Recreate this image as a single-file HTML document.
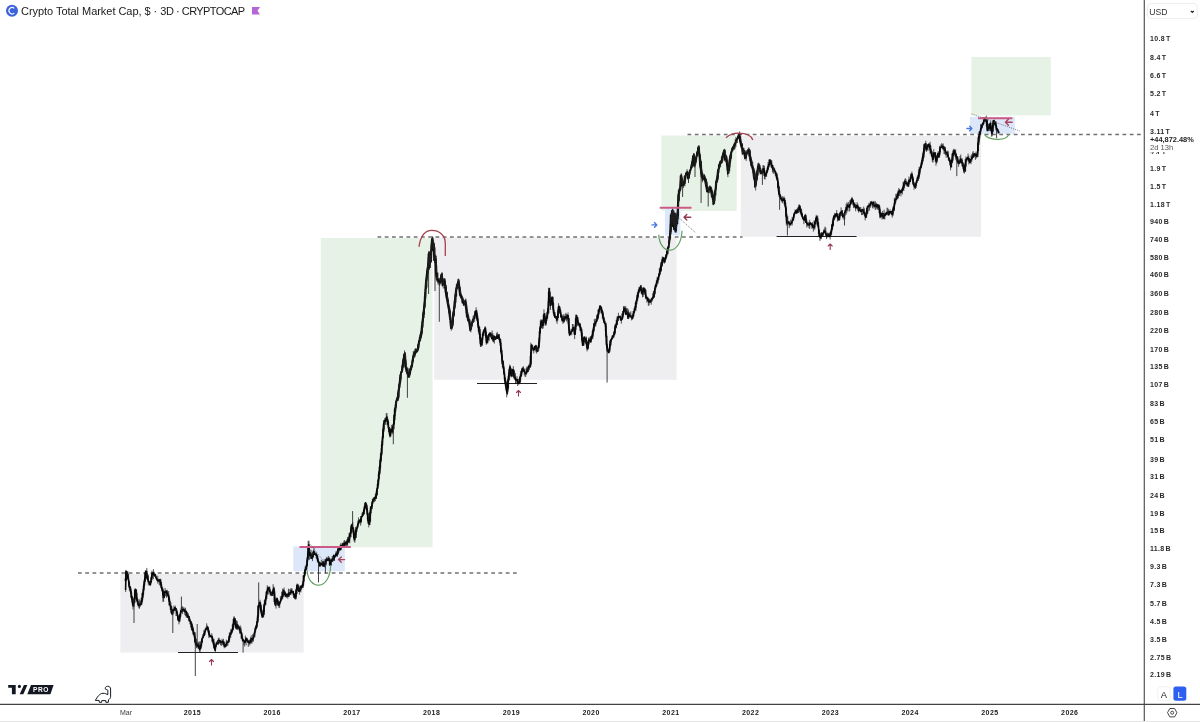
<!DOCTYPE html>
<html><head><meta charset="utf-8"><style>
html,body{margin:0;padding:0;background:#fff;}
body{will-change:transform;width:1200px;height:722px;overflow:hidden;position:relative;font-family:"Liberation Sans",sans-serif;}
.abs{position:absolute;}
svg{position:absolute;left:0;top:0;}
.yl{position:absolute;left:1150px;font-size:7px;line-height:9px;color:#2a2a2a;font-weight:bold;white-space:nowrap;word-spacing:-1.1px;letter-spacing:0.3px;}
.yr{position:absolute;top:708px;width:30px;text-align:center;font-size:7px;line-height:9px;font-weight:bold;color:#222;letter-spacing:0.4px;}
#title{position:absolute;left:21px;top:4.6px;font-size:11px;line-height:13px;color:#1a1a1a;white-space:nowrap;letter-spacing:-0.04px;}
#cc{letter-spacing:-0.6px;}
#c3{letter-spacing:-0.45px;}
</style></head><body>
<svg width="1200" height="722" viewBox="0 0 1200 722">
  <!-- boxes -->
  <rect x="120.3" y="574" width="183.4" height="78.5" fill="#eeeef1"/>
  <rect x="434.2" y="237.5" width="242.4" height="142.3" fill="#eeeef1"/>
  <rect x="740.8" y="136" width="240.3" height="100.8" fill="#eeeef1"/>
  <rect x="320.7" y="238" width="111.9" height="309.2" fill="#e7f2e6"/>
  <rect x="661.3" y="135.5" width="75.4" height="75.5" fill="#e7f2e6"/>
  <rect x="971.3" y="57" width="79.5" height="58.4" fill="#e7f2e6"/>
  <rect x="293.3" y="546.4" width="51.5" height="24.9" fill="#dce7fa"/>
  <rect x="664.9" y="208.4" width="15.5" height="27.1" fill="#dce7fa"/>
  <rect x="970" y="116.8" width="44.8" height="17" fill="#dce7fa"/>
  <!-- dashed lines -->
  <g stroke="#707070" stroke-width="1.3" stroke-dasharray="3.75 3.5">
    <line x1="78" y1="573" x2="517" y2="573"/>
    <line x1="377.5" y1="237" x2="742.5" y2="237"/>
    <line x1="687.5" y1="134.5" x2="1141" y2="134.5"/>
  </g>
  <!-- support lines -->
  <g stroke="#222" stroke-width="1.1">
    <line x1="178" y1="652.5" x2="238" y2="652.5"/>
    <line x1="477" y1="383.5" x2="537" y2="383.5"/>
    <line x1="776.6" y1="236.5" x2="856.6" y2="236.5"/>
  </g>
  <!-- price -->
  <path d="M125.66,570.6V592.1M126.39,570.8V579.9M127.12,571.8V577.1M127.86,571.1V579.9M128.59,573.7V585.3M129.31,581.7V590.8M130.04,586.9V592.1M130.77,587.3V597.5M131.50,592.3V599.7M132.23,596.2V604.7M132.96,601.7V609.4M133.69,598.0V607.0M134.42,590.3V602.4M135.15,588.0V599.7M135.88,590.3V599.2M136.61,590.3V601.8M137.34,597.4V604.5M138.07,598.7V606.6M138.80,604.2V608.3M139.53,599.4V608.7M140.26,602.0V606.9M140.99,599.8V603.1M141.72,598.3V605.0M142.45,591.9V601.9M143.18,585.7V597.6M143.91,581.2V590.4M144.64,572.2V585.5M145.37,570.4V581.7M146.10,571.0V575.2M146.83,567.9V579.6M147.56,573.3V580.5M148.29,575.8V585.4M149.02,581.4V584.0M149.75,583.2V585.1M150.48,580.9V585.6M151.21,577.4V582.2M151.94,570.6V579.7M152.67,571.9V575.3M153.40,569.1V579.2M154.13,571.7V575.7M154.86,573.2V576.8M155.59,574.2V577.2M156.32,575.6V579.4M157.05,578.1V581.2M157.78,575.7V583.6M158.51,579.1V581.5M159.24,578.8V584.9M159.97,581.1V585.6M160.70,578.7V587.9M161.43,582.0V588.2M162.16,587.7V592.1M162.89,587.8V601.9M163.62,590.2V601.7M164.35,591.5V597.7M165.08,588.0V596.3M165.81,589.9V596.2M166.54,590.0V597.8M167.27,589.8V596.3M168.00,591.6V597.4M168.73,591.0V601.8M169.46,596.8V605.2M170.19,600.9V609.9M170.92,602.4V612.9M171.65,605.9V612.4M172.38,609.4V615.5M173.11,608.2V614.6M173.84,605.5V613.5M174.57,607.0V609.7M175.30,605.6V610.9M176.03,608.1V616.0M176.76,609.4V616.1M177.49,611.6V620.7M178.22,615.1V619.9M178.95,618.8V624.4M179.68,613.7V622.2M180.41,609.9V617.6M181.14,607.9V612.6M181.87,606.2V612.4M182.60,606.4V614.1M183.33,607.5V611.8M184.06,607.4V612.0M184.79,609.0V615.1M185.52,607.7V616.1M186.25,610.2V617.5M186.98,612.2V615.4M187.71,615.1V617.1M188.44,613.4V620.9M189.17,615.9V621.9M189.90,619.3V624.4M190.63,620.5V627.6M191.36,621.8V630.3M192.09,623.9V630.6M192.82,626.1V634.6M193.55,628.3V635.0M194.28,631.8V637.9M195.01,632.6V642.4M195.74,638.2V645.5M196.47,639.0V648.0M197.20,643.4V648.5M197.93,641.5V645.7M198.66,642.3V648.8M199.39,641.5V651.7M200.12,645.9V652.7M200.85,641.4V648.6M201.58,638.7V645.6M202.31,636.7V642.8M203.04,634.2V638.5M203.77,630.2V635.6M204.50,631.1V633.9M205.23,628.5V631.8M205.96,626.8V630.1M206.69,623.3V629.3M207.42,625.5V630.0M208.15,627.6V632.9M208.88,630.6V638.1M209.61,633.4V637.2M210.34,635.3V636.6M211.07,635.0V637.4M211.80,633.2V641.8M212.53,636.1V641.8M213.26,639.7V645.5M213.99,638.7V648.9M214.72,646.5V651.1M215.45,644.9V651.6M216.18,641.8V646.5M216.91,641.6V644.3M217.64,640.3V643.2M218.37,637.9V643.4M219.10,637.8V643.6M219.83,639.5V642.5M220.56,640.3V645.1M221.29,640.7V645.9M222.02,638.8V645.3M222.75,640.8V644.8M223.48,638.8V646.6M224.21,641.3V648.3M224.94,641.8V646.2M225.67,644.2V646.6M226.40,639.6V646.6M227.13,640.4V646.0M227.86,640.6V645.8M228.59,636.2V643.0M229.32,632.6V640.2M230.05,632.3V637.9M230.78,628.9V637.8M231.51,629.6V633.6M232.24,624.7V632.7M232.97,623.6V629.7M233.70,616.6V624.5M234.43,616.5V625.1M235.16,618.1V627.8M235.89,620.0V626.9M236.62,620.6V625.8M237.35,621.3V630.0M238.08,624.6V627.1M238.81,625.8V630.5M239.54,626.5V633.7M240.27,625.3V633.2M241.00,627.1V634.1M241.73,632.0V638.7M242.46,636.4V641.4M243.19,638.9V641.9M243.92,640.1V644.8M244.65,640.7V646.6M245.38,635.5V643.3M246.11,637.1V645.3M246.84,637.8V641.2M247.57,639.5V641.8M248.30,639.8V646.8M249.03,641.1V644.4M249.76,639.4V645.6M250.49,637.2V643.3M251.22,635.3V643.3M251.95,638.0V643.7M252.68,634.2V641.9M253.41,635.8V641.5M254.14,632.0V636.6M254.87,628.2V637.4M255.60,626.2V631.6M256.33,623.9V628.6M257.06,617.7V627.6M257.79,605.7V623.2M258.52,604.2V617.2M259.25,602.1V608.2M259.98,599.7V607.0M260.71,604.0V612.6M261.44,605.3V615.1M262.17,609.6V616.0M262.90,612.7V617.0M263.63,604.4V617.4M264.36,600.2V615.0M265.09,598.8V605.1M265.82,591.7V604.6M266.55,590.8V599.3M267.28,585.3V594.3M268.01,586.4V590.4M268.74,588.5V594.5M269.47,589.8V592.0M270.20,589.4V595.5M270.93,591.7V596.1M271.66,591.5V595.0M272.39,590.3V593.9M273.12,584.2V593.6M273.85,586.5V595.4M274.58,590.2V604.2M275.31,598.9V606.3M276.04,597.8V608.6M276.77,597.4V602.1M277.50,597.9V604.7M278.23,599.5V603.5M278.96,602.3V608.1M279.69,601.1V607.8M280.42,596.1V603.4M281.15,597.4V601.1M281.88,591.5V598.2M282.61,588.7V596.9M283.34,589.1V596.7M284.07,587.5V596.9M284.80,591.7V595.2M285.53,591.5V596.7M286.26,594.1V597.9M286.99,594.4V596.4M287.72,593.0V598.7M288.45,588.7V594.6M289.18,589.2V597.0M289.91,592.3V594.9M290.64,588.5V593.6M291.37,588.3V593.0M292.10,588.6V595.4M292.83,591.1V593.6M293.56,590.8V598.0M294.29,594.3V598.2M295.02,593.0V599.0M295.75,590.3V598.3M296.48,584.7V596.9M297.21,583.4V594.0M297.94,584.5V590.3M298.67,585.7V591.9M299.40,586.5V594.7M300.13,585.6V591.8M300.86,585.5V592.4M301.59,585.2V589.7M302.32,584.5V587.3M303.05,575.5V588.1M303.78,574.9V581.1M304.51,569.4V576.5M305.24,566.0V575.6M305.97,564.6V570.0M306.70,560.2V570.5M307.43,553.3V565.8M308.16,540.9V560.3M308.89,540.6V556.8M309.62,547.4V559.8M310.35,552.1V558.7M311.08,549.8V556.6M311.81,555.9V558.5M312.54,551.9V561.1M313.27,550.0V557.2M314.00,547.8V554.6M314.73,551.2V555.1M315.46,554.1V555.7M316.19,552.6V558.5M316.92,555.1V559.2M317.65,555.9V562.2M318.38,558.4V563.1M319.11,561.1V564.8M319.84,562.0V563.9M320.57,562.5V565.1M321.30,559.9V565.4M322.03,563.2V566.1M322.76,560.7V566.9M323.49,561.7V566.4M324.22,559.2V565.7M324.95,561.5V567.6M325.68,560.6V563.7M326.41,557.5V565.3M327.14,556.7V561.2M327.88,558.5V561.0M328.61,556.0V560.9M329.34,557.2V565.2M330.07,559.5V564.6M330.80,558.4V561.3M331.53,558.8V565.5M332.26,556.0V561.8M332.99,558.0V561.7M333.72,554.5V560.5M334.45,555.9V561.0M335.18,555.8V557.5M335.91,551.4V556.5M336.64,551.3V556.0M337.37,551.9V556.9M338.10,548.0V554.8M338.83,546.6V552.7M339.56,546.7V550.5M340.29,544.3V549.9M341.02,542.8V550.1M341.75,545.0V548.0M342.48,544.3V547.3M343.21,542.4V547.1M343.94,540.7V545.3M344.67,540.0V546.1M345.40,541.1V545.2M346.13,542.4V547.4M346.86,539.4V547.7M347.59,537.0V545.6M348.32,536.6V542.4M349.05,532.9V542.0M349.78,532.7V543.3M350.51,528.4V537.5M351.24,524.4V533.7M351.97,524.1V526.8M352.70,522.1V532.6M353.43,528.4V537.2M354.16,530.1V541.8M354.89,533.0V542.7M355.62,526.8V537.5M356.35,527.5V534.3M357.08,526.0V531.9M357.81,520.6V527.7M358.54,517.4V525.6M359.27,520.1V522.5M360.00,520.3V524.0M360.73,518.4V525.7M361.46,516.5V522.5M362.19,512.8V517.1M362.92,511.6V516.2M363.65,509.3V514.0M364.38,505.6V514.4M365.11,502.7V509.6M365.84,502.2V506.8M366.57,503.6V511.1M367.30,505.2V519.4M368.03,513.7V523.4M368.76,520.6V527.4M369.49,512.1V525.1M370.22,508.2V522.5M370.95,506.0V513.7M371.68,501.5V509.8M372.41,498.9V508.9M373.14,497.7V503.5M373.87,498.7V501.1M374.60,496.5V502.1M375.33,493.8V501.1M376.06,491.2V498.9M376.79,488.0V496.3M377.52,479.7V490.5M378.25,474.1V488.7M378.98,466.8V479.5M379.71,459.6V474.8M380.44,453.0V469.9M381.17,448.1V462.2M381.90,441.0V455.5M382.63,430.9V445.4M383.36,423.5V437.7M384.09,420.1V431.6M384.82,417.9V422.8M385.55,417.7V424.8M386.28,413.1V420.0M387.01,413.2V425.1M387.74,420.5V425.3M388.47,420.9V432.1M389.20,427.8V434.2M389.93,430.6V437.6M390.66,428.2V436.6M391.39,424.9V432.5M392.12,427.0V432.1M392.85,425.2V434.5M393.58,419.6V428.6M394.31,409.4V424.6M395.04,404.6V419.9M395.77,401.5V411.5M396.50,398.7V407.7M397.23,397.5V401.3M397.96,391.6V400.1M398.69,384.4V398.9M399.42,380.1V390.3M400.15,374.3V387.6M400.88,370.9V382.4M401.61,365.5V372.9M402.34,364.6V372.3M403.07,360.1V367.9M403.80,353.5V366.4M404.53,350.4V361.2M405.26,352.5V366.6M405.99,359.8V372.0M406.72,366.5V371.9M407.45,368.5V374.0M408.18,367.8V378.0M408.91,369.2V376.6M409.64,367.9V377.9M410.37,368.7V374.5M411.10,365.2V369.9M411.83,360.3V367.8M412.56,358.4V366.7M413.29,350.9V361.7M414.02,352.3V357.7M414.75,349.0V357.7M415.48,348.1V356.2M416.21,349.2V353.6M416.94,348.4V352.7M417.67,344.2V352.2M418.40,341.8V349.9M419.13,337.5V348.2M419.86,334.1V341.8M420.59,333.6V340.2M421.32,325.5V338.3M422.05,320.8V335.4M422.78,312.5V328.1M423.51,308.7V322.0M424.24,302.3V318.1M424.97,292.3V308.1M425.70,280.5V299.2M426.43,275.3V289.2M427.16,269.4V280.6M427.89,263.3V275.2M428.62,251.2V267.3M429.35,253.8V270.1M430.08,254.8V264.4M430.81,249.9V262.8M431.54,239.9V257.5M432.27,237.7V248.5M433.00,239.6V251.3M433.73,241.8V253.6M434.46,248.3V262.9M435.19,255.8V262.9M435.92,259.1V276.4M436.65,265.1V277.1M437.38,272.8V280.2M438.11,278.6V284.8M438.84,277.7V284.1M439.57,278.2V286.0M440.30,277.8V284.4M441.03,273.9V284.2M441.76,273.2V278.4M442.49,274.2V284.9M443.22,278.4V288.5M443.95,278.2V284.9M444.68,278.6V286.2M445.41,281.6V292.8M446.14,284.9V298.8M446.87,291.5V300.6M447.60,296.2V305.6M448.33,299.8V309.4M449.06,306.2V313.7M449.79,308.3V318.9M450.52,314.7V325.4M451.25,319.5V330.7M451.98,322.5V329.6M452.71,317.7V327.1M453.44,311.0V321.9M454.17,300.7V316.7M454.90,294.3V308.8M455.63,289.2V303.6M456.36,284.1V296.6M457.09,283.3V288.3M457.82,278.9V284.7M458.55,278.6V284.7M459.28,282.7V290.9M460.01,287.2V296.7M460.74,290.8V298.2M461.47,294.0V298.2M462.20,296.1V303.4M462.93,297.5V303.2M463.66,299.7V304.4M464.39,301.8V304.6M465.12,300.6V307.0M465.85,298.5V309.1M466.58,304.3V317.5M467.31,309.3V319.8M468.04,312.3V318.8M468.77,316.2V321.5M469.50,319.7V329.0M470.23,324.2V331.8M470.96,325.1V332.3M471.69,320.6V326.2M472.42,319.3V326.5M473.15,315.8V322.4M473.88,314.8V319.9M474.61,311.1V321.8M475.34,310.6V315.1M476.07,307.3V314.9M476.80,309.8V321.3M477.53,315.0V325.4M478.26,318.9V332.0M478.99,326.8V334.5M479.72,326.5V339.3M480.45,333.5V347.0M481.18,338.0V347.0M481.91,337.2V346.0M482.64,331.6V343.0M483.37,329.7V336.2M484.10,329.1V335.8M484.83,326.6V330.2M485.56,326.5V337.7M486.29,331.2V344.8M487.02,340.1V343.1M487.75,335.5V343.3M488.48,334.5V340.0M489.21,333.4V340.8M489.94,332.8V336.6M490.67,333.1V337.3M491.40,333.5V336.0M492.13,330.5V340.1M492.86,333.2V338.0M493.59,335.4V342.3M494.32,335.2V343.6M495.05,338.8V340.1M495.78,337.4V339.2M496.51,333.3V339.1M497.24,331.8V337.7M497.97,333.6V337.4M498.70,334.9V340.0M499.43,334.0V342.6M500.16,339.0V345.9M500.89,342.8V353.2M501.62,347.4V364.2M502.35,354.2V367.3M503.08,361.4V369.3M503.81,365.7V374.5M504.54,373.1V381.1M505.27,377.3V386.2M506.00,380.4V390.4M506.73,386.9V397.4M507.46,379.4V394.9M508.19,375.6V391.5M508.92,369.2V380.1M509.65,364.6V373.6M510.38,365.5V374.3M511.11,368.5V377.3M511.84,368.8V376.2M512.57,368.8V376.8M513.30,366.2V373.9M514.03,370.6V378.5M514.76,375.3V379.6M515.49,373.1V384.0M516.22,378.5V383.8M516.95,376.2V382.2M517.68,379.3V386.1M518.41,382.5V384.0M519.14,378.4V383.6M519.87,376.6V384.1M520.60,371.3V382.5M521.33,371.2V377.1M522.06,368.2V373.2M522.79,366.8V370.1M523.52,366.4V372.0M524.25,369.2V375.2M524.98,368.4V376.7M525.71,372.0V376.9M526.44,367.5V373.0M527.17,366.1V372.2M527.90,366.8V371.5M528.63,364.6V369.6M529.36,365.7V370.2M530.09,355.8V367.7M530.82,342.6V363.8M531.55,344.1V353.6M532.28,345.4V348.4M533.01,347.9V350.7M533.74,347.4V353.4M534.47,346.0V350.4M535.20,345.6V350.2M535.93,344.7V352.2M536.66,345.1V353.6M537.39,347.5V352.1M538.12,345.5V348.5M538.85,337.9V348.3M539.58,327.5V344.1M540.31,320.4V333.3M541.04,319.0V328.1M541.77,320.5V324.7M542.50,319.6V328.9M543.23,314.5V328.4M543.96,309.3V325.7M544.69,313.2V322.7M545.42,317.4V325.5M546.15,317.7V325.7M546.88,311.9V321.0M547.61,308.0V318.5M548.34,291.9V313.9M549.07,287.5V302.8M549.80,291.9V306.1M550.53,300.2V309.9M551.26,297.7V305.3M551.99,296.8V301.6M552.72,297.1V309.6M553.45,302.1V315.7M554.18,309.9V316.7M554.91,312.1V318.2M555.64,315.6V318.8M556.37,316.2V321.7M557.10,316.0V323.8M557.83,309.6V317.7M558.56,303.2V313.6M559.29,305.5V310.3M560.02,306.7V314.0M560.75,309.6V316.9M561.48,314.3V320.7M562.21,314.7V322.2M562.94,316.0V323.9M563.67,314.3V323.0M564.40,316.6V322.3M565.13,314.1V320.3M565.86,312.8V320.3M566.59,313.9V321.5M567.32,314.3V318.3M568.05,312.5V323.7M568.78,318.1V333.5M569.51,326.7V336.1M570.24,331.7V335.1M570.97,329.1V332.6M571.70,328.7V335.2M572.43,324.0V331.7M573.16,324.1V330.3M573.89,327.6V334.5M574.62,328.9V339.1M575.35,318.2V334.2M576.08,314.2V329.8M576.81,316.4V320.8M577.54,316.7V325.9M578.27,320.3V325.2M579.00,322.2V326.6M579.73,323.7V327.4M580.46,323.2V331.2M581.19,326.8V336.2M581.92,332.0V342.1M582.65,338.0V346.0M583.38,337.0V345.4M584.11,336.7V342.8M584.84,336.8V341.7M585.57,337.9V343.7M586.30,336.5V345.5M587.03,342.2V351.4M587.76,341.9V349.7M588.49,337.6V347.8M589.22,338.3V344.6M589.95,336.8V342.1M590.68,336.5V342.8M591.41,336.4V340.0M592.14,331.3V337.8M592.87,328.7V339.1M593.60,323.2V332.8M594.33,319.3V331.2M595.06,318.6V326.4M595.79,319.1V326.6M596.52,315.1V321.7M597.25,314.3V320.1M597.98,309.9V318.7M598.71,309.6V315.1M599.44,305.9V312.2M600.17,305.1V310.1M600.90,307.0V313.2M601.63,307.4V313.2M602.36,310.6V318.7M603.09,311.2V320.3M603.82,316.8V323.0M604.55,318.5V324.0M605.28,320.8V331.1M606.01,322.9V344.8M606.74,335.8V351.4M607.47,343.9V352.0M608.20,349.0V353.3M608.93,347.4V353.4M609.66,340.4V351.6M610.39,340.4V346.0M611.12,338.8V345.4M611.85,335.6V339.7M612.58,335.8V339.5M613.31,335.1V337.8M614.04,331.7V337.7M614.77,324.6V335.2M615.50,324.7V329.9M616.23,319.7V328.1M616.96,316.6V324.7M617.69,316.0V321.5M618.42,312.8V320.9M619.15,316.3V317.5M619.88,316.4V319.6M620.61,317.2V321.1M621.34,318.1V323.7M622.07,313.7V320.0M622.80,310.7V318.3M623.53,306.2V315.0M624.26,305.9V312.0M624.99,308.9V313.6M625.72,306.0V315.1M626.45,308.1V314.3M627.18,308.2V314.1M627.91,308.7V314.9M628.64,310.2V317.5M629.37,312.4V317.4M630.10,312.7V317.4M630.83,311.3V317.4M631.56,316.5V320.4M632.29,314.5V319.7M633.02,311.0V318.8M633.75,311.1V316.7M634.48,308.1V312.8M635.21,302.7V310.0M635.94,300.2V311.0M636.67,294.8V303.6M637.40,292.3V300.9M638.13,290.2V297.9M638.86,287.1V292.7M639.59,287.1V291.9M640.32,285.6V288.9M641.05,284.9V291.3M641.78,288.9V294.2M642.51,287.7V297.3M643.24,287.4V296.9M643.97,288.7V292.0M644.70,288.9V294.6M645.43,288.7V298.5M646.16,295.4V299.4M646.89,298.1V302.7M647.62,298.1V301.4M648.35,297.7V305.8M649.08,298.4V305.5M649.81,300.3V302.4M650.54,299.3V303.1M651.27,298.1V304.7M652.00,297.7V301.8M652.73,293.2V300.4M653.46,290.9V298.9M654.19,291.1V297.4M654.92,285.2V293.8M655.65,284.2V288.4M656.38,279.7V286.9M657.11,276.8V285.7M657.84,276.9V284.1M658.57,273.8V280.0M659.30,268.0V276.0M660.03,266.9V274.7M660.76,264.9V271.5M661.49,259.2V269.9M662.22,256.5V264.9M662.95,257.2V263.4M663.68,256.8V262.3M664.41,258.1V263.6M665.14,256.9V262.0M665.87,254.8V259.7M666.60,251.1V257.0M667.33,249.2V253.7M668.06,245.7V253.7M668.79,240.3V248.0M669.52,236.0V244.3M670.25,223.9V238.8M670.98,212.9V234.3M671.71,210.1V224.1M672.44,209.6V226.8M673.17,210.4V227.7M673.90,210.2V228.1M674.63,214.0V230.8M675.36,213.3V230.8M676.09,212.6V233.0M676.82,216.4V226.6M677.55,205.5V224.5M678.28,190.4V219.4M679.01,188.2V200.6M679.74,187.1V193.9M680.47,175.8V190.2M681.20,174.6V181.1M681.93,177.3V186.9M682.66,182.9V185.7M683.39,181.5V188.1M684.12,176.0V185.1M684.85,175.1V186.4M685.58,173.4V180.8M686.31,171.7V175.3M687.04,169.2V176.2M687.77,172.7V178.9M688.50,172.9V177.7M689.23,170.4V179.0M689.96,169.2V174.9M690.69,166.8V171.2M691.42,164.1V167.7M692.15,160.5V168.0M692.88,155.3V166.3M693.61,153.0V162.4M694.34,153.8V167.3M695.07,157.6V167.3M695.80,156.6V164.4M696.53,152.3V160.0M697.26,151.2V156.7M697.99,146.0V153.4M698.72,145.7V151.2M699.45,147.3V158.8M700.18,155.1V167.1M700.91,159.6V173.8M701.64,165.2V178.2M702.37,171.8V182.3M703.10,173.3V180.5M703.83,177.4V180.2M704.56,176.5V180.2M705.29,178.8V182.6M706.02,178.8V186.2M706.75,180.7V190.0M707.48,186.5V192.2M708.21,186.2V193.1M708.94,188.3V193.2M709.67,185.8V193.1M710.40,186.9V191.8M711.13,186.8V193.4M711.86,190.3V195.3M712.59,191.6V199.7M713.32,195.3V203.3M714.05,193.4V204.1M714.78,189.4V200.9M715.51,181.6V194.6M716.24,178.6V188.2M716.97,175.4V182.5M717.70,169.6V181.7M718.43,164.9V178.1M719.16,163.3V172.9M719.89,160.8V167.4M720.62,160.8V167.2M721.35,157.4V162.5M722.08,157.0V160.2M722.81,153.4V161.4M723.54,150.8V157.7M724.27,150.0V157.9M725.00,149.6V161.4M725.73,156.0V159.9M726.46,156.9V163.8M727.19,159.9V170.2M727.92,164.2V177.2M728.65,165.7V173.2M729.38,159.9V170.4M730.11,154.6V167.4M730.84,152.2V161.5M731.57,147.6V157.3M732.30,147.9V152.1M733.03,146.3V151.3M733.76,143.5V150.1M734.49,142.9V149.7M735.22,139.0V148.6M735.95,136.9V146.8M736.68,138.6V140.5M737.41,137.3V143.0M738.14,133.6V139.2M738.87,132.9V137.1M739.60,131.5V142.1M740.33,137.3V142.8M741.06,142.0V146.6M741.79,144.6V148.0M742.52,143.4V149.7M743.25,148.1V152.1M743.98,147.8V153.6M744.71,149.8V156.6M745.44,151.5V159.0M746.17,150.0V160.9M746.90,151.8V155.2M747.63,149.7V153.6M748.36,147.6V152.5M749.09,147.6V156.6M749.82,148.9V161.6M750.55,154.4V162.0M751.28,158.9V165.9M752.01,160.5V167.2M752.74,161.9V169.8M753.47,167.5V173.4M754.20,168.4V180.2M754.93,171.8V187.0M755.66,179.4V190.5M756.39,172.2V184.6M757.12,170.1V180.7M757.85,163.1V175.6M758.58,162.6V169.0M759.31,164.7V169.3M760.04,167.9V174.3M760.77,167.9V173.7M761.50,171.2V173.4M762.23,168.8V174.7M762.96,165.2V173.1M763.69,165.2V173.3M764.42,165.9V179.2M765.15,171.5V179.5M765.88,173.2V176.3M766.61,170.2V176.9M767.34,166.6V171.5M768.07,162.1V170.2M768.80,159.5V167.6M769.53,159.1V166.2M770.26,159.0V163.5M770.99,160.6V167.3M771.72,160.1V168.1M772.45,164.6V172.2M773.18,165.0V173.5M773.91,166.9V173.9M774.64,168.2V171.9M775.37,170.3V176.4M776.10,171.7V178.2M776.83,173.5V180.5M777.56,178.2V187.4M778.29,180.8V191.2M779.02,186.3V196.9M779.75,191.1V197.7M780.48,195.7V199.8M781.21,197.2V201.3M781.94,197.8V202.4M782.67,196.0V203.3M783.40,197.4V200.5M784.13,196.5V204.5M784.86,200.5V206.9M785.59,203.4V216.6M786.32,206.6V225.5M787.05,214.3V224.0M787.78,216.3V225.4M788.51,221.2V223.4M789.24,222.3V228.1M789.97,222.7V225.4M790.70,219.6V225.9M791.43,221.2V223.6M792.16,216.8V225.5M792.89,217.5V221.0M793.62,214.1V220.7M794.35,212.0V217.5M795.08,209.4V214.3M795.81,210.1V213.2M796.54,209.1V214.1M797.27,208.5V211.6M798.00,207.2V212.7M798.73,204.6V210.6M799.46,204.5V212.2M800.19,206.2V213.2M800.92,208.5V215.2M801.65,209.3V217.2M802.38,212.5V219.5M803.11,216.5V219.1M803.84,218.5V224.2M804.57,215.5V220.6M805.30,213.8V220.3M806.03,215.4V222.7M806.76,222.0V227.5M807.49,223.3V226.4M808.22,221.8V224.9M808.95,222.9V228.1M809.68,219.8V229.0M810.41,222.4V225.0M811.14,222.7V226.5M811.87,222.8V228.8M812.60,222.2V227.9M813.33,226.2V231.7M814.06,220.4V229.4M814.79,220.9V229.7M815.52,218.5V224.3M816.25,214.8V221.5M816.98,217.1V225.5M817.71,215.4V226.8M818.44,222.5V236.1M819.17,229.7V236.8M819.90,232.7V240.9M820.63,235.7V239.3M821.36,232.0V239.1M822.09,232.0V234.4M822.82,232.8V236.1M823.55,229.7V234.0M824.28,228.5V232.4M825.01,226.6V233.7M825.74,227.5V236.1M826.47,233.8V239.1M827.20,232.5V237.6M827.93,232.7V236.5M828.66,233.0V237.1M829.39,233.9V236.6M830.12,232.7V239.5M830.85,230.4V237.1M831.58,224.6V234.7M832.31,221.6V230.0M833.04,217.5V225.8M833.77,215.3V220.9M834.50,213.2V219.9M835.23,213.5V218.5M835.96,213.2V216.9M836.69,210.1V216.3M837.42,213.9V221.6M838.15,213.6V220.7M838.88,216.0V219.3M839.61,213.0V217.6M840.34,211.6V215.6M841.07,207.4V216.0M841.80,210.0V216.2M842.53,209.9V217.5M843.26,213.0V219.6M843.99,213.5V218.3M844.72,211.4V219.3M845.45,207.0V212.6M846.18,203.8V214.7M846.91,202.3V212.7M847.64,203.7V210.8M848.37,201.9V207.5M849.10,204.2V211.7M849.83,200.3V210.8M850.56,199.5V205.0M851.29,199.9V203.3M852.02,196.8V204.1M852.75,199.7V205.2M853.48,199.6V208.1M854.21,203.2V206.4M854.94,202.6V208.2M855.67,204.0V211.3M856.40,204.9V208.3M857.13,202.1V208.1M857.86,203.9V208.7M858.59,206.0V212.6M859.32,207.1V210.4M860.05,207.0V212.2M860.78,207.0V211.5M861.51,210.2V214.9M862.24,208.7V215.1M862.97,208.8V215.0M863.70,206.6V214.0M864.43,208.4V216.3M865.16,213.7V220.4M865.89,212.2V217.3M866.62,207.9V218.0M867.35,206.1V214.2M868.08,204.9V211.4M868.81,203.1V206.9M869.54,203.7V210.7M870.27,201.5V207.9M871.00,201.0V206.4M871.73,200.9V204.5M872.46,202.8V208.3M873.19,202.0V206.9M873.92,200.9V208.6M874.65,205.0V207.4M875.38,201.2V210.0M876.11,202.7V208.1M876.84,203.3V209.3M877.57,204.1V209.6M878.30,204.2V208.1M879.03,204.1V213.2M879.76,205.8V218.2M880.49,212.9V218.1M881.22,212.4V217.2M881.95,212.7V219.7M882.68,210.8V215.2M883.41,213.2V215.8M884.14,209.7V219.4M884.87,213.1V219.3M885.60,212.5V216.2M886.33,211.8V215.3M887.06,207.8V214.2M887.79,207.8V214.2M888.52,209.4V215.6M889.25,211.2V215.5M889.98,209.3V214.2M890.71,210.9V213.8M891.44,211.2V215.1M892.17,212.4V217.7M892.90,206.6V216.1M893.63,205.9V210.7M894.36,197.8V211.2M895.09,198.8V204.6M895.82,193.9V202.8M896.55,194.1V200.3M897.28,192.8V199.4M898.01,190.3V198.7M898.74,188.1V196.3M899.47,188.9V195.9M900.20,190.4V193.1M900.93,189.7V196.4M901.66,188.6V193.0M902.39,187.4V194.5M903.12,181.8V189.7M903.85,181.5V191.0M904.58,179.5V188.2M905.31,178.1V184.3M906.04,179.2V185.6M906.77,182.9V186.3M907.50,182.5V185.2M908.23,180.7V187.0M908.96,176.5V182.7M909.69,178.7V184.5M910.42,177.3V182.2M911.15,173.5V177.9M911.88,171.5V178.6M912.61,175.9V184.5M913.34,177.5V185.1M914.07,182.3V189.8M914.80,184.2V187.6M915.53,183.2V189.0M916.26,180.8V187.8M916.99,176.9V183.3M917.72,174.8V181.0M918.45,169.4V180.9M919.18,166.5V176.4M919.91,167.0V174.3M920.64,164.9V169.1M921.37,161.8V167.9M922.10,156.7V164.7M922.83,152.9V161.3M923.56,144.2V159.1M924.29,143.5V154.1M925.02,143.3V148.7M925.75,140.8V151.1M926.48,146.8V151.9M927.21,144.3V148.6M927.94,144.0V151.1M928.67,143.6V146.5M929.40,145.4V150.4M930.13,141.7V154.3M930.86,145.6V153.6M931.59,150.4V156.7M932.32,151.4V162.2M933.05,153.5V162.5M933.78,149.2V158.3M934.51,152.6V156.6M935.24,153.0V161.7M935.97,155.9V165.8M936.70,156.7V163.5M937.43,152.8V158.4M938.16,151.3V157.9M938.89,151.4V157.6M939.62,145.8V155.7M940.35,146.8V152.1M941.08,144.2V148.1M941.81,143.1V147.6M942.54,144.5V149.2M943.27,143.5V150.4M944.00,146.5V154.0M944.73,146.6V154.2M945.46,147.1V155.3M946.19,151.6V157.8M946.92,152.0V154.8M947.65,150.6V156.9M948.38,151.3V160.5M949.11,157.2V161.2M949.84,158.2V165.1M950.57,161.8V170.3M951.30,159.3V166.5M952.03,153.4V162.1M952.76,150.5V161.1M953.49,149.1V155.9M954.22,148.8V153.9M954.95,150.4V156.9M955.68,149.3V159.7M956.41,153.6V161.3M957.14,156.0V161.8M957.87,157.6V164.0M958.60,159.8V166.8M959.33,161.0V164.3M960.06,156.1V163.2M960.79,154.5V163.2M961.52,159.3V162.7M962.25,158.3V166.3M962.98,162.7V169.3M963.71,162.4V172.8M964.44,164.3V173.6M965.17,159.0V171.8M965.90,156.5V167.1M966.63,158.0V161.4M967.36,156.7V159.9M968.09,153.5V161.6M968.82,155.7V164.5M969.55,158.0V163.4M970.28,159.2V162.9M971.01,155.4V164.2M971.74,154.2V161.9M972.47,152.6V159.2M973.20,151.1V157.7M973.93,152.8V156.2M974.66,153.4V156.9M975.39,152.8V159.9M976.12,151.5V158.5M976.85,153.3V156.8M977.58,143.0V156.7M978.31,136.8V151.1M979.04,131.6V144.9M979.77,131.2V139.4M980.50,124.3V134.6M981.23,125.4V131.3M981.96,124.6V128.0M982.69,122.4V125.5M983.42,117.1V125.3M984.15,117.0V121.9M984.88,117.5V121.0M985.61,116.9V122.3M986.34,115.6V126.1M987.07,118.2V131.4M987.80,124.0V131.4M988.53,123.7V129.4M989.26,123.6V130.6M989.99,123.2V131.1M990.72,121.2V131.4M991.45,126.5V136.6M992.18,125.8V136.3M992.91,120.3V131.8M993.64,120.0V127.8M994.37,119.6V125.7M995.10,121.2V124.8M995.83,121.7V130.3M996.56,125.5V131.5M997.29,128.5V130.7M998.02,129.7V133.5M998.75,131.3V133.4" fill="none" stroke="#111" stroke-width="0.7"/>
  <path d="M125.66,579.4V580.4M126.39,572.9V579.9M127.12,572.9V574.2M127.86,574.2V577.6M128.59,577.6V581.7M129.31,581.7V587.0M130.04,587.0V589.0M130.77,589.0V592.3M131.50,592.3V597.2M132.23,597.2V602.3M132.96,602.3V605.3M133.69,601.8V605.3M134.42,597.0V601.8M135.15,590.3V597.0M135.88,590.3V593.7M136.61,593.7V599.2M137.34,599.2V602.5M138.07,602.5V605.3M138.80,604.9V605.9M139.53,604.6V605.6M140.26,602.9V604.7M140.99,601.0V602.9M141.72,598.5V601.0M142.45,594.1V598.5M143.18,589.3V594.1M143.91,585.3V589.3M144.64,580.4V585.3M145.37,573.2V580.4M146.10,571.8V573.2M146.83,571.8V575.6M147.56,575.6V579.2M148.29,579.2V582.4M149.02,582.3V583.3M149.75,583.2V584.9M150.48,582.1V584.9M151.21,577.7V582.1M151.94,573.9V577.7M152.67,572.6V573.9M153.40,572.3V573.3M154.13,573.0V574.5M154.86,574.0V575.0M155.59,574.4V577.1M156.32,577.1V579.2M157.05,578.7V579.7M157.78,579.3V581.2M158.51,580.3V581.3M159.24,580.4V582.1M159.97,581.5V582.5M160.70,581.9V585.0M161.43,585.0V587.7M162.16,587.7V590.1M162.89,590.1V594.4M163.62,594.4V597.3M164.35,593.0V597.3M165.08,592.1V593.1M165.81,592.0V593.0M166.54,592.2V593.2M167.27,592.5V594.9M168.00,594.5V595.5M168.73,595.0V599.3M169.46,599.3V604.5M170.19,604.5V605.5M170.92,605.5V606.6M171.65,606.6V609.8M172.38,609.4V610.4M173.11,609.7V610.7M173.84,609.1V610.4M174.57,607.5V609.1M175.30,607.3V608.3M176.03,608.2V610.7M176.76,610.7V612.6M177.49,612.6V616.6M178.22,616.6V618.9M178.95,618.8V619.8M179.68,615.9V619.7M180.41,612.1V615.9M181.14,609.6V612.1M181.87,609.0V610.0M182.60,609.2V610.2M183.33,609.4V610.4M184.06,609.7V610.7M184.79,610.3V611.3M185.52,611.1V612.3M186.25,611.8V612.8M186.98,612.4V615.2M187.71,615.1V616.1M188.44,615.6V616.6M189.17,616.1V619.5M189.90,619.5V620.9M190.63,620.9V623.7M191.36,623.7V625.0M192.09,625.0V626.8M192.82,626.8V629.4M193.55,629.4V633.2M194.28,633.2V636.6M195.01,636.6V641.0M195.74,641.0V642.7M196.47,642.7V644.3M197.20,643.6V644.6M197.93,643.8V645.0M198.66,644.6V645.6M199.39,645.3V646.9M200.12,646.9V647.9M200.85,645.5V647.9M201.58,642.6V645.5M202.31,637.9V642.6M203.04,634.5V637.9M203.77,632.9V634.5M204.50,631.8V632.9M205.23,629.0V631.8M205.96,628.6V629.6M206.69,627.7V629.2M207.42,627.6V628.6M208.15,628.5V631.4M208.88,631.4V634.9M209.61,634.9V636.4M210.34,635.4V636.4M211.07,635.4V637.1M211.80,636.4V637.4M212.53,636.6V640.0M213.26,640.0V642.8M213.99,642.8V647.2M214.72,647.2V650.3M215.45,646.5V650.3M216.18,643.3V646.5M216.91,641.7V643.3M217.64,640.3V641.7M218.37,639.6V640.6M219.10,639.9V640.9M219.83,640.8V641.8M220.56,641.6V642.6M221.29,641.8V642.8M222.02,641.8V642.8M222.75,642.3V643.3M223.48,642.6V643.6M224.21,643.1V644.8M224.94,644.8V645.8M225.67,644.3V645.8M226.40,642.8V644.3M227.13,642.4V643.4M227.86,641.4V642.9M228.59,639.8V641.4M229.32,635.4V639.8M230.05,632.8V635.4M230.78,631.5V632.8M231.51,630.6V631.6M232.24,629.2V630.7M232.97,624.5V629.2M233.70,620.0V624.5M234.43,619.3V620.3M235.16,619.6V623.6M235.89,623.5V624.5M236.62,624.4V625.8M237.35,625.0V626.0M238.08,625.2V626.2M238.81,626.1V628.7M239.54,628.0V629.0M240.27,628.4V629.5M241.00,629.5V633.4M241.73,633.4V637.6M242.46,637.6V640.3M243.19,639.7V640.7M243.92,640.1V642.1M244.65,641.9V642.9M245.38,641.1V642.7M246.11,638.6V641.1M246.84,638.6V639.7M247.57,639.5V640.5M248.30,640.4V643.0M249.03,641.6V643.0M249.76,640.2V641.6M250.49,640.2V641.3M251.22,640.7V641.7M251.95,639.8V641.1M252.68,637.8V639.8M253.41,635.9V637.8M254.14,633.3V635.9M254.87,631.0V633.3M255.60,628.4V631.0M256.33,626.3V628.4M257.06,622.1V626.3M257.79,616.4V622.1M258.52,606.5V616.4M259.25,602.6V606.5M259.98,602.6V604.9M260.71,604.9V609.3M261.44,609.3V612.9M262.17,612.9V615.5M262.90,614.0V615.5M263.63,611.5V614.0M264.36,604.2V611.5M265.09,600.6V604.2M265.82,597.8V600.6M266.55,592.2V597.8M267.28,590.4V592.2M268.01,588.9V590.4M268.74,588.9V590.8M269.47,590.8V591.9M270.20,591.4V592.4M270.93,591.8V592.8M271.66,592.4V593.4M272.39,591.6V593.2M273.12,589.2V591.6M273.85,589.2V592.6M274.58,592.6V601.1M275.31,601.1V604.8M276.04,601.0V604.8M276.77,598.2V601.0M277.50,598.2V600.9M278.23,600.9V603.2M278.96,603.2V605.1M279.69,602.1V605.1M280.42,600.1V602.1M281.15,597.8V600.1M281.88,596.7V597.8M282.61,593.2V596.7M283.34,590.1V593.2M284.07,590.1V592.4M284.80,592.4V594.9M285.53,594.9V596.7M286.26,596.0V597.0M286.99,594.8V596.4M287.72,593.8V594.8M288.45,592.7V593.8M289.18,592.2V593.2M289.91,592.3V593.3M290.64,592.2V593.2M291.37,591.9V592.9M292.10,591.6V592.6M292.83,591.2V592.2M293.56,591.3V595.0M294.29,595.0V597.7M295.02,597.5V598.5M295.75,593.1V598.3M296.48,590.1V593.1M297.21,585.4V590.1M297.94,585.4V589.4M298.67,589.4V591.2M299.40,590.6V591.6M300.13,589.6V591.1M300.86,586.8V589.6M301.59,585.5V586.8M302.32,584.6V585.6M303.05,581.0V584.7M303.78,576.1V581.0M304.51,573.0V576.1M305.24,569.9V573.0M305.97,568.8V569.9M306.70,565.3V568.8M307.43,558.5V565.3M308.16,548.4V558.5M308.89,548.4V549.6M309.62,549.6V555.7M310.35,553.4V555.7M311.08,553.4V556.1M311.81,556.1V557.1M312.54,556.4V557.4M313.27,554.0V556.8M314.00,553.5V554.5M314.73,553.8V554.8M315.46,554.2V555.2M316.19,554.5V555.5M316.92,555.1V556.2M317.65,556.2V560.1M318.38,560.1V563.0M319.11,562.0V563.0M319.84,562.1V563.5M320.57,563.5V564.5M321.30,563.8V564.8M322.03,564.0V565.0M322.76,564.9V566.1M323.49,564.3V566.1M324.22,562.7V564.3M324.95,562.7V563.7M325.68,561.7V563.7M326.41,560.4V561.7M327.14,558.7V560.4M327.88,558.7V559.8M328.61,559.7V560.7M329.34,560.2V561.2M330.07,559.7V560.8M330.80,559.7V561.3M331.53,560.9V561.9M332.26,560.4V561.6M332.99,559.7V560.7M333.72,559.3V560.3M334.45,557.0V559.5M335.18,556.0V557.0M335.91,555.5V556.5M336.64,554.9V556.0M337.37,554.0V555.0M338.10,551.6V554.2M338.83,549.2V551.6M339.56,548.4V549.4M340.29,546.3V548.6M341.02,545.5V546.5M341.75,545.3V546.3M342.48,544.5V545.8M343.21,543.6V544.6M343.94,542.7V543.7M344.67,542.8V544.3M345.40,542.6V544.3M346.13,542.6V544.1M346.86,543.7V544.7M347.59,541.4V544.2M348.32,541.2V542.2M349.05,539.8V542.0M349.78,536.1V539.8M350.51,532.3V536.1M351.24,526.5V532.3M351.97,524.3V526.5M352.70,524.3V528.6M353.43,528.6V533.5M354.16,533.5V538.0M354.89,537.0V538.0M355.62,531.6V537.0M356.35,529.3V531.6M357.08,527.2V529.3M357.81,523.7V527.2M358.54,522.5V523.7M359.27,521.5V522.5M360.00,520.5V521.6M360.73,519.9V520.9M361.46,517.0V520.3M362.19,513.6V517.0M362.92,512.0V513.6M363.65,510.6V512.0M364.38,507.5V510.6M365.11,503.2V507.5M365.84,503.2V505.3M366.57,505.3V508.9M367.30,508.9V513.7M368.03,513.7V520.6M368.76,520.6V522.9M369.49,520.5V522.9M370.22,513.1V520.5M370.95,507.3V513.1M371.68,506.3V507.3M372.41,502.1V506.3M373.14,500.7V502.1M373.87,498.8V500.7M374.60,497.3V498.8M375.33,497.0V498.0M376.06,494.2V497.8M376.79,490.4V494.2M377.52,484.9V490.4M378.25,478.7V484.9M378.98,472.5V478.7M379.71,466.7V472.5M380.44,459.7V466.7M381.17,453.5V459.7M381.90,445.4V453.5M382.63,437.5V445.4M383.36,429.5V437.5M384.09,422.7V429.5M384.82,421.8V422.8M385.55,419.9V421.8M386.28,418.7V419.9M387.01,418.7V420.6M387.74,420.6V423.0M388.47,423.0V428.0M389.20,428.0V431.3M389.93,431.3V434.1M390.66,430.2V434.1M391.39,429.0V430.2M392.12,429.0V431.8M392.85,428.2V431.8M393.58,424.3V428.2M394.31,415.8V424.3M395.04,408.6V415.8M395.77,404.5V408.6M396.50,400.9V404.5M397.23,400.0V401.0M397.96,396.6V400.0M398.69,389.3V396.6M399.42,384.2V389.3M400.15,378.9V384.2M400.88,372.5V378.9M401.61,369.7V372.5M402.34,367.2V369.7M403.07,363.8V367.2M403.80,359.4V363.8M404.53,355.9V359.4M405.26,355.9V362.2M405.99,362.2V366.9M406.72,366.9V368.7M407.45,368.7V371.8M408.18,371.8V373.3M408.91,373.2V374.2M409.64,372.5V374.1M410.37,369.9V372.5M411.10,366.5V369.9M411.83,364.8V366.5M412.56,360.6V364.8M413.29,357.3V360.6M414.02,355.0V357.3M414.75,354.0V355.0M415.48,352.9V354.0M416.21,351.7V352.9M416.94,350.2V351.7M417.67,348.7V350.2M418.40,344.5V348.7M419.13,340.9V344.5M419.86,338.6V340.9M420.59,336.8V338.6M421.32,332.9V336.8M422.05,326.6V332.9M422.78,319.7V326.6M423.51,314.0V319.7M424.24,307.2V314.0M424.97,296.8V307.2M425.70,286.6V296.8M426.43,277.7V286.6M427.16,272.4V277.7M427.89,265.6V272.4M428.62,258.0V265.6M429.35,258.0V262.7M430.08,261.4V262.7M430.81,257.0V261.4M431.54,246.0V257.0M432.27,240.2V246.0M433.00,240.2V246.3M433.73,246.3V248.3M434.46,248.3V257.3M435.19,257.3V259.1M435.92,259.1V265.2M436.65,265.2V273.6M437.38,273.6V278.8M438.11,278.8V281.3M438.84,280.9V281.9M439.57,281.5V282.8M440.30,280.8V282.8M441.03,278.2V280.8M441.76,275.5V278.2M442.49,275.5V280.0M443.22,280.0V283.2M443.95,281.7V283.2M444.68,281.7V283.6M445.41,283.6V287.2M446.14,287.2V292.9M446.87,292.9V298.6M447.60,298.6V300.6M448.33,300.6V306.6M449.06,306.6V311.4M449.79,311.4V316.1M450.52,316.1V321.6M451.25,321.6V327.8M451.98,324.6V327.8M452.71,321.2V324.6M453.44,314.8V321.2M454.17,306.9V314.8M454.90,301.7V306.9M455.63,295.4V301.7M456.36,288.3V295.4M457.09,283.6V288.3M457.82,282.8V283.8M458.55,282.7V283.7M459.28,283.4V287.2M460.01,287.2V293.8M460.74,293.8V295.2M461.47,295.2V298.2M462.20,298.0V299.0M462.93,298.8V302.2M463.66,301.8V302.8M464.39,301.8V302.8M465.12,301.6V302.6M465.85,301.9V304.7M466.58,304.7V312.1M467.31,312.1V314.8M468.04,314.8V318.6M468.77,318.6V320.1M469.50,320.1V324.2M470.23,324.2V326.5M470.96,325.9V326.9M471.69,324.3V326.2M472.42,321.6V324.3M473.15,318.7V321.6M473.88,317.8V318.8M474.61,315.1V317.9M475.34,312.7V315.1M476.07,312.3V313.3M476.80,312.9V318.5M477.53,318.5V322.4M478.26,322.4V327.3M478.99,327.3V329.9M479.72,329.9V336.8M480.45,336.8V343.4M481.18,343.4V344.4M481.91,339.3V344.4M482.64,334.9V339.3M483.37,333.1V334.9M484.10,329.9V333.1M484.83,329.1V330.1M485.56,329.3V334.7M486.29,334.7V341.9M487.02,341.7V342.7M487.75,338.5V342.5M488.48,336.7V338.5M489.21,333.5V336.7M489.94,332.9V333.9M490.67,333.3V335.4M491.40,334.9V335.9M492.13,334.7V335.7M492.86,334.9V336.5M493.59,336.5V338.5M494.32,338.5V339.6M495.05,338.8V339.8M495.78,337.4V338.9M496.51,336.7V337.7M497.24,336.7V337.7M497.97,335.8V337.3M498.70,335.8V338.3M499.43,338.3V340.2M500.16,340.2V343.1M500.89,343.1V350.9M501.62,350.9V357.0M502.35,357.0V361.5M503.08,361.5V368.0M503.81,368.0V373.2M504.54,373.2V378.6M505.27,378.6V382.7M506.00,382.7V386.9M506.73,386.9V390.6M507.46,387.8V390.6M508.19,379.3V387.8M508.92,373.5V379.3M509.65,368.6V373.5M510.38,368.3V369.3M511.11,369.0V375.1M511.84,373.3V375.1M512.57,370.5V373.3M513.30,370.2V371.2M514.03,371.0V375.6M514.76,375.6V377.3M515.49,377.3V380.3M516.22,379.1V380.3M516.95,378.7V379.7M517.68,379.3V383.1M518.41,382.7V383.7M519.14,382.3V383.3M519.87,380.1V382.4M520.60,375.2V380.1M521.33,371.3V375.2M522.06,368.7V371.3M522.79,368.6V369.6M523.52,368.9V369.9M524.25,369.3V371.8M524.98,371.6V372.6M525.71,372.0V373.0M526.44,371.3V372.5M527.17,369.2V371.3M527.90,367.6V369.2M528.63,366.0V367.6M529.36,365.8V366.8M530.09,363.7V366.6M530.82,352.1V363.7M531.55,347.5V352.1M532.28,347.4V348.4M533.01,348.3V350.4M533.74,347.9V350.4M534.47,346.1V347.9M535.20,345.6V346.6M535.93,346.2V348.7M536.66,348.4V349.4M537.39,347.7V349.1M538.12,346.5V347.7M538.85,341.5V346.5M539.58,332.4V341.5M540.31,327.2V332.4M541.04,323.5V327.2M541.77,323.3V324.3M542.50,324.0V325.1M543.23,322.0V325.1M543.96,316.0V322.0M544.69,316.0V318.5M545.42,318.5V321.6M546.15,317.9V321.6M546.88,316.5V317.9M547.61,312.3V316.5M548.34,301.3V312.3M549.07,292.5V301.3M549.80,292.5V302.1M550.53,302.1V303.8M551.26,299.8V303.8M551.99,297.5V299.8M552.72,297.5V304.0M553.45,304.0V312.3M554.18,312.3V314.1M554.91,314.1V316.1M555.64,316.1V317.1M556.37,317.1V319.0M557.10,317.1V319.0M557.83,313.4V317.1M558.56,307.7V313.4M559.29,307.7V309.2M560.02,309.2V312.2M560.75,312.2V316.7M561.48,316.7V317.8M562.21,317.8V320.7M562.94,320.2V321.2M563.67,318.3V320.6M564.40,317.9V318.9M565.13,316.8V318.5M565.86,316.8V318.0M566.59,317.0V318.0M567.32,316.1V317.1M568.05,316.1V319.0M568.78,319.0V328.1M569.51,328.1V334.9M570.24,332.5V334.9M570.97,331.6V332.6M571.70,331.0V332.0M572.43,330.2V331.4M573.16,329.3V330.3M573.89,329.3V330.4M574.62,330.4V333.2M575.35,325.9V333.2M576.08,318.1V325.9M576.81,317.8V318.8M577.54,318.4V321.5M578.27,321.5V322.9M579.00,322.9V325.1M579.73,325.1V326.7M580.46,326.7V329.8M581.19,329.8V333.1M581.92,333.1V339.4M582.65,339.4V344.6M583.38,341.8V344.6M584.11,338.5V341.8M584.84,338.4V339.4M585.57,338.5V339.5M586.30,338.7V342.7M587.03,342.7V347.3M587.76,347.0V348.0M588.49,341.5V347.7M589.22,339.8V341.5M589.95,339.8V341.5M590.68,339.3V341.5M591.41,337.0V339.3M592.14,335.7V337.0M592.87,330.9V335.7M593.60,327.9V330.9M594.33,323.1V327.9M595.06,322.1V323.1M595.79,321.0V322.2M596.52,319.7V321.0M597.25,317.4V319.7M597.98,314.3V317.4M598.71,310.5V314.3M599.44,309.2V310.5M600.17,307.4V309.2M600.90,307.2V308.2M601.63,307.9V310.6M602.36,310.6V313.6M603.09,313.6V316.9M603.82,316.9V321.5M604.55,321.5V323.8M605.28,323.8V326.8M606.01,326.8V335.9M606.74,335.9V345.7M607.47,345.7V351.1M608.20,350.9V351.9M608.93,350.7V351.7M609.66,345.1V350.7M610.39,342.2V345.1M611.12,339.1V342.2M611.85,337.8V339.1M612.58,337.0V338.0M613.31,335.2V337.1M614.04,332.4V335.2M614.77,329.3V332.4M615.50,327.3V329.3M616.23,324.2V327.3M616.96,321.2V324.2M617.69,318.3V321.2M618.42,316.4V318.3M619.15,316.3V317.3M619.88,316.8V317.8M620.61,317.2V318.9M621.34,318.8V319.8M622.07,317.5V319.6M622.80,314.5V317.5M623.53,312.0V314.5M624.26,309.9V312.0M624.99,309.3V310.3M625.72,309.7V310.7M626.45,310.5V311.5M627.18,311.3V313.6M627.91,312.5V313.6M628.64,312.5V314.9M629.37,314.9V316.2M630.10,315.0V316.2M630.83,315.0V316.5M631.56,316.5V318.0M632.29,317.1V318.1M633.02,315.9V317.2M633.75,312.1V315.9M634.48,309.5V312.1M635.21,307.2V309.5M635.94,303.4V307.2M636.67,299.3V303.4M637.40,296.1V299.3M638.13,292.6V296.1M638.86,291.6V292.6M639.59,288.6V291.6M640.32,286.1V288.6M641.05,286.1V289.8M641.78,289.8V292.5M642.51,291.9V292.9M643.24,289.9V292.2M643.97,289.0V290.0M644.70,289.2V290.8M645.43,290.8V295.8M646.16,295.8V298.6M646.89,298.2V299.2M647.62,298.7V301.1M648.35,301.1V302.1M649.08,301.3V302.3M649.81,301.2V302.2M650.54,301.3V302.3M651.27,300.1V301.6M652.00,297.8V300.1M652.73,297.0V298.0M653.46,296.5V297.5M654.19,293.5V296.8M654.92,288.4V293.5M655.65,286.9V288.4M656.38,282.7V286.9M657.11,281.8V282.8M657.84,278.9V281.9M658.57,275.8V278.9M659.30,273.9V275.8M660.03,270.3V273.9M660.76,265.9V270.3M661.49,264.8V265.9M662.22,261.7V264.8M662.95,259.3V261.7M663.68,259.2V260.2M664.41,259.2V260.2M665.14,257.2V259.2M665.87,255.5V257.2M666.60,253.5V255.5M667.33,250.4V253.5M668.06,247.6V250.4M668.79,242.6V247.6M669.52,238.7V242.6M670.25,230.9V238.7M670.98,218.5V230.9M671.71,218.0V219.0M672.44,217.4V218.5M673.17,217.4V219.4M673.90,218.8V219.8M674.63,219.2V220.6M675.36,220.6V221.8M676.09,221.8V223.6M676.82,221.4V223.6M677.55,215.5V221.4M678.28,200.5V215.5M679.01,190.2V200.5M679.74,189.1V190.2M680.47,181.1V189.1M681.20,177.6V181.1M681.93,177.6V183.8M682.66,183.8V185.5M683.39,184.8V185.8M684.12,183.0V185.1M684.85,177.7V183.0M685.58,173.7V177.7M686.31,173.0V174.0M687.04,172.5V173.5M687.77,172.8V176.7M688.50,176.5V177.5M689.23,173.2V177.3M689.96,170.0V173.2M690.69,167.3V170.0M691.42,166.5V167.5M692.15,162.3V166.6M692.88,159.0V162.3M693.61,155.8V159.0M694.34,155.8V162.7M695.07,161.7V162.7M695.80,159.2V161.7M696.53,155.9V159.2M697.26,152.6V155.9M697.99,150.6V152.6M698.72,148.5V150.6M699.45,148.5V155.3M700.18,155.3V162.1M700.91,162.1V168.9M701.64,168.9V173.5M702.37,173.5V176.1M703.10,176.1V177.9M703.83,177.9V178.9M704.56,178.7V179.7M705.29,179.1V180.1M706.02,179.7V182.8M706.75,182.8V188.4M707.48,188.4V192.1M708.21,191.4V192.4M708.94,188.6V191.6M709.67,188.4V189.4M710.40,187.8V189.2M711.13,187.8V190.3M711.86,190.3V192.3M712.59,192.3V196.5M713.32,196.5V200.1M714.05,200.0V201.0M714.78,194.5V200.8M715.51,186.4V194.5M716.24,181.7V186.4M716.97,179.0V181.7M717.70,174.1V179.0M718.43,169.0V174.1M719.16,165.2V169.0M719.89,162.1V165.2M720.62,161.7V162.7M721.35,160.1V162.4M722.08,157.1V160.1M722.81,155.1V157.1M723.54,151.1V155.1M724.27,150.6V151.6M725.00,151.0V158.1M725.73,158.1V159.2M726.46,159.2V160.8M727.19,160.8V165.2M727.92,165.2V170.8M728.65,169.9V170.9M729.38,163.3V170.1M730.11,158.2V163.3M730.84,154.2V158.2M731.57,150.8V154.2M732.30,148.6V150.8M733.03,148.0V149.0M733.76,146.2V148.4M734.49,145.3V146.3M735.22,142.6V145.3M735.95,140.2V142.6M736.68,138.6V140.2M737.41,138.4V139.4M738.14,136.1V139.1M738.87,135.1V136.1M739.60,135.2V137.3M740.33,137.3V142.0M741.06,142.0V144.7M741.79,144.7V146.8M742.52,146.8V148.3M743.25,148.3V150.1M743.98,150.1V151.2M744.71,151.2V155.2M745.44,155.2V157.4M746.17,154.7V157.4M746.90,152.1V154.7M747.63,149.7V152.1M748.36,149.3V150.3M749.09,149.9V151.2M749.82,151.2V155.4M750.55,155.4V159.8M751.28,159.8V164.8M752.01,164.7V165.7M752.74,165.7V168.4M753.47,168.4V171.6M754.20,171.6V174.2M754.93,174.2V180.0M755.66,180.0V183.2M756.39,178.7V183.2M757.12,174.7V178.7M757.85,168.3V174.7M758.58,166.3V168.3M759.31,166.3V168.4M760.04,168.4V170.4M760.77,170.4V171.6M761.50,171.6V172.7M762.23,172.2V173.2M762.96,169.8V172.6M763.69,169.1V170.1M764.42,169.5V174.7M765.15,174.7V175.8M765.88,173.4V175.8M766.61,171.0V173.4M767.34,169.0V171.0M768.07,167.4V169.0M768.80,164.7V167.4M769.53,162.2V164.7M770.26,161.0V162.2M770.99,161.0V162.6M771.72,162.6V165.0M772.45,165.0V167.2M773.18,167.1V168.1M773.91,168.0V169.0M774.64,169.0V171.2M775.37,171.2V172.7M776.10,172.7V174.3M776.83,174.3V178.5M777.56,178.5V183.0M778.29,183.0V187.2M779.02,187.2V193.8M779.75,193.8V197.7M780.48,197.6V198.6M781.21,198.5V200.0M781.94,200.0V201.1M782.67,200.1V201.1M783.40,199.5V200.5M784.13,199.8V200.9M784.86,200.9V203.5M785.59,203.5V208.9M786.32,208.9V216.6M787.05,216.6V220.5M787.78,220.5V221.5M788.51,221.4V222.7M789.24,222.6V223.6M789.97,223.2V224.2M790.70,222.9V223.9M791.43,222.3V223.3M792.16,220.4V222.6M792.89,219.6V220.6M793.62,215.8V219.8M794.35,214.0V215.8M795.08,212.3V214.0M795.81,212.2V213.2M796.54,211.0V213.1M797.27,210.0V211.0M798.00,209.2V210.2M798.73,208.4V209.4M799.46,207.8V208.8M800.19,207.9V208.9M800.92,208.6V213.1M801.65,213.0V214.0M802.38,213.9V217.1M803.11,217.1V218.7M803.84,218.7V220.5M804.57,216.8V220.5M805.30,216.8V217.8M806.03,217.7V222.0M806.76,222.0V224.4M807.49,223.7V224.7M808.22,223.4V224.4M808.95,223.9V224.9M809.68,222.7V224.9M810.41,222.4V223.4M811.14,223.1V224.7M811.87,224.1V225.1M812.60,224.5V226.4M813.33,226.4V227.9M814.06,226.9V227.9M814.79,223.0V227.0M815.52,221.4V223.0M816.25,218.3V221.4M816.98,218.2V219.2M817.71,219.1V223.2M818.44,223.2V230.4M819.17,230.4V233.0M819.90,233.0V237.2M820.63,236.2V237.2M821.36,233.7V236.2M822.09,233.2V234.2M822.82,233.0V234.0M823.55,231.4V233.2M824.28,230.7V231.7M825.01,230.4V231.4M825.74,230.9V234.4M826.47,233.9V234.9M827.20,233.9V234.9M827.93,233.9V234.9M828.66,234.4V235.7M829.39,234.9V235.9M830.12,233.1V235.1M830.85,232.3V233.3M831.58,229.5V232.4M832.31,225.2V229.5M833.04,220.5V225.2M833.77,217.0V220.5M834.50,216.3V217.3M835.23,214.0V216.6M835.96,213.9V214.9M836.69,214.5V215.5M837.42,215.2V217.9M838.15,217.4V218.4M838.88,216.8V217.9M839.61,214.9V216.8M840.34,212.0V214.9M841.07,212.0V213.1M841.80,212.3V213.3M842.53,212.6V215.5M843.26,215.0V216.0M843.99,214.9V215.9M844.72,212.4V215.3M845.45,211.1V212.4M846.18,209.8V211.1M846.91,207.7V209.8M847.64,205.9V207.7M848.37,205.9V206.9M849.10,206.8V207.9M849.83,204.6V207.9M850.56,202.7V204.6M851.29,201.1V202.7M852.02,200.4V201.4M852.75,200.7V201.9M853.48,201.9V204.3M854.21,204.3V206.3M854.94,206.3V207.4M855.67,207.4V208.4M856.40,206.3V208.3M857.13,205.1V206.3M857.86,205.1V206.9M858.59,206.8V207.8M859.32,207.7V209.8M860.05,209.4V210.4M860.78,210.0V211.4M861.51,210.8V211.8M862.24,209.3V211.2M862.97,209.2V210.2M863.70,210.1V212.3M864.43,212.3V214.0M865.16,214.0V217.3M865.89,215.0V217.3M866.62,212.6V215.0M867.35,207.7V212.6M868.08,206.0V207.7M868.81,205.9V206.9M869.54,205.8V206.8M870.27,204.2V205.9M871.00,202.7V204.2M871.73,202.7V203.7M872.46,203.7V205.1M873.19,204.7V205.7M873.92,205.1V206.1M874.65,205.7V206.7M875.38,205.1V206.5M876.11,204.5V205.5M876.84,204.2V205.2M877.57,204.6V206.4M878.30,205.8V206.8M879.03,206.2V209.8M879.76,209.8V213.1M880.49,213.1V215.5M881.22,215.4V216.4M881.95,214.2V216.3M882.68,213.3V214.3M883.41,213.2V214.2M884.14,213.7V214.7M884.87,213.8V214.8M885.60,213.2V214.2M886.33,212.3V213.3M887.06,211.8V212.8M887.79,211.4V212.4M888.52,211.5V212.8M889.25,211.4V212.8M889.98,210.9V211.9M890.71,211.4V213.0M891.44,213.0V214.6M892.17,214.0V215.0M892.90,210.3V214.4M893.63,209.0V210.3M894.36,204.0V209.0M895.09,200.8V204.0M895.82,199.3V200.8M896.55,198.3V199.3M897.28,197.6V198.6M898.01,194.7V197.9M898.74,191.6V194.7M899.47,191.2V192.2M900.20,191.1V192.1M900.93,191.1V192.1M901.66,191.0V192.0M902.39,189.4V191.3M903.12,187.4V189.4M903.85,185.1V187.4M904.58,184.1V185.1M905.31,182.9V184.2M906.04,182.7V183.7M906.77,183.0V184.0M907.50,183.5V184.8M908.23,181.4V184.8M908.96,180.9V181.9M909.69,180.2V181.3M910.42,177.9V180.2M911.15,174.5V177.9M911.88,174.5V176.3M912.61,176.3V179.2M913.34,179.2V182.6M914.07,182.6V186.1M914.80,186.1V187.6M915.53,185.8V187.6M916.26,182.3V185.8M916.99,180.6V182.3M917.72,178.0V180.6M918.45,176.3V178.0M919.18,172.1V176.3M919.91,168.3V172.1M920.64,167.3V168.3M921.37,163.6V167.3M922.10,160.8V163.6M922.83,156.4V160.8M923.56,151.6V156.4M924.29,148.7V151.6M925.02,144.2V148.7M925.75,144.2V147.0M926.48,147.0V148.6M927.21,147.6V148.6M927.94,144.8V147.6M928.67,144.8V146.4M929.40,145.6V146.6M930.13,145.9V148.7M930.86,148.7V151.8M931.59,151.8V155.0M932.32,155.0V156.7M933.05,156.7V158.1M933.78,154.8V158.1M934.51,153.0V154.8M935.24,153.0V155.9M935.97,155.9V160.0M936.70,158.0V160.0M937.43,155.5V158.0M938.16,154.9V155.9M938.89,153.7V155.2M939.62,149.6V153.7M940.35,146.9V149.6M941.08,145.5V146.9M941.81,145.5V146.9M942.54,146.9V147.9M943.27,147.1V148.1M944.00,146.9V147.9M944.73,147.6V149.2M945.46,149.2V152.4M946.19,151.7V152.7M946.92,152.0V154.6M947.65,154.3V155.3M948.38,155.0V157.7M949.11,157.7V161.0M949.84,161.0V162.0M950.57,162.0V166.4M951.30,162.1V166.4M952.03,159.7V162.1M952.76,155.8V159.7M953.49,153.3V155.8M954.22,150.4V153.3M954.95,150.4V152.4M955.68,152.4V153.8M956.41,153.8V157.1M957.14,157.1V159.2M957.87,159.2V163.2M958.60,162.3V163.3M959.33,162.2V163.2M960.06,159.7V163.0M960.79,159.2V160.2M961.52,159.4V160.4M962.25,160.1V163.7M962.98,163.7V166.0M963.71,166.0V169.2M964.44,169.2V170.7M965.17,165.9V170.7M965.90,160.8V165.9M966.63,159.8V160.8M967.36,157.6V159.8M968.09,157.5V158.5M968.82,158.4V161.3M969.55,161.3V162.9M970.28,160.5V162.9M971.01,158.9V160.5M971.74,157.2V158.9M972.47,156.7V157.7M973.20,154.2V157.1M973.93,153.7V154.7M974.66,154.1V155.4M975.39,155.1V156.1M976.12,155.2V156.2M976.85,155.4V156.4M977.58,150.0V156.2M978.31,142.2V150.0M979.04,137.1V142.2M979.77,132.6V137.1M980.50,129.0V132.6M981.23,127.9V129.0M981.96,125.4V127.9M982.69,123.0V125.4M983.42,121.6V123.0M984.15,119.8V121.6M984.88,118.1V119.8M985.61,118.1V119.3M986.34,119.3V121.3M987.07,121.3V126.3M987.80,126.3V129.2M988.53,127.3V129.2M989.26,126.7V127.7M989.99,123.3V127.1M990.72,123.3V126.5M991.45,126.5V129.9M992.18,129.9V131.0M992.91,124.9V131.0M993.64,120.5V124.9M994.37,120.5V121.5M995.10,121.5V122.5M995.83,122.5V125.5M996.56,125.5V129.3M997.29,129.3V130.7M998.02,130.6V131.6M998.75,131.4V133.3" fill="none" stroke="#000" stroke-width="0.9"/>
  <path d="M125.15,578.4V581.4M126.40,571.9V580.9M126.63,571.9V575.2M127.52,573.2V578.6M128.46,576.6V582.7M129.06,580.7V588.0M130.42,586.0V590.0M130.62,588.0V593.3M131.15,591.3V598.2M132.34,596.2V603.3M133.73,600.8V606.3M135.00,596.0V602.8M134.74,589.3V598.0M136.20,589.3V594.7M136.85,592.7V600.2M141.28,597.5V602.0M141.95,593.1V599.5M143.57,588.3V595.1M143.75,584.3V590.3M144.26,579.4V586.3M145.48,572.2V581.4M145.95,570.8V574.2M146.85,570.8V576.6M148.04,574.6V580.2M149.95,581.1V585.9M151.05,576.7V583.1M151.52,572.9V578.7M161.46,584.0V588.7M161.90,586.7V591.1M162.83,589.1V595.4M163.46,593.4V598.3M164.00,592.0V598.3M168.62,594.0V600.3M169.02,598.3V605.5M177.50,611.6V617.6M178.15,615.6V619.9M179.75,614.9V620.7M180.76,611.1V616.9M191.76,622.7V626.0M191.90,624.0V627.8M192.25,625.8V630.4M193.35,628.4V634.2M194.87,632.2V637.6M194.73,635.6V642.0M195.30,640.0V643.7M199.60,645.9V648.9M200.92,644.5V648.9M201.62,641.6V646.5M208.38,627.5V632.4M209.13,630.4V635.9M212.29,635.6V641.0M212.98,639.0V643.8M213.69,641.8V648.2M215.46,645.5V651.3M228.79,638.8V642.4M232.42,628.2V631.7M233.27,623.5V630.2M233.18,619.0V625.5M234.65,618.3V621.3M235.12,618.6V624.6M241.14,632.4V638.6M255.93,625.3V629.4M256.73,621.1V627.3M257.36,615.4V623.1M258.03,605.5V617.4M259.88,601.6V605.9M260.19,603.9V610.3M261.45,608.3V613.9M262.84,613.0V616.5M263.06,610.5V615.0M264.33,603.2V612.5M265.61,599.6V605.2M265.52,596.8V601.6M266.77,591.2V598.8M267.60,589.4V593.2M273.55,588.2V593.6M274.01,591.6V602.1M275.72,600.0V605.8M281.76,595.7V598.8M282.08,592.2V597.7M295.28,596.5V599.5M296.06,592.1V599.3M295.91,589.1V594.1M297.86,584.4V590.4M302.39,583.6V586.6M303.64,580.0V585.7M303.78,575.1V582.0M304.42,572.0V577.1M306.55,564.3V569.8M307.13,557.5V566.3M307.96,547.4V559.5M308.57,547.4V550.6M312.39,555.4V558.4M317.30,555.2V561.1M348.87,538.8V543.0M349.50,535.1V540.8M351.01,531.3V537.1M351.02,525.5V533.3M352.30,523.3V529.6M353.59,527.6V534.5M354.25,532.5V539.0M355.04,536.0V539.0M356.20,530.6V538.0M360.88,516.0V521.3M364.07,506.5V511.6M365.55,502.2V508.5M365.25,502.2V506.3M366.74,504.3V509.9M366.99,507.9V514.7M367.91,512.7V521.6M368.17,519.6V523.9M369.12,519.5V523.9M370.59,512.1V521.5M370.40,506.3V514.1M376.40,493.2V498.8M377.34,489.4V495.2M377.23,483.9V491.4M378.54,477.7V485.9M378.66,471.5V479.7M379.90,465.7V473.5M380.67,458.7V467.7M381.25,452.5V460.7M381.39,444.4V454.5M382.15,436.5V446.4M382.79,428.5V438.5M386.53,417.7V421.6M388.15,419.6V424.0M388.62,422.0V429.0M389.50,427.0V432.3M389.35,430.3V435.1M390.50,429.2V435.1M392.66,427.2V432.8M394.01,423.3V429.2M393.71,414.8V425.3M394.44,407.6V416.8M395.39,403.5V409.6M396.21,399.9V405.5M398.12,395.6V401.0M399.03,388.3V397.6M399.29,383.2V390.3M399.58,377.9V385.2M400.88,371.5V379.9M402.64,366.2V370.7M402.65,362.8V368.2M403.40,358.4V364.8M404.08,354.9V360.4M404.88,354.9V363.2M405.57,361.2V367.9M409.91,371.5V375.1M409.89,368.9V373.5M410.97,365.5V370.9M411.98,363.8V367.5M412.44,359.6V365.8M413.37,356.3V361.6M418.54,343.5V349.7M418.74,339.9V345.5M419.84,337.6V341.9M420.18,335.8V339.6M420.84,331.9V337.8M422.06,325.6V333.9M422.67,318.7V327.6M423.38,313.0V320.7M424.06,306.2V315.0M424.38,295.8V308.2M425.52,285.6V297.8M426.95,276.7V287.6M427.03,271.4V278.7M428.26,264.6V273.4M428.29,257.0V266.6M429.73,257.0V263.7M430.13,260.4V263.7M431.23,256.0V262.4M431.45,245.0V258.0M432.00,239.2V247.0M432.91,239.2V247.3M434.24,245.3V249.3M434.94,247.3V258.3M435.34,256.3V260.1M436.10,258.1V266.2M436.33,264.2V274.6M437.86,272.6V279.8M441.09,277.2V281.8M441.75,274.5V279.2M442.47,274.5V281.0M442.62,279.0V284.2M444.14,280.7V284.2M445.23,280.7V284.6M444.84,282.6V288.2M445.93,286.2V293.9M447.34,291.9V299.6M447.40,297.6V301.6M448.36,299.6V307.6M448.96,305.6V312.4M450.18,310.4V317.1M450.52,315.1V322.6M451.04,320.6V328.8M452.14,323.6V328.8M453.17,320.2V325.6M452.84,313.8V322.2M454.35,305.9V315.8M455.04,300.7V307.9M455.84,294.4V302.7M456.67,287.3V296.4M457.41,282.6V289.3M458.20,281.8V284.8M458.31,281.7V284.7M459.45,282.4V288.2M459.45,286.2V294.8M465.27,300.9V305.7M466.20,303.7V313.1M469.76,319.1V325.2M470.61,323.2V327.5M470.55,324.9V327.9M471.53,323.3V327.2M474.95,314.1V318.9M475.90,311.7V316.1M476.19,311.3V314.3M476.57,311.9V319.5M477.75,317.5V323.4M477.99,321.4V328.3M479.09,326.3V330.9M480.11,328.9V337.8M480.17,335.8V344.4M481.67,342.4V345.4M482.26,338.3V345.4M482.32,333.9V340.3M485.65,328.3V335.7M486.26,333.7V342.9M500.71,339.2V344.1M500.59,342.1V351.9M502.02,349.9V358.0M502.52,356.0V362.5M503.38,360.5V369.0M503.91,367.0V374.2M504.24,372.2V379.6M504.95,377.6V383.7M506.26,381.7V387.9M506.39,385.9V391.6M507.02,386.8V391.6M508.60,378.3V388.8M509.30,372.5V380.3M509.31,367.6V374.5M509.95,367.3V370.3M510.69,368.0V376.1M511.44,372.3V376.1M513.77,369.2V372.2M513.77,370.0V376.6M519.06,381.3V384.3M519.43,379.1V383.4M520.23,374.2V381.1M521.32,370.3V376.2M522.30,367.7V372.3M530.34,362.7V367.6M531.26,351.1V364.7M539.28,340.5V347.5M539.17,331.4V342.5M540.21,326.2V333.4M541.56,322.5V328.2M541.57,322.3V325.3M542.69,321.0V326.1M543.65,315.0V323.0M544.72,315.0V319.5M546.48,316.9V322.6M547.34,315.5V318.9M547.32,311.3V317.5M548.84,300.3V313.3M548.99,291.5V302.3M549.97,291.5V303.1M550.54,301.1V304.8M550.83,298.8V304.8M551.87,296.5V300.8M552.77,296.5V305.0M553.63,303.0V313.3M556.78,316.1V320.0M558.41,312.4V318.1M558.04,306.7V314.4M559.15,306.7V310.2M559.69,308.2V313.2M560.55,311.2V317.7M567.91,315.1V320.0M569.12,318.0V329.1M574.39,328.3V331.4M574.64,329.4V334.2M575.17,324.9V334.2M576.29,317.1V326.9M576.69,316.8V319.8M578.09,317.4V322.5M579.99,325.7V330.8M581.77,328.8V334.1M581.66,332.1V340.4M582.26,338.4V345.6M583.97,340.8V345.6M586.29,337.7V343.7M587.06,341.7V348.3M587.30,346.0V349.0M588.01,340.5V348.7M590.93,338.3V342.5M590.92,336.0V340.3M592.07,334.7V338.0M592.96,329.9V336.7M593.29,326.9V331.9M598.33,313.3V318.4M598.33,309.5V315.3M598.97,308.2V311.5M601.37,306.9V311.6M602.16,309.6V314.6M602.81,312.6V317.9M605.83,322.8V327.8M605.68,325.8V336.9M606.45,334.9V346.7M608.98,349.7V352.7M609.84,344.1V351.7M613.77,331.4V336.2M615.22,328.3V333.4M614.93,326.3V330.3M616.12,323.2V328.3M617.37,320.2V325.2M622.20,313.5V318.5M622.98,311.0V315.5M634.04,308.5V313.1M634.90,306.2V310.5M635.76,302.4V308.2M636.74,298.3V304.4M637.71,295.1V300.3M638.08,291.6V297.1M640.83,285.1V290.8M641.26,288.8V293.5M644.10,288.2V291.8M645.95,289.8V296.8M654.28,292.5V297.8M654.85,287.4V294.5M655.57,285.9V289.4M657.85,277.9V282.9M658.76,274.8V279.9M659.05,272.9V276.8M659.66,269.3V274.9M661.32,264.9V271.3M662.04,263.8V266.9M662.43,260.7V265.8M665.71,254.5V258.2M666.67,252.5V256.5M667.79,249.4V254.5M667.76,246.6V251.4M668.77,241.6V248.6M669.05,237.7V243.6M670.13,229.9V239.7M671.04,217.5V231.9M672.29,217.0V220.0M672.31,216.4V219.5M673.49,216.4V220.4M673.58,217.8V220.8M674.28,218.2V221.6M675.82,219.6V222.8M676.59,220.8V224.6M676.62,220.4V224.6M677.09,214.5V222.4M678.54,199.5V216.5M679.06,189.2V201.5M679.95,188.1V191.2M680.87,180.1V190.1M680.73,176.6V182.1M681.67,176.6V184.8M683.93,182.0V186.1M685.21,176.7V184.0M687.48,171.5V174.5M687.42,171.8V177.7M688.10,175.5V178.5M689.09,172.2V178.3M691.62,165.5V168.5M691.86,161.3V167.6M693.47,158.0V163.3M694.05,154.8V160.0M694.17,154.8V163.7M695.59,160.7V163.7M696.08,158.2V162.7M696.59,154.9V160.2M697.04,151.6V156.9M697.68,149.6V153.6M698.12,147.5V151.6M699.53,147.5V156.3M699.94,154.3V163.1M701.43,161.1V169.9M701.13,167.9V174.5M705.53,178.1V181.1M706.14,178.7V183.8M707.03,181.8V189.4M711.31,189.3V193.3M712.70,191.3V197.5M713.83,195.5V201.1M714.18,199.0V202.0M714.36,193.5V201.8M715.88,185.4V195.5M716.30,180.7V187.4M717.25,178.0V182.7M718.03,173.1V180.0M718.37,168.0V175.1M718.71,164.2V170.0M722.08,156.1V161.1M722.64,154.1V158.1M724.04,150.1V156.1M723.96,149.6V152.6M724.81,150.0V159.1M725.93,158.2V161.8M726.66,159.8V166.2M728.45,164.2V171.8M728.36,168.9V171.9M729.69,162.3V171.1M729.76,157.2V164.3M731.28,153.2V159.2M740.05,134.2V138.3M740.68,136.3V143.0M740.73,141.0V145.7M742.37,143.7V147.8M744.53,150.2V156.2M746.44,153.7V158.4M749.14,148.9V152.2M750.26,150.2V156.4M750.45,154.4V160.8M751.17,158.8V165.8M753.10,167.4V172.6M754.69,170.6V175.2M755.10,173.2V181.0M755.06,179.0V184.2M756.50,177.7V184.2M757.41,173.7V179.7M757.88,167.3V175.7M763.85,168.1V171.1M763.87,168.5V175.7M767.21,168.0V172.0M768.04,166.4V170.0M770.11,160.0V163.2M770.45,160.0V163.6M776.92,173.3V179.5M777.81,177.5V184.0M777.77,182.0V188.2M779.01,186.2V194.8M784.45,198.8V201.9M785.24,199.9V204.5M785.66,202.5V209.9M786.29,207.9V217.6M799.64,206.9V209.9M804.91,215.8V221.5M805.00,215.8V218.8M805.49,216.7V223.0M814.78,222.0V228.0M815.95,220.4V224.0M817.39,217.2V220.2M817.82,218.1V224.2M818.62,222.2V231.4M818.86,229.4V234.0M830.12,232.1V236.1M830.83,231.3V234.3M831.25,228.5V233.4M831.74,224.2V230.5M833.50,219.5V226.2M839.16,215.8V218.9M839.17,213.9V217.8M865.50,214.0V218.3M866.32,211.6V216.0M867.78,206.7V213.6M879.24,205.2V210.8M879.98,208.8V214.1M892.72,209.3V215.4M893.11,208.0V211.3M894.25,203.0V210.0M903.32,186.4V190.4M911.08,173.5V178.9M912.27,173.5V177.3M912.41,175.3V180.2M919.00,175.3V179.0M919.15,171.1V177.3M921.00,162.6V168.3M921.73,159.8V164.6M922.90,155.4V161.8M924.09,150.6V157.4M925.46,143.2V148.0M930.48,144.9V149.7M930.39,147.7V152.8M931.29,150.8V156.0M932.85,154.0V157.7M932.91,155.7V159.1M935.58,152.0V156.9M936.01,154.9V161.0M937.16,157.0V161.0M938.52,152.7V156.2M939.86,148.6V154.7M950.40,160.0V163.0M951.64,161.1V167.4M952.45,158.7V163.1M952.90,154.8V160.7M964.06,165.0V170.2M963.87,168.2V171.7M965.62,164.9V171.7M976.59,154.4V157.4M977.83,149.0V157.2M978.53,141.2V151.0M978.73,136.1V143.2M979.42,131.6V138.1M980.60,128.0V133.6M981.37,124.4V128.9M986.73,118.3V122.3M987.49,120.3V127.3M987.21,125.3V130.2M988.87,125.7V128.7M990.38,122.3V127.5M991.00,125.5V130.9M991.74,128.9V132.0M992.93,123.9V132.0M995.79,121.5V126.5" fill="none" stroke="#111" stroke-width="0.9"/>
  <path d="M125.3,590.0 L125.8,570.8 L126.6,572.0 L127.5,577.5 L128.3,580.0 L129.1,586.0 L129.9,588.2 L130.8,591.5 L131.6,598.0 L132.3,602.2 L133.0,606.5 L133.8,601.4 L134.5,596.5 L135.3,589.0 L135.9,592.7 L136.6,600.0 L137.4,600.6 L138.3,605.0 L139.1,605.3 L139.9,604.2 L140.8,605.1 L141.6,602.0 L142.4,597.5 L143.2,590.0 L144.0,583.4 L144.9,576.8 L145.7,570.8 L146.5,578.3 L147.4,577.6 L148.2,581.6 L148.8,581.6 L149.4,582.2 L150.0,585.0 L150.8,581.5 L151.6,577.9 L152.4,574.0 L153.3,574.1 L154.1,575.2 L155.0,576.0 L155.8,577.4 L156.6,579.0 L157.4,580.6 L158.2,580.0 L159.0,581.3 L159.9,579.3 L160.7,583.0 L161.5,587.6 L162.3,590.0 L163.2,598.0 L164.0,592.7 L164.8,591.6 L165.7,592.4 L166.5,591.4 L167.3,594.7 L168.2,595.7 L169.0,599.1 L169.8,604.9 L170.6,607.4 L171.5,614.3 L172.3,611.5 L173.1,610.3 L174.0,610.4 L174.8,608.0 L175.6,608.3 L176.5,612.1 L177.3,614.8 L178.2,619.1 L179.0,621.5 L179.8,616.4 L180.6,611.5 L181.4,611.6 L182.2,610.7 L183.0,610.0 L183.9,609.0 L184.7,611.8 L185.6,611.5 L186.4,611.9 L187.2,617.6 L188.0,616.5 L188.9,617.4 L189.7,620.9 L190.6,621.5 L191.4,624.8 L192.2,629.5 L193.0,631.4 L193.8,633.8 L194.7,638.0 L195.2,643.0 L195.8,645.0 L196.5,644.7 L197.3,646.7 L198.0,644.7 L198.8,648.1 L199.7,649.7 L200.5,646.0 L201.4,640.7 L202.2,638.0 L202.9,637.4 L203.6,635.2 L204.3,635.2 L205.0,631.0 L205.8,629.0 L206.5,628.9 L207.3,626.6 L208.1,630.4 L208.8,633.2 L209.6,635.8 L210.4,636.6 L211.1,637.1 L211.9,637.3 L212.7,639.5 L213.4,643.4 L214.2,644.9 L214.9,649.5 L215.7,645.9 L216.4,643.4 L217.2,643.5 L217.9,644.2 L218.7,642.6 L219.5,640.4 L220.2,642.1 L221.0,641.9 L221.8,641.9 L222.5,641.0 L223.3,642.5 L224.1,644.5 L224.8,647.2 L225.6,645.7 L226.4,643.9 L227.1,642.1 L227.9,641.9 L228.7,641.8 L229.4,635.8 L230.2,634.6 L230.9,634.2 L231.7,631.2 L232.4,629.4 L233.2,625.0 L234.0,618.3 L234.8,620.7 L235.5,626.6 L236.2,629.2 L237.0,624.4 L237.8,628.3 L238.5,627.2 L239.3,628.2 L240.1,631.4 L240.8,632.5 L241.6,634.3 L242.3,640.4 L243.1,639.6 L243.8,641.2 L244.6,641.9 L245.4,640.5 L246.2,638.0 L246.9,641.2 L247.7,642.2 L248.4,642.7 L249.2,642.0 L249.9,643.2 L250.7,640.4 L251.5,638.1 L252.2,639.3 L253.0,638.6 L253.8,635.8 L254.5,632.8 L255.3,628.0 L256.0,628.2 L256.8,623.0 L257.6,620.5 L258.4,605.3 L259.1,604.2 L259.9,602.3 L260.6,609.2 L261.4,614.5 L262.1,617.6 L262.9,616.0 L263.7,608.4 L264.5,603.8 L265.2,599.9 L266.0,596.0 L266.8,592.9 L267.5,587.8 L268.3,588.8 L269.0,586.8 L269.8,591.6 L270.6,594.3 L271.3,594.6 L272.1,595.8 L272.8,591.6 L273.6,587.8 L274.4,595.2 L275.1,605.3 L275.9,601.6 L276.6,599.2 L277.4,601.1 L278.1,606.0 L278.9,603.8 L279.7,603.2 L280.4,600.9 L281.2,599.2 L282.0,598.7 L282.7,593.5 L283.5,590.8 L284.3,595.1 L285.0,592.8 L285.8,595.4 L286.6,594.3 L287.3,595.7 L288.1,596.4 L288.8,593.9 L289.6,594.6 L290.4,593.7 L291.1,590.2 L291.9,591.6 L292.7,592.3 L293.4,593.2 L294.2,595.1 L294.9,597.7 L295.7,594.2 L296.4,588.5 L297.2,584.7 L297.9,589.3 L298.7,591.6 L299.5,590.0 L300.2,587.6 L301.0,586.3 L301.6,587.0 L302.3,587.3 L303.0,583.1 L303.7,577.6 L304.4,574.7 L305.1,569.3 L305.8,567.2 L306.5,566.5 L307.2,559.2 L307.9,552.6 L308.5,544.3 L309.2,555.4 L309.9,552.7 L310.6,554.0 L311.3,558.5 L312.0,558.2 L312.7,556.9 L313.4,551.2 L314.1,552.3 L314.8,554.0 L315.5,554.2 L316.2,554.0 L316.9,556.8 L317.5,559.8 L318.2,562.3 L318.9,563.1 L319.6,566.5 L320.3,563.7 L321.0,564.5 L321.7,563.5 L322.4,565.1 L323.1,561.2 L323.8,566.7 L324.5,564.4 L325.2,563.1 L325.9,558.8 L326.6,559.6 L327.5,560.3 L328.4,558.1 L329.3,561.0 L330.0,565.9 L330.7,562.0 L331.4,560.8 L332.1,559.6 L332.8,558.6 L333.5,555.0 L334.2,557.3 L334.9,556.8 L335.6,553.5 L336.3,555.8 L337.0,554.0 L337.7,549.0 L338.3,549.0 L339.0,548.5 L339.7,549.8 L340.4,549.9 L341.1,545.2 L341.8,546.4 L342.6,543.5 L343.4,546.6 L344.3,546.0 L345.1,542.7 L345.9,543.6 L346.6,541.7 L347.3,540.9 L348.0,539.3 L348.7,540.2 L349.4,535.7 L350.1,533.2 L350.8,530.9 L351.5,524.9 L352.2,527.3 L352.9,527.7 L353.6,537.0 L354.3,540.2 L355.0,535.2 L355.6,530.5 L356.3,528.9 L357.0,527.7 L357.7,523.9 L358.4,522.9 L359.1,520.8 L359.8,519.5 L360.5,522.2 L361.2,516.7 L361.9,516.6 L362.6,515.3 L363.3,514.2 L364.0,509.7 L364.6,507.5 L365.3,502.8 L366.0,507.5 L366.7,508.3 L367.4,514.9 L368.1,520.8 L368.6,521.8 L369.2,524.9 L369.7,518.1 L370.2,511.1 L370.9,507.7 L371.6,505.5 L372.3,502.0 L372.9,499.3 L373.6,500.0 L374.2,497.2 L374.9,498.8 L375.5,498.2 L376.2,494.5 L376.8,489.7 L377.5,486.5 L378.1,483.0 L378.8,475.6 L379.4,469.7 L379.9,463.9 L380.5,456.4 L381.1,454.4 L381.6,448.7 L382.1,441.4 L382.7,436.5 L383.3,425.4 L384.1,420.2 L385.0,421.0 L385.8,419.9 L386.6,416.6 L387.1,418.9 L387.7,423.2 L388.2,428.0 L388.8,428.8 L389.4,433.2 L389.9,436.5 L390.4,434.2 L391.0,428.8 L391.6,431.6 L392.1,432.1 L393.0,424.5 L393.8,423.2 L394.4,414.4 L394.9,411.6 L395.5,406.6 L396.1,402.3 L396.6,400.0 L397.1,397.8 L397.7,397.8 L398.4,391.3 L399.2,386.1 L399.9,381.0 L400.6,373.6 L401.3,372.7 L401.9,370.6 L402.6,366.8 L403.2,359.8 L403.9,356.8 L404.5,353.2 L405.0,355.9 L405.5,365.8 L406.2,368.1 L406.9,370.7 L407.6,373.5 L408.2,373.4 L408.9,376.5 L409.6,374.0 L410.3,370.7 L411.1,368.1 L411.8,364.8 L412.4,362.8 L413.1,356.5 L413.7,354.2 L414.4,352.0 L415.2,352.3 L415.9,350.2 L416.6,350.3 L417.4,351.0 L418.1,346.5 L419.0,341.6 L419.8,340.3 L420.5,335.8 L421.0,333.2 L421.5,331.0 L422.1,325.6 L422.7,319.6 L423.4,313.1 L424.2,306.6 L424.9,299.7 L425.4,290.5 L426.0,282.0 L426.7,275.6 L427.5,268.3 L428.2,264.3 L428.9,252.5 L429.5,268.0 L430.1,256.0 L430.8,262.0 L431.5,245.0 L432.2,237.7 L432.9,250.0 L433.7,244.0 L434.4,259.8 L434.9,256.9 L435.4,256.0 L436.0,270.9 L436.8,277.8 L437.5,279.8 L438.2,281.2 L438.9,281.0 L439.7,281.1 L440.4,282.0 L441.0,277.9 L441.6,273.6 L442.2,279.9 L442.9,285.2 L443.6,281.3 L444.3,279.4 L445.1,285.5 L445.8,291.0 L446.5,295.2 L447.1,297.6 L447.8,302.6 L448.4,305.3 L449.1,308.9 L449.7,314.3 L450.4,319.5 L451.2,327.8 L451.9,326.2 L452.6,322.0 L453.2,312.7 L453.9,310.0 L454.5,304.6 L455.2,297.8 L455.8,292.0 L456.5,287.1 L457.1,285.0 L457.8,284.3 L458.4,280.3 L459.0,285.3 L459.7,289.8 L460.3,294.9 L461.0,295.3 L461.6,297.3 L462.3,298.8 L462.9,302.1 L463.6,302.1 L464.2,304.6 L464.7,300.9 L465.2,300.7 L465.8,304.0 L466.5,309.4 L467.1,316.2 L467.8,315.4 L468.4,320.4 L469.1,320.1 L469.9,325.5 L470.6,329.8 L471.3,325.5 L472.0,322.0 L472.6,322.9 L473.3,318.4 L473.9,318.1 L474.6,316.7 L475.2,314.2 L475.9,310.4 L476.5,312.6 L477.2,317.1 L477.8,324.0 L478.4,326.5 L479.1,333.1 L479.7,335.6 L480.2,342.4 L480.7,345.3 L481.3,340.2 L482.0,340.4 L482.6,335.6 L483.4,332.4 L484.2,329.8 L485.0,327.8 L485.8,334.7 L486.5,343.3 L487.2,340.4 L487.9,335.7 L488.7,334.5 L489.4,333.6 L490.1,332.5 L490.9,335.8 L491.6,339.0 L492.3,336.6 L493.0,341.4 L493.8,337.5 L494.5,336.2 L495.2,339.5 L495.9,337.7 L496.6,335.6 L497.4,338.8 L498.1,334.6 L498.8,337.7 L499.4,338.0 L500.1,341.4 L500.7,349.3 L501.4,355.1 L502.0,360.8 L502.7,362.2 L503.3,367.7 L504.0,372.4 L504.6,377.8 L505.3,384.0 L506.1,388.9 L506.9,393.7 L507.5,386.1 L508.2,378.2 L509.0,371.9 L509.8,366.6 L510.6,371.7 L511.3,376.3 L512.0,372.0 L512.7,369.5 L513.3,371.1 L514.0,377.6 L514.6,378.2 L515.3,379.4 L515.9,380.2 L516.6,380.2 L517.2,379.1 L517.9,382.5 L518.5,384.0 L519.1,382.7 L519.8,376.9 L520.4,376.3 L521.1,375.3 L521.7,370.5 L522.4,368.5 L523.1,370.3 L523.8,370.8 L524.6,372.5 L525.3,373.4 L526.0,374.0 L526.8,370.3 L527.5,372.1 L528.2,368.5 L528.8,366.7 L529.5,365.8 L530.1,366.6 L530.6,357.0 L531.1,345.3 L531.7,345.0 L532.4,347.3 L533.0,349.1 L533.7,349.8 L534.3,349.6 L535.0,347.2 L535.6,345.8 L536.3,350.6 L536.9,351.1 L537.8,351.2 L538.6,345.7 L539.2,339.4 L539.9,329.5 L540.5,324.6 L541.2,320.5 L541.9,322.3 L542.6,325.9 L543.4,319.1 L544.1,313.2 L544.7,316.9 L545.3,324.1 L545.9,320.7 L546.5,317.8 L547.1,315.0 L548.0,307.8 L548.9,288.0 L549.5,296.8 L550.2,306.0 L551.1,303.3 L552.0,297.0 L552.7,304.8 L553.4,313.2 L554.0,312.2 L554.6,317.2 L555.2,316.8 L556.1,317.0 L557.0,320.5 L557.9,312.6 L558.8,306.0 L559.4,308.8 L560.0,311.5 L560.6,315.0 L561.5,316.2 L562.4,320.5 L563.0,318.9 L563.6,321.3 L564.2,316.8 L565.1,316.8 L566.0,318.6 L566.9,316.6 L567.8,315.0 L568.5,326.6 L569.3,334.9 L569.9,334.8 L570.5,333.6 L571.1,331.3 L572.0,330.8 L572.9,327.7 L573.5,327.1 L574.1,331.2 L574.7,334.9 L575.4,325.1 L576.1,315.0 L576.9,319.4 L577.7,322.3 L578.6,325.1 L579.5,324.1 L580.1,327.2 L580.8,328.5 L581.4,331.3 L582.0,338.6 L582.6,345.7 L583.4,340.9 L584.1,336.7 L585.0,338.9 L585.9,340.3 L586.6,345.8 L587.3,349.3 L588.0,344.3 L588.6,340.3 L589.5,340.0 L590.4,342.1 L591.0,338.4 L591.6,338.9 L592.2,334.9 L593.1,331.4 L594.0,324.1 L594.9,324.7 L595.8,322.3 L596.4,321.8 L597.0,319.9 L597.6,316.8 L598.4,313.2 L599.1,310.6 L599.9,306.0 L600.5,306.2 L601.1,309.3 L601.7,311.4 L602.6,314.8 L603.5,320.5 L604.4,323.4 L605.3,324.1 L606.0,334.9 L606.6,347.5 L607.5,350.0 L608.4,352.9 L609.0,349.9 L609.6,347.7 L610.2,342.1 L611.1,339.1 L612.0,338.5 L612.9,335.3 L613.8,334.9 L614.4,333.1 L615.0,327.2 L615.6,325.9 L616.5,322.9 L617.4,318.6 L618.0,317.1 L618.6,317.2 L619.2,316.8 L620.1,315.9 L621.0,320.5 L621.9,318.8 L622.8,315.0 L623.5,310.6 L624.1,307.8 L624.9,308.3 L625.6,314.5 L626.4,313.2 L627.2,314.5 L627.9,319.0 L628.7,314.0 L629.4,315.6 L630.2,315.4 L630.9,317.0 L631.6,317.8 L632.3,318.3 L633.0,313.9 L633.8,312.7 L634.5,310.1 L635.2,307.6 L635.8,302.3 L636.5,300.4 L637.1,298.0 L637.8,294.5 L638.4,292.7 L639.0,288.9 L639.7,290.1 L640.3,286.9 L641.0,290.5 L641.6,292.1 L642.3,294.6 L642.9,291.3 L643.6,287.7 L644.2,288.8 L644.9,292.8 L645.5,295.1 L646.2,298.5 L646.9,296.9 L647.7,300.4 L648.4,299.1 L649.1,302.4 L649.8,301.4 L650.5,300.7 L651.3,300.0 L652.0,298.5 L652.6,297.5 L653.3,296.2 L653.9,294.6 L654.5,289.7 L655.2,287.6 L655.8,284.9 L656.5,282.2 L657.1,280.7 L657.8,279.1 L658.4,276.9 L659.1,274.9 L659.7,271.4 L660.3,271.3 L661.0,262.3 L661.6,263.6 L662.3,261.3 L663.0,257.8 L663.6,258.1 L664.3,262.5 L664.9,259.7 L665.7,258.2 L666.5,253.9 L667.2,248.5 L668.0,248.1 L668.7,244.9 L669.4,240.4 L669.9,235.4 L670.4,232.0 L671.0,214.0 L671.6,224.0 L672.2,209.7 L672.9,226.0 L673.6,213.0 L674.3,229.0 L674.9,214.0 L675.8,231.3 L676.4,216.0 L677.0,224.0 L677.9,208.0 L678.5,193.5 L679.4,191.5 L680.3,186.5 L680.9,174.7 L681.5,178.4 L682.1,185.3 L683.0,184.0 L683.8,183.0 L684.4,180.0 L685.0,177.3 L685.6,174.7 L686.2,172.7 L686.8,172.4 L687.4,172.5 L688.0,178.2 L688.9,175.4 L689.7,171.2 L690.6,169.7 L691.5,165.3 L692.0,162.8 L692.6,160.6 L693.1,156.1 L693.6,154.7 L694.4,165.3 L695.0,162.8 L695.6,160.6 L696.2,157.0 L696.8,154.4 L697.4,152.4 L698.0,149.4 L698.5,146.5 L699.1,153.3 L699.7,155.9 L700.3,165.3 L701.0,168.9 L701.8,175.9 L702.5,176.8 L703.2,179.4 L703.8,175.3 L704.4,177.0 L705.0,178.4 L705.6,181.8 L706.5,186.5 L707.4,191.2 L708.2,188.9 L709.1,188.8 L709.7,186.8 L710.3,187.6 L710.9,188.4 L711.5,191.2 L712.0,196.2 L712.6,195.9 L713.2,199.7 L713.8,204.1 L714.4,197.5 L715.0,191.2 L715.6,189.8 L716.2,181.8 L716.8,179.3 L717.4,177.0 L718.0,170.3 L718.5,168.8 L719.1,167.1 L719.7,164.1 L720.3,161.5 L720.9,161.8 L721.5,163.1 L722.1,159.4 L722.7,154.6 L723.2,153.5 L723.7,150.9 L724.2,150.0 L725.0,159.4 L725.6,155.8 L726.2,157.0 L726.8,161.3 L727.4,165.3 L728.2,173.5 L729.1,165.3 L729.7,159.1 L730.3,155.9 L730.9,153.5 L731.5,151.2 L732.0,149.4 L732.6,148.8 L733.2,146.1 L733.8,145.3 L734.4,145.5 L735.0,142.9 L735.6,143.2 L736.2,140.6 L737.0,138.9 L737.9,137.0 L738.4,135.0 L738.9,135.8 L739.7,137.1 L740.5,141.6 L741.4,145.3 L742.2,148.2 L743.0,153.5 L743.9,151.6 L744.7,154.2 L745.5,158.2 L746.1,154.6 L746.7,153.3 L747.5,150.6 L748.3,150.0 L749.1,151.7 L750.0,156.6 L750.8,159.3 L751.6,164.9 L752.5,167.1 L753.3,169.9 L754.1,177.1 L755.0,179.9 L755.3,186.5 L756.0,181.5 L756.6,176.5 L757.5,169.9 L758.3,164.9 L759.1,165.0 L760.0,169.9 L760.8,171.9 L761.6,173.2 L762.5,170.7 L763.3,168.2 L764.1,170.5 L764.9,176.5 L765.8,173.2 L766.6,173.2 L767.5,169.0 L768.3,164.9 L769.1,163.9 L769.9,159.9 L770.8,164.2 L771.6,166.6 L772.4,168.6 L773.2,169.9 L774.0,170.3 L774.9,171.6 L775.8,174.5 L776.6,176.5 L777.2,179.8 L777.9,183.2 L778.5,192.3 L779.1,194.8 L779.9,194.8 L780.7,198.1 L781.5,198.4 L782.4,199.8 L783.2,200.9 L784.0,198.1 L784.9,204.8 L785.7,209.8 L786.5,223.1 L787.2,222.1 L787.8,224.1 L788.5,221.4 L789.2,223.0 L789.9,224.7 L790.7,224.1 L791.5,223.1 L792.4,220.0 L793.2,218.1 L794.0,213.5 L794.8,213.1 L795.6,210.8 L796.5,211.4 L797.4,213.1 L798.2,208.1 L798.9,207.8 L799.5,205.6 L800.0,209.4 L800.6,211.4 L801.5,215.3 L802.3,216.4 L803.1,218.9 L804.0,219.7 L804.5,218.8 L805.1,214.8 L805.8,218.6 L806.5,223.1 L807.3,223.6 L808.1,224.7 L809.0,225.4 L809.8,223.1 L810.6,223.4 L811.4,224.7 L812.2,224.4 L813.1,228.0 L814.0,225.2 L814.8,223.1 L815.6,218.9 L816.4,216.4 L817.1,221.5 L817.8,224.7 L818.3,227.8 L818.9,233.0 L819.5,233.9 L820.1,238.0 L820.8,235.9 L821.4,234.7 L822.2,236.2 L823.1,233.0 L823.9,232.1 L824.7,231.4 L825.5,233.7 L826.4,235.5 L827.2,235.9 L828.1,236.3 L828.9,236.7 L829.7,236.3 L830.5,234.4 L831.4,229.7 L832.2,226.8 L833.0,219.7 L833.9,215.6 L834.7,216.4 L835.5,216.8 L836.4,213.1 L837.0,215.3 L837.7,217.0 L838.3,219.7 L839.1,220.0 L840.0,213.1 L840.8,212.0 L841.6,211.4 L842.5,216.8 L843.3,216.4 L844.1,215.6 L845.0,210.4 L845.8,209.7 L846.6,208.0 L847.5,204.8 L848.3,206.7 L849.1,206.4 L850.0,204.6 L850.8,203.1 L851.6,198.4 L852.4,200.6 L853.2,202.2 L854.1,204.8 L855.0,206.2 L855.8,208.1 L856.6,205.6 L857.4,206.4 L858.2,210.8 L859.1,209.7 L859.9,210.2 L860.7,211.4 L861.5,210.0 L862.4,209.7 L863.2,211.0 L864.1,213.1 L864.9,214.0 L865.7,217.2 L866.5,210.6 L867.4,206.4 L868.2,206.0 L869.1,205.8 L869.9,204.8 L870.7,202.8 L871.5,202.3 L872.3,203.0 L873.2,201.9 L874.0,204.8 L874.8,206.1 L875.7,204.7 L876.5,206.4 L877.3,207.0 L878.2,205.6 L879.0,207.2 L879.6,211.0 L880.2,216.4 L880.9,216.2 L881.6,213.4 L882.3,214.7 L883.1,218.7 L884.0,215.2 L884.8,215.5 L885.6,214.6 L886.5,212.8 L887.3,213.1 L888.1,214.9 L889.0,214.0 L889.8,211.4 L890.6,212.7 L891.5,211.0 L892.3,213.9 L893.1,209.4 L894.0,206.4 L894.8,199.8 L895.6,199.6 L896.5,196.8 L897.3,196.4 L898.1,192.2 L899.0,191.5 L899.8,190.5 L900.6,193.1 L901.5,190.3 L902.3,189.8 L903.1,186.5 L903.9,183.2 L904.8,181.4 L905.6,181.5 L906.5,183.2 L907.3,184.8 L908.1,186.5 L908.9,179.8 L909.8,181.7 L910.6,178.2 L911.4,174.0 L912.2,177.0 L913.1,183.2 L913.9,185.8 L914.7,187.3 L915.5,184.5 L916.4,181.5 L917.2,178.8 L918.1,176.5 L918.9,174.8 L919.7,169.9 L920.5,166.9 L921.4,164.9 L922.0,160.3 L922.7,156.6 L923.3,151.9 L923.9,148.3 L924.7,145.6 L925.5,143.3 L926.2,149.9 L926.9,149.3 L927.5,144.9 L928.1,146.5 L928.8,143.7 L929.4,146.1 L930.0,147.9 L930.6,151.1 L931.2,152.4 L931.9,156.1 L932.7,159.9 L933.2,157.4 L933.7,152.4 L934.4,154.0 L935.0,154.9 L935.6,159.9 L936.2,162.3 L936.9,158.5 L937.5,154.9 L938.1,153.3 L938.7,157.4 L939.4,153.1 L940.0,147.4 L940.9,147.4 L941.8,146.8 L942.4,148.2 L943.1,146.0 L943.7,148.6 L944.3,150.0 L945.0,150.1 L945.6,152.4 L946.5,152.6 L947.4,154.9 L948.0,157.1 L948.7,158.8 L949.3,159.9 L950.0,162.3 L950.6,167.3 L951.2,161.0 L951.8,159.9 L952.5,153.0 L953.1,153.6 L953.7,151.5 L954.3,151.1 L954.9,154.7 L955.5,154.9 L956.2,157.3 L957.0,156.5 L957.7,162.3 L958.3,161.7 L958.9,163.6 L959.7,161.7 L960.5,158.6 L961.1,163.0 L961.8,162.3 L962.4,166.0 L963.0,166.1 L963.6,169.2 L964.3,171.1 L964.9,167.0 L965.5,162.3 L966.1,159.1 L966.8,158.4 L967.4,157.4 L968.0,158.1 L968.7,158.7 L969.3,161.1 L969.9,160.8 L970.5,159.7 L971.1,159.9 L971.8,158.5 L972.4,156.1 L973.0,157.4 L973.7,155.5 L974.3,153.6 L974.9,154.9 L975.5,154.9 L976.1,155.1 L976.7,156.1 L977.4,152.4 L977.7,144.9 L978.2,138.2 L978.8,136.0 L979.3,134.2 L979.9,132.7 L980.5,128.8 L981.0,128.8 L981.6,127.2 L982.2,123.7 L982.7,123.3 L983.2,124.1 L983.8,121.1 L984.3,119.7 L984.9,119.4 L985.8,118.9 L986.3,121.6 L986.9,127.2 L987.4,131.0 L988.0,127.2 L988.8,128.8 L989.6,125.5 L990.2,123.3 L990.7,128.3 L991.3,130.5 L991.9,133.8 L992.4,128.3 L993.0,121.1 L993.5,120.5 L994.3,122.7 L994.8,123.6 L995.2,123.3 L995.7,125.5 L996.3,128.8 L996.8,128.8 L997.2,128.9 L997.7,129.9 L998.2,132.1 L998.8,132.7" fill="none" stroke="#000" stroke-width="1.05" stroke-linejoin="miter" stroke-miterlimit="2"/>
  <path d="M125.3,590.0 L125.8,570.8 L126.6,572.0 L127.5,577.5 L128.3,580.0 L129.1,586.0 L129.9,588.2 L130.8,591.5 L131.6,598.0 L132.3,602.2 L133.0,606.5 L133.8,601.4 L134.5,596.5 L135.3,589.0 L135.9,592.7 L136.6,600.0 L137.4,600.6 L138.3,605.0 L139.1,605.3 L139.9,604.2 L140.8,605.1 L141.6,602.0 L142.4,597.5 L143.2,590.0 L144.0,583.4 L144.9,576.8 L145.7,570.8 L146.5,578.3 L147.4,577.6 L148.2,581.6 L148.8,581.6 L149.4,582.2 L150.0,585.0 L150.8,581.5 L151.6,577.9 L152.4,574.0 L153.3,574.1 L154.1,575.2 L155.0,576.0 L155.8,577.4 L156.6,579.0 L157.4,580.6 L158.2,580.0 L159.0,581.3 L159.9,579.3 L160.7,583.0 L161.5,587.6 L162.3,590.0 L163.2,598.0 L164.0,592.7 L164.8,591.6 L165.7,592.4 L166.5,591.4 L167.3,594.7 L168.2,595.7 L169.0,599.1 L169.8,604.9 L170.6,607.4 L171.5,614.3 L172.3,611.5 L173.1,610.3 L174.0,610.4 L174.8,608.0 L175.6,608.3 L176.5,612.1 L177.3,614.8 L178.2,619.1 L179.0,621.5 L179.8,616.4 L180.6,611.5 L181.4,611.6 L182.2,610.7 L183.0,610.0 L183.9,609.0 L184.7,611.8 L185.6,611.5 L186.4,611.9 L187.2,617.6 L188.0,616.5 L188.9,617.4 L189.7,620.9 L190.6,621.5 L191.4,624.8 L192.2,629.5 L193.0,631.4 L193.8,633.8 L194.7,638.0 L195.2,643.0 L195.8,645.0 L196.5,644.7 L197.3,646.7 L198.0,644.7 L198.8,648.1 L199.7,649.7 L200.5,646.0 L201.4,640.7 L202.2,638.0 L202.9,637.4 L203.6,635.2 L204.3,635.2 L205.0,631.0 L205.8,629.0 L206.5,628.9 L207.3,626.6 L208.1,630.4 L208.8,633.2 L209.6,635.8 L210.4,636.6 L211.1,637.1 L211.9,637.3 L212.7,639.5 L213.4,643.4 L214.2,644.9 L214.9,649.5 L215.7,645.9 L216.4,643.4 L217.2,643.5 L217.9,644.2 L218.7,642.6 L219.5,640.4 L220.2,642.1 L221.0,641.9 L221.8,641.9 L222.5,641.0 L223.3,642.5 L224.1,644.5 L224.8,647.2 L225.6,645.7 L226.4,643.9 L227.1,642.1 L227.9,641.9 L228.7,641.8 L229.4,635.8 L230.2,634.6 L230.9,634.2 L231.7,631.2 L232.4,629.4 L233.2,625.0 L234.0,618.3 L234.8,620.7 L235.5,626.6 L236.2,629.2 L237.0,624.4 L237.8,628.3 L238.5,627.2 L239.3,628.2 L240.1,631.4 L240.8,632.5 L241.6,634.3 L242.3,640.4 L243.1,639.6 L243.8,641.2 L244.6,641.9 L245.4,640.5 L246.2,638.0 L246.9,641.2 L247.7,642.2 L248.4,642.7 L249.2,642.0 L249.9,643.2 L250.7,640.4 L251.5,638.1 L252.2,639.3 L253.0,638.6 L253.8,635.8 L254.5,632.8 L255.3,628.0 L256.0,628.2 L256.8,623.0 L257.6,620.5 L258.4,605.3 L259.1,604.2 L259.9,602.3 L260.6,609.2 L261.4,614.5 L262.1,617.6 L262.9,616.0 L263.7,608.4 L264.5,603.8 L265.2,599.9 L266.0,596.0 L266.8,592.9 L267.5,587.8 L268.3,588.8 L269.0,586.8 L269.8,591.6 L270.6,594.3 L271.3,594.6 L272.1,595.8 L272.8,591.6 L273.6,587.8 L274.4,595.2 L275.1,605.3 L275.9,601.6 L276.6,599.2 L277.4,601.1 L278.1,606.0 L278.9,603.8 L279.7,603.2 L280.4,600.9 L281.2,599.2 L282.0,598.7 L282.7,593.5 L283.5,590.8 L284.3,595.1 L285.0,592.8 L285.8,595.4 L286.6,594.3 L287.3,595.7 L288.1,596.4 L288.8,593.9 L289.6,594.6 L290.4,593.7 L291.1,590.2 L291.9,591.6 L292.7,592.3 L293.4,593.2 L294.2,595.1 L294.9,597.7 L295.7,594.2 L296.4,588.5 L297.2,584.7 L297.9,589.3 L298.7,591.6 L299.5,590.0 L300.2,587.6 L301.0,586.3 L301.6,587.0 L302.3,587.3 L303.0,583.1 L303.7,577.6 L304.4,574.7 L305.1,569.3 L305.8,567.2 L306.5,566.5 L307.2,559.2 L307.9,552.6 L308.5,544.3 L309.2,555.4 L309.9,552.7 L310.6,554.0 L311.3,558.5 L312.0,558.2 L312.7,556.9 L313.4,551.2 L314.1,552.3 L314.8,554.0 L315.5,554.2 L316.2,554.0 L316.9,556.8 L317.5,559.8 L318.2,562.3 L318.9,563.1 L319.6,566.5 L320.3,563.7 L321.0,564.5 L321.7,563.5 L322.4,565.1 L323.1,561.2 L323.8,566.7 L324.5,564.4 L325.2,563.1 L325.9,558.8 L326.6,559.6 L327.5,560.3 L328.4,558.1 L329.3,561.0 L330.0,565.9 L330.7,562.0 L331.4,560.8 L332.1,559.6 L332.8,558.6 L333.5,555.0 L334.2,557.3 L334.9,556.8 L335.6,553.5 L336.3,555.8 L337.0,554.0 L337.7,549.0 L338.3,549.0 L339.0,548.5 L339.7,549.8 L340.4,549.9 L341.1,545.2 L341.8,546.4 L342.6,543.5 L343.4,546.6 L344.3,546.0 L345.1,542.7 L345.9,543.6 L346.6,541.7 L347.3,540.9 L348.0,539.3 L348.7,540.2 L349.4,535.7 L350.1,533.2 L350.8,530.9 L351.5,524.9 L352.2,527.3 L352.9,527.7 L353.6,537.0 L354.3,540.2 L355.0,535.2 L355.6,530.5 L356.3,528.9 L357.0,527.7 L357.7,523.9 L358.4,522.9 L359.1,520.8 L359.8,519.5 L360.5,522.2 L361.2,516.7 L361.9,516.6 L362.6,515.3 L363.3,514.2 L364.0,509.7 L364.6,507.5 L365.3,502.8 L366.0,507.5 L366.7,508.3 L367.4,514.9 L368.1,520.8 L368.6,521.8 L369.2,524.9 L369.7,518.1 L370.2,511.1 L370.9,507.7 L371.6,505.5 L372.3,502.0 L372.9,499.3 L373.6,500.0 L374.2,497.2 L374.9,498.8 L375.5,498.2 L376.2,494.5 L376.8,489.7 L377.5,486.5 L378.1,483.0 L378.8,475.6 L379.4,469.7 L379.9,463.9 L380.5,456.4 L381.1,454.4 L381.6,448.7 L382.1,441.4 L382.7,436.5 L383.3,425.4 L384.1,420.2 L385.0,421.0 L385.8,419.9 L386.6,416.6 L387.1,418.9 L387.7,423.2 L388.2,428.0 L388.8,428.8 L389.4,433.2 L389.9,436.5 L390.4,434.2 L391.0,428.8 L391.6,431.6 L392.1,432.1 L393.0,424.5 L393.8,423.2 L394.4,414.4 L394.9,411.6 L395.5,406.6 L396.1,402.3 L396.6,400.0 L397.1,397.8 L397.7,397.8 L398.4,391.3 L399.2,386.1 L399.9,381.0 L400.6,373.6 L401.3,372.7 L401.9,370.6 L402.6,366.8 L403.2,359.8 L403.9,356.8 L404.5,353.2 L405.0,355.9 L405.5,365.8 L406.2,368.1 L406.9,370.7 L407.6,373.5 L408.2,373.4 L408.9,376.5 L409.6,374.0 L410.3,370.7 L411.1,368.1 L411.8,364.8 L412.4,362.8 L413.1,356.5 L413.7,354.2 L414.4,352.0 L415.2,352.3 L415.9,350.2 L416.6,350.3 L417.4,351.0 L418.1,346.5 L419.0,341.6 L419.8,340.3 L420.5,335.8 L421.0,333.2 L421.5,331.0 L422.1,325.6 L422.7,319.6 L423.4,313.1 L424.2,306.6 L424.9,299.7 L425.4,290.5 L426.0,282.0 L426.7,275.6 L427.5,268.3 L428.2,264.3 L428.9,252.5 L429.5,268.0 L430.1,256.0 L430.8,262.0 L431.5,245.0 L432.2,237.7 L432.9,250.0 L433.7,244.0 L434.4,259.8 L434.9,256.9 L435.4,256.0 L436.0,270.9 L436.8,277.8 L437.5,279.8 L438.2,281.2 L438.9,281.0 L439.7,281.1 L440.4,282.0 L441.0,277.9 L441.6,273.6 L442.2,279.9 L442.9,285.2 L443.6,281.3 L444.3,279.4 L445.1,285.5 L445.8,291.0 L446.5,295.2 L447.1,297.6 L447.8,302.6 L448.4,305.3 L449.1,308.9 L449.7,314.3 L450.4,319.5 L451.2,327.8 L451.9,326.2 L452.6,322.0 L453.2,312.7 L453.9,310.0 L454.5,304.6 L455.2,297.8 L455.8,292.0 L456.5,287.1 L457.1,285.0 L457.8,284.3 L458.4,280.3 L459.0,285.3 L459.7,289.8 L460.3,294.9 L461.0,295.3 L461.6,297.3 L462.3,298.8 L462.9,302.1 L463.6,302.1 L464.2,304.6 L464.7,300.9 L465.2,300.7 L465.8,304.0 L466.5,309.4 L467.1,316.2 L467.8,315.4 L468.4,320.4 L469.1,320.1 L469.9,325.5 L470.6,329.8 L471.3,325.5 L472.0,322.0 L472.6,322.9 L473.3,318.4 L473.9,318.1 L474.6,316.7 L475.2,314.2 L475.9,310.4 L476.5,312.6 L477.2,317.1 L477.8,324.0 L478.4,326.5 L479.1,333.1 L479.7,335.6 L480.2,342.4 L480.7,345.3 L481.3,340.2 L482.0,340.4 L482.6,335.6 L483.4,332.4 L484.2,329.8 L485.0,327.8 L485.8,334.7 L486.5,343.3 L487.2,340.4 L487.9,335.7 L488.7,334.5 L489.4,333.6 L490.1,332.5 L490.9,335.8 L491.6,339.0 L492.3,336.6 L493.0,341.4 L493.8,337.5 L494.5,336.2 L495.2,339.5 L495.9,337.7 L496.6,335.6 L497.4,338.8 L498.1,334.6 L498.8,337.7 L499.4,338.0 L500.1,341.4 L500.7,349.3 L501.4,355.1 L502.0,360.8 L502.7,362.2 L503.3,367.7 L504.0,372.4 L504.6,377.8 L505.3,384.0 L506.1,388.9 L506.9,393.7 L507.5,386.1 L508.2,378.2 L509.0,371.9 L509.8,366.6 L510.6,371.7 L511.3,376.3 L512.0,372.0 L512.7,369.5 L513.3,371.1 L514.0,377.6 L514.6,378.2 L515.3,379.4 L515.9,380.2 L516.6,380.2 L517.2,379.1 L517.9,382.5 L518.5,384.0 L519.1,382.7 L519.8,376.9 L520.4,376.3 L521.1,375.3 L521.7,370.5 L522.4,368.5 L523.1,370.3 L523.8,370.8 L524.6,372.5 L525.3,373.4 L526.0,374.0 L526.8,370.3 L527.5,372.1 L528.2,368.5 L528.8,366.7 L529.5,365.8 L530.1,366.6 L530.6,357.0 L531.1,345.3 L531.7,345.0 L532.4,347.3 L533.0,349.1 L533.7,349.8 L534.3,349.6 L535.0,347.2 L535.6,345.8 L536.3,350.6 L536.9,351.1 L537.8,351.2 L538.6,345.7 L539.2,339.4 L539.9,329.5 L540.5,324.6 L541.2,320.5 L541.9,322.3 L542.6,325.9 L543.4,319.1 L544.1,313.2 L544.7,316.9 L545.3,324.1 L545.9,320.7 L546.5,317.8 L547.1,315.0 L548.0,307.8 L548.9,288.0 L549.5,296.8 L550.2,306.0 L551.1,303.3 L552.0,297.0 L552.7,304.8 L553.4,313.2 L554.0,312.2 L554.6,317.2 L555.2,316.8 L556.1,317.0 L557.0,320.5 L557.9,312.6 L558.8,306.0 L559.4,308.8 L560.0,311.5 L560.6,315.0 L561.5,316.2 L562.4,320.5 L563.0,318.9 L563.6,321.3 L564.2,316.8 L565.1,316.8 L566.0,318.6 L566.9,316.6 L567.8,315.0 L568.5,326.6 L569.3,334.9 L569.9,334.8 L570.5,333.6 L571.1,331.3 L572.0,330.8 L572.9,327.7 L573.5,327.1 L574.1,331.2 L574.7,334.9 L575.4,325.1 L576.1,315.0 L576.9,319.4 L577.7,322.3 L578.6,325.1 L579.5,324.1 L580.1,327.2 L580.8,328.5 L581.4,331.3 L582.0,338.6 L582.6,345.7 L583.4,340.9 L584.1,336.7 L585.0,338.9 L585.9,340.3 L586.6,345.8 L587.3,349.3 L588.0,344.3 L588.6,340.3 L589.5,340.0 L590.4,342.1 L591.0,338.4 L591.6,338.9 L592.2,334.9 L593.1,331.4 L594.0,324.1 L594.9,324.7 L595.8,322.3 L596.4,321.8 L597.0,319.9 L597.6,316.8 L598.4,313.2 L599.1,310.6 L599.9,306.0 L600.5,306.2 L601.1,309.3 L601.7,311.4 L602.6,314.8 L603.5,320.5 L604.4,323.4 L605.3,324.1 L606.0,334.9 L606.6,347.5 L607.5,350.0 L608.4,352.9 L609.0,349.9 L609.6,347.7 L610.2,342.1 L611.1,339.1 L612.0,338.5 L612.9,335.3 L613.8,334.9 L614.4,333.1 L615.0,327.2 L615.6,325.9 L616.5,322.9 L617.4,318.6 L618.0,317.1 L618.6,317.2 L619.2,316.8 L620.1,315.9 L621.0,320.5 L621.9,318.8 L622.8,315.0 L623.5,310.6 L624.1,307.8 L624.9,308.3 L625.6,314.5 L626.4,313.2 L627.2,314.5 L627.9,319.0 L628.7,314.0 L629.4,315.6 L630.2,315.4 L630.9,317.0 L631.6,317.8 L632.3,318.3 L633.0,313.9 L633.8,312.7 L634.5,310.1 L635.2,307.6 L635.8,302.3 L636.5,300.4 L637.1,298.0 L637.8,294.5 L638.4,292.7 L639.0,288.9 L639.7,290.1 L640.3,286.9 L641.0,290.5 L641.6,292.1 L642.3,294.6 L642.9,291.3 L643.6,287.7 L644.2,288.8 L644.9,292.8 L645.5,295.1 L646.2,298.5 L646.9,296.9 L647.7,300.4 L648.4,299.1 L649.1,302.4 L649.8,301.4 L650.5,300.7 L651.3,300.0 L652.0,298.5 L652.6,297.5 L653.3,296.2 L653.9,294.6 L654.5,289.7 L655.2,287.6 L655.8,284.9 L656.5,282.2 L657.1,280.7 L657.8,279.1 L658.4,276.9 L659.1,274.9 L659.7,271.4 L660.3,271.3 L661.0,262.3 L661.6,263.6 L662.3,261.3 L663.0,257.8 L663.6,258.1 L664.3,262.5 L664.9,259.7 L665.7,258.2 L666.5,253.9 L667.2,248.5 L668.0,248.1 L668.7,244.9 L669.4,240.4 L669.9,235.4 L670.4,232.0 L671.0,214.0 L671.6,224.0 L672.2,209.7 L672.9,226.0 L673.6,213.0 L674.3,229.0 L674.9,214.0 L675.8,231.3 L676.4,216.0 L677.0,224.0 L677.9,208.0 L678.5,193.5 L679.4,191.5 L680.3,186.5 L680.9,174.7 L681.5,178.4 L682.1,185.3 L683.0,184.0 L683.8,183.0 L684.4,180.0 L685.0,177.3 L685.6,174.7 L686.2,172.7 L686.8,172.4 L687.4,172.5 L688.0,178.2 L688.9,175.4 L689.7,171.2 L690.6,169.7 L691.5,165.3 L692.0,162.8 L692.6,160.6 L693.1,156.1 L693.6,154.7 L694.4,165.3 L695.0,162.8 L695.6,160.6 L696.2,157.0 L696.8,154.4 L697.4,152.4 L698.0,149.4 L698.5,146.5 L699.1,153.3 L699.7,155.9 L700.3,165.3 L701.0,168.9 L701.8,175.9 L702.5,176.8 L703.2,179.4 L703.8,175.3 L704.4,177.0 L705.0,178.4 L705.6,181.8 L706.5,186.5 L707.4,191.2 L708.2,188.9 L709.1,188.8 L709.7,186.8 L710.3,187.6 L710.9,188.4 L711.5,191.2 L712.0,196.2 L712.6,195.9 L713.2,199.7 L713.8,204.1 L714.4,197.5 L715.0,191.2 L715.6,189.8 L716.2,181.8 L716.8,179.3 L717.4,177.0 L718.0,170.3 L718.5,168.8 L719.1,167.1 L719.7,164.1 L720.3,161.5 L720.9,161.8 L721.5,163.1 L722.1,159.4 L722.7,154.6 L723.2,153.5 L723.7,150.9 L724.2,150.0 L725.0,159.4 L725.6,155.8 L726.2,157.0 L726.8,161.3 L727.4,165.3 L728.2,173.5 L729.1,165.3 L729.7,159.1 L730.3,155.9 L730.9,153.5 L731.5,151.2 L732.0,149.4 L732.6,148.8 L733.2,146.1 L733.8,145.3 L734.4,145.5 L735.0,142.9 L735.6,143.2 L736.2,140.6 L737.0,138.9 L737.9,137.0 L738.4,135.0 L738.9,135.8 L739.7,137.1 L740.5,141.6 L741.4,145.3 L742.2,148.2 L743.0,153.5 L743.9,151.6 L744.7,154.2 L745.5,158.2 L746.1,154.6 L746.7,153.3 L747.5,150.6 L748.3,150.0 L749.1,151.7 L750.0,156.6 L750.8,159.3 L751.6,164.9 L752.5,167.1 L753.3,169.9 L754.1,177.1 L755.0,179.9 L755.3,186.5 L756.0,181.5 L756.6,176.5 L757.5,169.9 L758.3,164.9 L759.1,165.0 L760.0,169.9 L760.8,171.9 L761.6,173.2 L762.5,170.7 L763.3,168.2 L764.1,170.5 L764.9,176.5 L765.8,173.2 L766.6,173.2 L767.5,169.0 L768.3,164.9 L769.1,163.9 L769.9,159.9 L770.8,164.2 L771.6,166.6 L772.4,168.6 L773.2,169.9 L774.0,170.3 L774.9,171.6 L775.8,174.5 L776.6,176.5 L777.2,179.8 L777.9,183.2 L778.5,192.3 L779.1,194.8 L779.9,194.8 L780.7,198.1 L781.5,198.4 L782.4,199.8 L783.2,200.9 L784.0,198.1 L784.9,204.8 L785.7,209.8 L786.5,223.1 L787.2,222.1 L787.8,224.1 L788.5,221.4 L789.2,223.0 L789.9,224.7 L790.7,224.1 L791.5,223.1 L792.4,220.0 L793.2,218.1 L794.0,213.5 L794.8,213.1 L795.6,210.8 L796.5,211.4 L797.4,213.1 L798.2,208.1 L798.9,207.8 L799.5,205.6 L800.0,209.4 L800.6,211.4 L801.5,215.3 L802.3,216.4 L803.1,218.9 L804.0,219.7 L804.5,218.8 L805.1,214.8 L805.8,218.6 L806.5,223.1 L807.3,223.6 L808.1,224.7 L809.0,225.4 L809.8,223.1 L810.6,223.4 L811.4,224.7 L812.2,224.4 L813.1,228.0 L814.0,225.2 L814.8,223.1 L815.6,218.9 L816.4,216.4 L817.1,221.5 L817.8,224.7 L818.3,227.8 L818.9,233.0 L819.5,233.9 L820.1,238.0 L820.8,235.9 L821.4,234.7 L822.2,236.2 L823.1,233.0 L823.9,232.1 L824.7,231.4 L825.5,233.7 L826.4,235.5 L827.2,235.9 L828.1,236.3 L828.9,236.7 L829.7,236.3 L830.5,234.4 L831.4,229.7 L832.2,226.8 L833.0,219.7 L833.9,215.6 L834.7,216.4 L835.5,216.8 L836.4,213.1 L837.0,215.3 L837.7,217.0 L838.3,219.7 L839.1,220.0 L840.0,213.1 L840.8,212.0 L841.6,211.4 L842.5,216.8 L843.3,216.4 L844.1,215.6 L845.0,210.4 L845.8,209.7 L846.6,208.0 L847.5,204.8 L848.3,206.7 L849.1,206.4 L850.0,204.6 L850.8,203.1 L851.6,198.4 L852.4,200.6 L853.2,202.2 L854.1,204.8 L855.0,206.2 L855.8,208.1 L856.6,205.6 L857.4,206.4 L858.2,210.8 L859.1,209.7 L859.9,210.2 L860.7,211.4 L861.5,210.0 L862.4,209.7 L863.2,211.0 L864.1,213.1 L864.9,214.0 L865.7,217.2 L866.5,210.6 L867.4,206.4 L868.2,206.0 L869.1,205.8 L869.9,204.8 L870.7,202.8 L871.5,202.3 L872.3,203.0 L873.2,201.9 L874.0,204.8 L874.8,206.1 L875.7,204.7 L876.5,206.4 L877.3,207.0 L878.2,205.6 L879.0,207.2 L879.6,211.0 L880.2,216.4 L880.9,216.2 L881.6,213.4 L882.3,214.7 L883.1,218.7 L884.0,215.2 L884.8,215.5 L885.6,214.6 L886.5,212.8 L887.3,213.1 L888.1,214.9 L889.0,214.0 L889.8,211.4 L890.6,212.7 L891.5,211.0 L892.3,213.9 L893.1,209.4 L894.0,206.4 L894.8,199.8 L895.6,199.6 L896.5,196.8 L897.3,196.4 L898.1,192.2 L899.0,191.5 L899.8,190.5 L900.6,193.1 L901.5,190.3 L902.3,189.8 L903.1,186.5 L903.9,183.2 L904.8,181.4 L905.6,181.5 L906.5,183.2 L907.3,184.8 L908.1,186.5 L908.9,179.8 L909.8,181.7 L910.6,178.2 L911.4,174.0 L912.2,177.0 L913.1,183.2 L913.9,185.8 L914.7,187.3 L915.5,184.5 L916.4,181.5 L917.2,178.8 L918.1,176.5 L918.9,174.8 L919.7,169.9 L920.5,166.9 L921.4,164.9 L922.0,160.3 L922.7,156.6 L923.3,151.9 L923.9,148.3 L924.7,145.6 L925.5,143.3 L926.2,149.9 L926.9,149.3 L927.5,144.9 L928.1,146.5 L928.8,143.7 L929.4,146.1 L930.0,147.9 L930.6,151.1 L931.2,152.4 L931.9,156.1 L932.7,159.9 L933.2,157.4 L933.7,152.4 L934.4,154.0 L935.0,154.9 L935.6,159.9 L936.2,162.3 L936.9,158.5 L937.5,154.9 L938.1,153.3 L938.7,157.4 L939.4,153.1 L940.0,147.4 L940.9,147.4 L941.8,146.8 L942.4,148.2 L943.1,146.0 L943.7,148.6 L944.3,150.0 L945.0,150.1 L945.6,152.4 L946.5,152.6 L947.4,154.9 L948.0,157.1 L948.7,158.8 L949.3,159.9 L950.0,162.3 L950.6,167.3 L951.2,161.0 L951.8,159.9 L952.5,153.0 L953.1,153.6 L953.7,151.5 L954.3,151.1 L954.9,154.7 L955.5,154.9 L956.2,157.3 L957.0,156.5 L957.7,162.3 L958.3,161.7 L958.9,163.6 L959.7,161.7 L960.5,158.6 L961.1,163.0 L961.8,162.3 L962.4,166.0 L963.0,166.1 L963.6,169.2 L964.3,171.1 L964.9,167.0 L965.5,162.3 L966.1,159.1 L966.8,158.4 L967.4,157.4 L968.0,158.1 L968.7,158.7 L969.3,161.1 L969.9,160.8 L970.5,159.7 L971.1,159.9 L971.8,158.5 L972.4,156.1 L973.0,157.4 L973.7,155.5 L974.3,153.6 L974.9,154.9 L975.5,154.9 L976.1,155.1 L976.7,156.1 L977.4,152.4 L977.7,144.9 L978.2,138.2 L978.8,136.0 L979.3,134.2 L979.9,132.7 L980.5,128.8 L981.0,128.8 L981.6,127.2 L982.2,123.7 L982.7,123.3 L983.2,124.1 L983.8,121.1 L984.3,119.7 L984.9,119.4 L985.8,118.9 L986.3,121.6 L986.9,127.2 L987.4,131.0 L988.0,127.2 L988.8,128.8 L989.6,125.5 L990.2,123.3 L990.7,128.3 L991.3,130.5 L991.9,133.8 L992.4,128.3 L993.0,121.1 L993.5,120.5 L994.3,122.7 L994.8,123.6 L995.2,123.3 L995.7,125.5 L996.3,128.8 L996.8,128.8 L997.2,128.9 L997.7,129.9 L998.2,132.1 L998.8,132.7" fill="none" stroke="#111" stroke-width="0.7" stroke-linejoin="miter" stroke-miterlimit="2" transform="translate(0.7,0)"/>
  <path d="M134.00,598.9V623.0M172.80,610.8V633.0M181.40,611.0V596.6M195.30,641.8V676.0M197.20,644.8V624.0M243.10,640.9V652.6M258.70,604.7V582.4M318.50,562.5V582.4M325.40,562.3V573.4M352.60,527.1V511.1M393.30,425.8V444.3M407.40,372.1V397.8M428.60,257.6V294.0M435.00,257.5V291.0M439.30,281.2V321.8M607.10,349.0V382.6M682.60,184.6V197.0M688.50,176.1V183.0M695.00,162.5V177.0M701.10,171.0V203.0M708.20,190.1V206.5M762.40,170.8V184.9M779.60,195.8V209.8M787.40,222.3V235.5M844.50,213.2V225.5M956.80,159.3V176.1M996.60,128.8V138.2" fill="none" stroke="#222" stroke-width="0.85"/>
  <clipPath id="vol"><rect x="395" y="0" width="80" height="722"/><rect x="668" y="0" width="95" height="722"/></clipPath>
  <g clip-path="url(#vol)">
    <path d="M125.3,590.0 L125.8,570.8 L126.6,572.0 L127.5,577.5 L128.3,580.0 L129.1,586.0 L129.9,588.2 L130.8,591.5 L131.6,598.0 L132.3,602.2 L133.0,606.5 L133.8,601.4 L134.5,596.5 L135.3,589.0 L135.9,592.7 L136.6,600.0 L137.4,600.6 L138.3,605.0 L139.1,605.3 L139.9,604.2 L140.8,605.1 L141.6,602.0 L142.4,597.5 L143.2,590.0 L144.0,583.4 L144.9,576.8 L145.7,570.8 L146.5,578.3 L147.4,577.6 L148.2,581.6 L148.8,581.6 L149.4,582.2 L150.0,585.0 L150.8,581.5 L151.6,577.9 L152.4,574.0 L153.3,574.1 L154.1,575.2 L155.0,576.0 L155.8,577.4 L156.6,579.0 L157.4,580.6 L158.2,580.0 L159.0,581.3 L159.9,579.3 L160.7,583.0 L161.5,587.6 L162.3,590.0 L163.2,598.0 L164.0,592.7 L164.8,591.6 L165.7,592.4 L166.5,591.4 L167.3,594.7 L168.2,595.7 L169.0,599.1 L169.8,604.9 L170.6,607.4 L171.5,614.3 L172.3,611.5 L173.1,610.3 L174.0,610.4 L174.8,608.0 L175.6,608.3 L176.5,612.1 L177.3,614.8 L178.2,619.1 L179.0,621.5 L179.8,616.4 L180.6,611.5 L181.4,611.6 L182.2,610.7 L183.0,610.0 L183.9,609.0 L184.7,611.8 L185.6,611.5 L186.4,611.9 L187.2,617.6 L188.0,616.5 L188.9,617.4 L189.7,620.9 L190.6,621.5 L191.4,624.8 L192.2,629.5 L193.0,631.4 L193.8,633.8 L194.7,638.0 L195.2,643.0 L195.8,645.0 L196.5,644.7 L197.3,646.7 L198.0,644.7 L198.8,648.1 L199.7,649.7 L200.5,646.0 L201.4,640.7 L202.2,638.0 L202.9,637.4 L203.6,635.2 L204.3,635.2 L205.0,631.0 L205.8,629.0 L206.5,628.9 L207.3,626.6 L208.1,630.4 L208.8,633.2 L209.6,635.8 L210.4,636.6 L211.1,637.1 L211.9,637.3 L212.7,639.5 L213.4,643.4 L214.2,644.9 L214.9,649.5 L215.7,645.9 L216.4,643.4 L217.2,643.5 L217.9,644.2 L218.7,642.6 L219.5,640.4 L220.2,642.1 L221.0,641.9 L221.8,641.9 L222.5,641.0 L223.3,642.5 L224.1,644.5 L224.8,647.2 L225.6,645.7 L226.4,643.9 L227.1,642.1 L227.9,641.9 L228.7,641.8 L229.4,635.8 L230.2,634.6 L230.9,634.2 L231.7,631.2 L232.4,629.4 L233.2,625.0 L234.0,618.3 L234.8,620.7 L235.5,626.6 L236.2,629.2 L237.0,624.4 L237.8,628.3 L238.5,627.2 L239.3,628.2 L240.1,631.4 L240.8,632.5 L241.6,634.3 L242.3,640.4 L243.1,639.6 L243.8,641.2 L244.6,641.9 L245.4,640.5 L246.2,638.0 L246.9,641.2 L247.7,642.2 L248.4,642.7 L249.2,642.0 L249.9,643.2 L250.7,640.4 L251.5,638.1 L252.2,639.3 L253.0,638.6 L253.8,635.8 L254.5,632.8 L255.3,628.0 L256.0,628.2 L256.8,623.0 L257.6,620.5 L258.4,605.3 L259.1,604.2 L259.9,602.3 L260.6,609.2 L261.4,614.5 L262.1,617.6 L262.9,616.0 L263.7,608.4 L264.5,603.8 L265.2,599.9 L266.0,596.0 L266.8,592.9 L267.5,587.8 L268.3,588.8 L269.0,586.8 L269.8,591.6 L270.6,594.3 L271.3,594.6 L272.1,595.8 L272.8,591.6 L273.6,587.8 L274.4,595.2 L275.1,605.3 L275.9,601.6 L276.6,599.2 L277.4,601.1 L278.1,606.0 L278.9,603.8 L279.7,603.2 L280.4,600.9 L281.2,599.2 L282.0,598.7 L282.7,593.5 L283.5,590.8 L284.3,595.1 L285.0,592.8 L285.8,595.4 L286.6,594.3 L287.3,595.7 L288.1,596.4 L288.8,593.9 L289.6,594.6 L290.4,593.7 L291.1,590.2 L291.9,591.6 L292.7,592.3 L293.4,593.2 L294.2,595.1 L294.9,597.7 L295.7,594.2 L296.4,588.5 L297.2,584.7 L297.9,589.3 L298.7,591.6 L299.5,590.0 L300.2,587.6 L301.0,586.3 L301.6,587.0 L302.3,587.3 L303.0,583.1 L303.7,577.6 L304.4,574.7 L305.1,569.3 L305.8,567.2 L306.5,566.5 L307.2,559.2 L307.9,552.6 L308.5,544.3 L309.2,555.4 L309.9,552.7 L310.6,554.0 L311.3,558.5 L312.0,558.2 L312.7,556.9 L313.4,551.2 L314.1,552.3 L314.8,554.0 L315.5,554.2 L316.2,554.0 L316.9,556.8 L317.5,559.8 L318.2,562.3 L318.9,563.1 L319.6,566.5 L320.3,563.7 L321.0,564.5 L321.7,563.5 L322.4,565.1 L323.1,561.2 L323.8,566.7 L324.5,564.4 L325.2,563.1 L325.9,558.8 L326.6,559.6 L327.5,560.3 L328.4,558.1 L329.3,561.0 L330.0,565.9 L330.7,562.0 L331.4,560.8 L332.1,559.6 L332.8,558.6 L333.5,555.0 L334.2,557.3 L334.9,556.8 L335.6,553.5 L336.3,555.8 L337.0,554.0 L337.7,549.0 L338.3,549.0 L339.0,548.5 L339.7,549.8 L340.4,549.9 L341.1,545.2 L341.8,546.4 L342.6,543.5 L343.4,546.6 L344.3,546.0 L345.1,542.7 L345.9,543.6 L346.6,541.7 L347.3,540.9 L348.0,539.3 L348.7,540.2 L349.4,535.7 L350.1,533.2 L350.8,530.9 L351.5,524.9 L352.2,527.3 L352.9,527.7 L353.6,537.0 L354.3,540.2 L355.0,535.2 L355.6,530.5 L356.3,528.9 L357.0,527.7 L357.7,523.9 L358.4,522.9 L359.1,520.8 L359.8,519.5 L360.5,522.2 L361.2,516.7 L361.9,516.6 L362.6,515.3 L363.3,514.2 L364.0,509.7 L364.6,507.5 L365.3,502.8 L366.0,507.5 L366.7,508.3 L367.4,514.9 L368.1,520.8 L368.6,521.8 L369.2,524.9 L369.7,518.1 L370.2,511.1 L370.9,507.7 L371.6,505.5 L372.3,502.0 L372.9,499.3 L373.6,500.0 L374.2,497.2 L374.9,498.8 L375.5,498.2 L376.2,494.5 L376.8,489.7 L377.5,486.5 L378.1,483.0 L378.8,475.6 L379.4,469.7 L379.9,463.9 L380.5,456.4 L381.1,454.4 L381.6,448.7 L382.1,441.4 L382.7,436.5 L383.3,425.4 L384.1,420.2 L385.0,421.0 L385.8,419.9 L386.6,416.6 L387.1,418.9 L387.7,423.2 L388.2,428.0 L388.8,428.8 L389.4,433.2 L389.9,436.5 L390.4,434.2 L391.0,428.8 L391.6,431.6 L392.1,432.1 L393.0,424.5 L393.8,423.2 L394.4,414.4 L394.9,411.6 L395.5,406.6 L396.1,402.3 L396.6,400.0 L397.1,397.8 L397.7,397.8 L398.4,391.3 L399.2,386.1 L399.9,381.0 L400.6,373.6 L401.3,372.7 L401.9,370.6 L402.6,366.8 L403.2,359.8 L403.9,356.8 L404.5,353.2 L405.0,355.9 L405.5,365.8 L406.2,368.1 L406.9,370.7 L407.6,373.5 L408.2,373.4 L408.9,376.5 L409.6,374.0 L410.3,370.7 L411.1,368.1 L411.8,364.8 L412.4,362.8 L413.1,356.5 L413.7,354.2 L414.4,352.0 L415.2,352.3 L415.9,350.2 L416.6,350.3 L417.4,351.0 L418.1,346.5 L419.0,341.6 L419.8,340.3 L420.5,335.8 L421.0,333.2 L421.5,331.0 L422.1,325.6 L422.7,319.6 L423.4,313.1 L424.2,306.6 L424.9,299.7 L425.4,290.5 L426.0,282.0 L426.7,275.6 L427.5,268.3 L428.2,264.3 L428.9,252.5 L429.5,268.0 L430.1,256.0 L430.8,262.0 L431.5,245.0 L432.2,237.7 L432.9,250.0 L433.7,244.0 L434.4,259.8 L434.9,256.9 L435.4,256.0 L436.0,270.9 L436.8,277.8 L437.5,279.8 L438.2,281.2 L438.9,281.0 L439.7,281.1 L440.4,282.0 L441.0,277.9 L441.6,273.6 L442.2,279.9 L442.9,285.2 L443.6,281.3 L444.3,279.4 L445.1,285.5 L445.8,291.0 L446.5,295.2 L447.1,297.6 L447.8,302.6 L448.4,305.3 L449.1,308.9 L449.7,314.3 L450.4,319.5 L451.2,327.8 L451.9,326.2 L452.6,322.0 L453.2,312.7 L453.9,310.0 L454.5,304.6 L455.2,297.8 L455.8,292.0 L456.5,287.1 L457.1,285.0 L457.8,284.3 L458.4,280.3 L459.0,285.3 L459.7,289.8 L460.3,294.9 L461.0,295.3 L461.6,297.3 L462.3,298.8 L462.9,302.1 L463.6,302.1 L464.2,304.6 L464.7,300.9 L465.2,300.7 L465.8,304.0 L466.5,309.4 L467.1,316.2 L467.8,315.4 L468.4,320.4 L469.1,320.1 L469.9,325.5 L470.6,329.8 L471.3,325.5 L472.0,322.0 L472.6,322.9 L473.3,318.4 L473.9,318.1 L474.6,316.7 L475.2,314.2 L475.9,310.4 L476.5,312.6 L477.2,317.1 L477.8,324.0 L478.4,326.5 L479.1,333.1 L479.7,335.6 L480.2,342.4 L480.7,345.3 L481.3,340.2 L482.0,340.4 L482.6,335.6 L483.4,332.4 L484.2,329.8 L485.0,327.8 L485.8,334.7 L486.5,343.3 L487.2,340.4 L487.9,335.7 L488.7,334.5 L489.4,333.6 L490.1,332.5 L490.9,335.8 L491.6,339.0 L492.3,336.6 L493.0,341.4 L493.8,337.5 L494.5,336.2 L495.2,339.5 L495.9,337.7 L496.6,335.6 L497.4,338.8 L498.1,334.6 L498.8,337.7 L499.4,338.0 L500.1,341.4 L500.7,349.3 L501.4,355.1 L502.0,360.8 L502.7,362.2 L503.3,367.7 L504.0,372.4 L504.6,377.8 L505.3,384.0 L506.1,388.9 L506.9,393.7 L507.5,386.1 L508.2,378.2 L509.0,371.9 L509.8,366.6 L510.6,371.7 L511.3,376.3 L512.0,372.0 L512.7,369.5 L513.3,371.1 L514.0,377.6 L514.6,378.2 L515.3,379.4 L515.9,380.2 L516.6,380.2 L517.2,379.1 L517.9,382.5 L518.5,384.0 L519.1,382.7 L519.8,376.9 L520.4,376.3 L521.1,375.3 L521.7,370.5 L522.4,368.5 L523.1,370.3 L523.8,370.8 L524.6,372.5 L525.3,373.4 L526.0,374.0 L526.8,370.3 L527.5,372.1 L528.2,368.5 L528.8,366.7 L529.5,365.8 L530.1,366.6 L530.6,357.0 L531.1,345.3 L531.7,345.0 L532.4,347.3 L533.0,349.1 L533.7,349.8 L534.3,349.6 L535.0,347.2 L535.6,345.8 L536.3,350.6 L536.9,351.1 L537.8,351.2 L538.6,345.7 L539.2,339.4 L539.9,329.5 L540.5,324.6 L541.2,320.5 L541.9,322.3 L542.6,325.9 L543.4,319.1 L544.1,313.2 L544.7,316.9 L545.3,324.1 L545.9,320.7 L546.5,317.8 L547.1,315.0 L548.0,307.8 L548.9,288.0 L549.5,296.8 L550.2,306.0 L551.1,303.3 L552.0,297.0 L552.7,304.8 L553.4,313.2 L554.0,312.2 L554.6,317.2 L555.2,316.8 L556.1,317.0 L557.0,320.5 L557.9,312.6 L558.8,306.0 L559.4,308.8 L560.0,311.5 L560.6,315.0 L561.5,316.2 L562.4,320.5 L563.0,318.9 L563.6,321.3 L564.2,316.8 L565.1,316.8 L566.0,318.6 L566.9,316.6 L567.8,315.0 L568.5,326.6 L569.3,334.9 L569.9,334.8 L570.5,333.6 L571.1,331.3 L572.0,330.8 L572.9,327.7 L573.5,327.1 L574.1,331.2 L574.7,334.9 L575.4,325.1 L576.1,315.0 L576.9,319.4 L577.7,322.3 L578.6,325.1 L579.5,324.1 L580.1,327.2 L580.8,328.5 L581.4,331.3 L582.0,338.6 L582.6,345.7 L583.4,340.9 L584.1,336.7 L585.0,338.9 L585.9,340.3 L586.6,345.8 L587.3,349.3 L588.0,344.3 L588.6,340.3 L589.5,340.0 L590.4,342.1 L591.0,338.4 L591.6,338.9 L592.2,334.9 L593.1,331.4 L594.0,324.1 L594.9,324.7 L595.8,322.3 L596.4,321.8 L597.0,319.9 L597.6,316.8 L598.4,313.2 L599.1,310.6 L599.9,306.0 L600.5,306.2 L601.1,309.3 L601.7,311.4 L602.6,314.8 L603.5,320.5 L604.4,323.4 L605.3,324.1 L606.0,334.9 L606.6,347.5 L607.5,350.0 L608.4,352.9 L609.0,349.9 L609.6,347.7 L610.2,342.1 L611.1,339.1 L612.0,338.5 L612.9,335.3 L613.8,334.9 L614.4,333.1 L615.0,327.2 L615.6,325.9 L616.5,322.9 L617.4,318.6 L618.0,317.1 L618.6,317.2 L619.2,316.8 L620.1,315.9 L621.0,320.5 L621.9,318.8 L622.8,315.0 L623.5,310.6 L624.1,307.8 L624.9,308.3 L625.6,314.5 L626.4,313.2 L627.2,314.5 L627.9,319.0 L628.7,314.0 L629.4,315.6 L630.2,315.4 L630.9,317.0 L631.6,317.8 L632.3,318.3 L633.0,313.9 L633.8,312.7 L634.5,310.1 L635.2,307.6 L635.8,302.3 L636.5,300.4 L637.1,298.0 L637.8,294.5 L638.4,292.7 L639.0,288.9 L639.7,290.1 L640.3,286.9 L641.0,290.5 L641.6,292.1 L642.3,294.6 L642.9,291.3 L643.6,287.7 L644.2,288.8 L644.9,292.8 L645.5,295.1 L646.2,298.5 L646.9,296.9 L647.7,300.4 L648.4,299.1 L649.1,302.4 L649.8,301.4 L650.5,300.7 L651.3,300.0 L652.0,298.5 L652.6,297.5 L653.3,296.2 L653.9,294.6 L654.5,289.7 L655.2,287.6 L655.8,284.9 L656.5,282.2 L657.1,280.7 L657.8,279.1 L658.4,276.9 L659.1,274.9 L659.7,271.4 L660.3,271.3 L661.0,262.3 L661.6,263.6 L662.3,261.3 L663.0,257.8 L663.6,258.1 L664.3,262.5 L664.9,259.7 L665.7,258.2 L666.5,253.9 L667.2,248.5 L668.0,248.1 L668.7,244.9 L669.4,240.4 L669.9,235.4 L670.4,232.0 L671.0,214.0 L671.6,224.0 L672.2,209.7 L672.9,226.0 L673.6,213.0 L674.3,229.0 L674.9,214.0 L675.8,231.3 L676.4,216.0 L677.0,224.0 L677.9,208.0 L678.5,193.5 L679.4,191.5 L680.3,186.5 L680.9,174.7 L681.5,178.4 L682.1,185.3 L683.0,184.0 L683.8,183.0 L684.4,180.0 L685.0,177.3 L685.6,174.7 L686.2,172.7 L686.8,172.4 L687.4,172.5 L688.0,178.2 L688.9,175.4 L689.7,171.2 L690.6,169.7 L691.5,165.3 L692.0,162.8 L692.6,160.6 L693.1,156.1 L693.6,154.7 L694.4,165.3 L695.0,162.8 L695.6,160.6 L696.2,157.0 L696.8,154.4 L697.4,152.4 L698.0,149.4 L698.5,146.5 L699.1,153.3 L699.7,155.9 L700.3,165.3 L701.0,168.9 L701.8,175.9 L702.5,176.8 L703.2,179.4 L703.8,175.3 L704.4,177.0 L705.0,178.4 L705.6,181.8 L706.5,186.5 L707.4,191.2 L708.2,188.9 L709.1,188.8 L709.7,186.8 L710.3,187.6 L710.9,188.4 L711.5,191.2 L712.0,196.2 L712.6,195.9 L713.2,199.7 L713.8,204.1 L714.4,197.5 L715.0,191.2 L715.6,189.8 L716.2,181.8 L716.8,179.3 L717.4,177.0 L718.0,170.3 L718.5,168.8 L719.1,167.1 L719.7,164.1 L720.3,161.5 L720.9,161.8 L721.5,163.1 L722.1,159.4 L722.7,154.6 L723.2,153.5 L723.7,150.9 L724.2,150.0 L725.0,159.4 L725.6,155.8 L726.2,157.0 L726.8,161.3 L727.4,165.3 L728.2,173.5 L729.1,165.3 L729.7,159.1 L730.3,155.9 L730.9,153.5 L731.5,151.2 L732.0,149.4 L732.6,148.8 L733.2,146.1 L733.8,145.3 L734.4,145.5 L735.0,142.9 L735.6,143.2 L736.2,140.6 L737.0,138.9 L737.9,137.0 L738.4,135.0 L738.9,135.8 L739.7,137.1 L740.5,141.6 L741.4,145.3 L742.2,148.2 L743.0,153.5 L743.9,151.6 L744.7,154.2 L745.5,158.2 L746.1,154.6 L746.7,153.3 L747.5,150.6 L748.3,150.0 L749.1,151.7 L750.0,156.6 L750.8,159.3 L751.6,164.9 L752.5,167.1 L753.3,169.9 L754.1,177.1 L755.0,179.9 L755.3,186.5 L756.0,181.5 L756.6,176.5 L757.5,169.9 L758.3,164.9 L759.1,165.0 L760.0,169.9 L760.8,171.9 L761.6,173.2 L762.5,170.7 L763.3,168.2 L764.1,170.5 L764.9,176.5 L765.8,173.2 L766.6,173.2 L767.5,169.0 L768.3,164.9 L769.1,163.9 L769.9,159.9 L770.8,164.2 L771.6,166.6 L772.4,168.6 L773.2,169.9 L774.0,170.3 L774.9,171.6 L775.8,174.5 L776.6,176.5 L777.2,179.8 L777.9,183.2 L778.5,192.3 L779.1,194.8 L779.9,194.8 L780.7,198.1 L781.5,198.4 L782.4,199.8 L783.2,200.9 L784.0,198.1 L784.9,204.8 L785.7,209.8 L786.5,223.1 L787.2,222.1 L787.8,224.1 L788.5,221.4 L789.2,223.0 L789.9,224.7 L790.7,224.1 L791.5,223.1 L792.4,220.0 L793.2,218.1 L794.0,213.5 L794.8,213.1 L795.6,210.8 L796.5,211.4 L797.4,213.1 L798.2,208.1 L798.9,207.8 L799.5,205.6 L800.0,209.4 L800.6,211.4 L801.5,215.3 L802.3,216.4 L803.1,218.9 L804.0,219.7 L804.5,218.8 L805.1,214.8 L805.8,218.6 L806.5,223.1 L807.3,223.6 L808.1,224.7 L809.0,225.4 L809.8,223.1 L810.6,223.4 L811.4,224.7 L812.2,224.4 L813.1,228.0 L814.0,225.2 L814.8,223.1 L815.6,218.9 L816.4,216.4 L817.1,221.5 L817.8,224.7 L818.3,227.8 L818.9,233.0 L819.5,233.9 L820.1,238.0 L820.8,235.9 L821.4,234.7 L822.2,236.2 L823.1,233.0 L823.9,232.1 L824.7,231.4 L825.5,233.7 L826.4,235.5 L827.2,235.9 L828.1,236.3 L828.9,236.7 L829.7,236.3 L830.5,234.4 L831.4,229.7 L832.2,226.8 L833.0,219.7 L833.9,215.6 L834.7,216.4 L835.5,216.8 L836.4,213.1 L837.0,215.3 L837.7,217.0 L838.3,219.7 L839.1,220.0 L840.0,213.1 L840.8,212.0 L841.6,211.4 L842.5,216.8 L843.3,216.4 L844.1,215.6 L845.0,210.4 L845.8,209.7 L846.6,208.0 L847.5,204.8 L848.3,206.7 L849.1,206.4 L850.0,204.6 L850.8,203.1 L851.6,198.4 L852.4,200.6 L853.2,202.2 L854.1,204.8 L855.0,206.2 L855.8,208.1 L856.6,205.6 L857.4,206.4 L858.2,210.8 L859.1,209.7 L859.9,210.2 L860.7,211.4 L861.5,210.0 L862.4,209.7 L863.2,211.0 L864.1,213.1 L864.9,214.0 L865.7,217.2 L866.5,210.6 L867.4,206.4 L868.2,206.0 L869.1,205.8 L869.9,204.8 L870.7,202.8 L871.5,202.3 L872.3,203.0 L873.2,201.9 L874.0,204.8 L874.8,206.1 L875.7,204.7 L876.5,206.4 L877.3,207.0 L878.2,205.6 L879.0,207.2 L879.6,211.0 L880.2,216.4 L880.9,216.2 L881.6,213.4 L882.3,214.7 L883.1,218.7 L884.0,215.2 L884.8,215.5 L885.6,214.6 L886.5,212.8 L887.3,213.1 L888.1,214.9 L889.0,214.0 L889.8,211.4 L890.6,212.7 L891.5,211.0 L892.3,213.9 L893.1,209.4 L894.0,206.4 L894.8,199.8 L895.6,199.6 L896.5,196.8 L897.3,196.4 L898.1,192.2 L899.0,191.5 L899.8,190.5 L900.6,193.1 L901.5,190.3 L902.3,189.8 L903.1,186.5 L903.9,183.2 L904.8,181.4 L905.6,181.5 L906.5,183.2 L907.3,184.8 L908.1,186.5 L908.9,179.8 L909.8,181.7 L910.6,178.2 L911.4,174.0 L912.2,177.0 L913.1,183.2 L913.9,185.8 L914.7,187.3 L915.5,184.5 L916.4,181.5 L917.2,178.8 L918.1,176.5 L918.9,174.8 L919.7,169.9 L920.5,166.9 L921.4,164.9 L922.0,160.3 L922.7,156.6 L923.3,151.9 L923.9,148.3 L924.7,145.6 L925.5,143.3 L926.2,149.9 L926.9,149.3 L927.5,144.9 L928.1,146.5 L928.8,143.7 L929.4,146.1 L930.0,147.9 L930.6,151.1 L931.2,152.4 L931.9,156.1 L932.7,159.9 L933.2,157.4 L933.7,152.4 L934.4,154.0 L935.0,154.9 L935.6,159.9 L936.2,162.3 L936.9,158.5 L937.5,154.9 L938.1,153.3 L938.7,157.4 L939.4,153.1 L940.0,147.4 L940.9,147.4 L941.8,146.8 L942.4,148.2 L943.1,146.0 L943.7,148.6 L944.3,150.0 L945.0,150.1 L945.6,152.4 L946.5,152.6 L947.4,154.9 L948.0,157.1 L948.7,158.8 L949.3,159.9 L950.0,162.3 L950.6,167.3 L951.2,161.0 L951.8,159.9 L952.5,153.0 L953.1,153.6 L953.7,151.5 L954.3,151.1 L954.9,154.7 L955.5,154.9 L956.2,157.3 L957.0,156.5 L957.7,162.3 L958.3,161.7 L958.9,163.6 L959.7,161.7 L960.5,158.6 L961.1,163.0 L961.8,162.3 L962.4,166.0 L963.0,166.1 L963.6,169.2 L964.3,171.1 L964.9,167.0 L965.5,162.3 L966.1,159.1 L966.8,158.4 L967.4,157.4 L968.0,158.1 L968.7,158.7 L969.3,161.1 L969.9,160.8 L970.5,159.7 L971.1,159.9 L971.8,158.5 L972.4,156.1 L973.0,157.4 L973.7,155.5 L974.3,153.6 L974.9,154.9 L975.5,154.9 L976.1,155.1 L976.7,156.1 L977.4,152.4 L977.7,144.9 L978.2,138.2 L978.8,136.0 L979.3,134.2 L979.9,132.7 L980.5,128.8 L981.0,128.8 L981.6,127.2 L982.2,123.7 L982.7,123.3 L983.2,124.1 L983.8,121.1 L984.3,119.7 L984.9,119.4 L985.8,118.9 L986.3,121.6 L986.9,127.2 L987.4,131.0 L988.0,127.2 L988.8,128.8 L989.6,125.5 L990.2,123.3 L990.7,128.3 L991.3,130.5 L991.9,133.8 L992.4,128.3 L993.0,121.1 L993.5,120.5 L994.3,122.7 L994.8,123.6 L995.2,123.3 L995.7,125.5 L996.3,128.8 L996.8,128.8 L997.2,128.9 L997.7,129.9 L998.2,132.1 L998.8,132.7" fill="none" stroke="#111" stroke-width="1.0" transform="translate(-0.6,1.0)"/>
    <path d="M125.3,590.0 L125.8,570.8 L126.6,572.0 L127.5,577.5 L128.3,580.0 L129.1,586.0 L129.9,588.2 L130.8,591.5 L131.6,598.0 L132.3,602.2 L133.0,606.5 L133.8,601.4 L134.5,596.5 L135.3,589.0 L135.9,592.7 L136.6,600.0 L137.4,600.6 L138.3,605.0 L139.1,605.3 L139.9,604.2 L140.8,605.1 L141.6,602.0 L142.4,597.5 L143.2,590.0 L144.0,583.4 L144.9,576.8 L145.7,570.8 L146.5,578.3 L147.4,577.6 L148.2,581.6 L148.8,581.6 L149.4,582.2 L150.0,585.0 L150.8,581.5 L151.6,577.9 L152.4,574.0 L153.3,574.1 L154.1,575.2 L155.0,576.0 L155.8,577.4 L156.6,579.0 L157.4,580.6 L158.2,580.0 L159.0,581.3 L159.9,579.3 L160.7,583.0 L161.5,587.6 L162.3,590.0 L163.2,598.0 L164.0,592.7 L164.8,591.6 L165.7,592.4 L166.5,591.4 L167.3,594.7 L168.2,595.7 L169.0,599.1 L169.8,604.9 L170.6,607.4 L171.5,614.3 L172.3,611.5 L173.1,610.3 L174.0,610.4 L174.8,608.0 L175.6,608.3 L176.5,612.1 L177.3,614.8 L178.2,619.1 L179.0,621.5 L179.8,616.4 L180.6,611.5 L181.4,611.6 L182.2,610.7 L183.0,610.0 L183.9,609.0 L184.7,611.8 L185.6,611.5 L186.4,611.9 L187.2,617.6 L188.0,616.5 L188.9,617.4 L189.7,620.9 L190.6,621.5 L191.4,624.8 L192.2,629.5 L193.0,631.4 L193.8,633.8 L194.7,638.0 L195.2,643.0 L195.8,645.0 L196.5,644.7 L197.3,646.7 L198.0,644.7 L198.8,648.1 L199.7,649.7 L200.5,646.0 L201.4,640.7 L202.2,638.0 L202.9,637.4 L203.6,635.2 L204.3,635.2 L205.0,631.0 L205.8,629.0 L206.5,628.9 L207.3,626.6 L208.1,630.4 L208.8,633.2 L209.6,635.8 L210.4,636.6 L211.1,637.1 L211.9,637.3 L212.7,639.5 L213.4,643.4 L214.2,644.9 L214.9,649.5 L215.7,645.9 L216.4,643.4 L217.2,643.5 L217.9,644.2 L218.7,642.6 L219.5,640.4 L220.2,642.1 L221.0,641.9 L221.8,641.9 L222.5,641.0 L223.3,642.5 L224.1,644.5 L224.8,647.2 L225.6,645.7 L226.4,643.9 L227.1,642.1 L227.9,641.9 L228.7,641.8 L229.4,635.8 L230.2,634.6 L230.9,634.2 L231.7,631.2 L232.4,629.4 L233.2,625.0 L234.0,618.3 L234.8,620.7 L235.5,626.6 L236.2,629.2 L237.0,624.4 L237.8,628.3 L238.5,627.2 L239.3,628.2 L240.1,631.4 L240.8,632.5 L241.6,634.3 L242.3,640.4 L243.1,639.6 L243.8,641.2 L244.6,641.9 L245.4,640.5 L246.2,638.0 L246.9,641.2 L247.7,642.2 L248.4,642.7 L249.2,642.0 L249.9,643.2 L250.7,640.4 L251.5,638.1 L252.2,639.3 L253.0,638.6 L253.8,635.8 L254.5,632.8 L255.3,628.0 L256.0,628.2 L256.8,623.0 L257.6,620.5 L258.4,605.3 L259.1,604.2 L259.9,602.3 L260.6,609.2 L261.4,614.5 L262.1,617.6 L262.9,616.0 L263.7,608.4 L264.5,603.8 L265.2,599.9 L266.0,596.0 L266.8,592.9 L267.5,587.8 L268.3,588.8 L269.0,586.8 L269.8,591.6 L270.6,594.3 L271.3,594.6 L272.1,595.8 L272.8,591.6 L273.6,587.8 L274.4,595.2 L275.1,605.3 L275.9,601.6 L276.6,599.2 L277.4,601.1 L278.1,606.0 L278.9,603.8 L279.7,603.2 L280.4,600.9 L281.2,599.2 L282.0,598.7 L282.7,593.5 L283.5,590.8 L284.3,595.1 L285.0,592.8 L285.8,595.4 L286.6,594.3 L287.3,595.7 L288.1,596.4 L288.8,593.9 L289.6,594.6 L290.4,593.7 L291.1,590.2 L291.9,591.6 L292.7,592.3 L293.4,593.2 L294.2,595.1 L294.9,597.7 L295.7,594.2 L296.4,588.5 L297.2,584.7 L297.9,589.3 L298.7,591.6 L299.5,590.0 L300.2,587.6 L301.0,586.3 L301.6,587.0 L302.3,587.3 L303.0,583.1 L303.7,577.6 L304.4,574.7 L305.1,569.3 L305.8,567.2 L306.5,566.5 L307.2,559.2 L307.9,552.6 L308.5,544.3 L309.2,555.4 L309.9,552.7 L310.6,554.0 L311.3,558.5 L312.0,558.2 L312.7,556.9 L313.4,551.2 L314.1,552.3 L314.8,554.0 L315.5,554.2 L316.2,554.0 L316.9,556.8 L317.5,559.8 L318.2,562.3 L318.9,563.1 L319.6,566.5 L320.3,563.7 L321.0,564.5 L321.7,563.5 L322.4,565.1 L323.1,561.2 L323.8,566.7 L324.5,564.4 L325.2,563.1 L325.9,558.8 L326.6,559.6 L327.5,560.3 L328.4,558.1 L329.3,561.0 L330.0,565.9 L330.7,562.0 L331.4,560.8 L332.1,559.6 L332.8,558.6 L333.5,555.0 L334.2,557.3 L334.9,556.8 L335.6,553.5 L336.3,555.8 L337.0,554.0 L337.7,549.0 L338.3,549.0 L339.0,548.5 L339.7,549.8 L340.4,549.9 L341.1,545.2 L341.8,546.4 L342.6,543.5 L343.4,546.6 L344.3,546.0 L345.1,542.7 L345.9,543.6 L346.6,541.7 L347.3,540.9 L348.0,539.3 L348.7,540.2 L349.4,535.7 L350.1,533.2 L350.8,530.9 L351.5,524.9 L352.2,527.3 L352.9,527.7 L353.6,537.0 L354.3,540.2 L355.0,535.2 L355.6,530.5 L356.3,528.9 L357.0,527.7 L357.7,523.9 L358.4,522.9 L359.1,520.8 L359.8,519.5 L360.5,522.2 L361.2,516.7 L361.9,516.6 L362.6,515.3 L363.3,514.2 L364.0,509.7 L364.6,507.5 L365.3,502.8 L366.0,507.5 L366.7,508.3 L367.4,514.9 L368.1,520.8 L368.6,521.8 L369.2,524.9 L369.7,518.1 L370.2,511.1 L370.9,507.7 L371.6,505.5 L372.3,502.0 L372.9,499.3 L373.6,500.0 L374.2,497.2 L374.9,498.8 L375.5,498.2 L376.2,494.5 L376.8,489.7 L377.5,486.5 L378.1,483.0 L378.8,475.6 L379.4,469.7 L379.9,463.9 L380.5,456.4 L381.1,454.4 L381.6,448.7 L382.1,441.4 L382.7,436.5 L383.3,425.4 L384.1,420.2 L385.0,421.0 L385.8,419.9 L386.6,416.6 L387.1,418.9 L387.7,423.2 L388.2,428.0 L388.8,428.8 L389.4,433.2 L389.9,436.5 L390.4,434.2 L391.0,428.8 L391.6,431.6 L392.1,432.1 L393.0,424.5 L393.8,423.2 L394.4,414.4 L394.9,411.6 L395.5,406.6 L396.1,402.3 L396.6,400.0 L397.1,397.8 L397.7,397.8 L398.4,391.3 L399.2,386.1 L399.9,381.0 L400.6,373.6 L401.3,372.7 L401.9,370.6 L402.6,366.8 L403.2,359.8 L403.9,356.8 L404.5,353.2 L405.0,355.9 L405.5,365.8 L406.2,368.1 L406.9,370.7 L407.6,373.5 L408.2,373.4 L408.9,376.5 L409.6,374.0 L410.3,370.7 L411.1,368.1 L411.8,364.8 L412.4,362.8 L413.1,356.5 L413.7,354.2 L414.4,352.0 L415.2,352.3 L415.9,350.2 L416.6,350.3 L417.4,351.0 L418.1,346.5 L419.0,341.6 L419.8,340.3 L420.5,335.8 L421.0,333.2 L421.5,331.0 L422.1,325.6 L422.7,319.6 L423.4,313.1 L424.2,306.6 L424.9,299.7 L425.4,290.5 L426.0,282.0 L426.7,275.6 L427.5,268.3 L428.2,264.3 L428.9,252.5 L429.5,268.0 L430.1,256.0 L430.8,262.0 L431.5,245.0 L432.2,237.7 L432.9,250.0 L433.7,244.0 L434.4,259.8 L434.9,256.9 L435.4,256.0 L436.0,270.9 L436.8,277.8 L437.5,279.8 L438.2,281.2 L438.9,281.0 L439.7,281.1 L440.4,282.0 L441.0,277.9 L441.6,273.6 L442.2,279.9 L442.9,285.2 L443.6,281.3 L444.3,279.4 L445.1,285.5 L445.8,291.0 L446.5,295.2 L447.1,297.6 L447.8,302.6 L448.4,305.3 L449.1,308.9 L449.7,314.3 L450.4,319.5 L451.2,327.8 L451.9,326.2 L452.6,322.0 L453.2,312.7 L453.9,310.0 L454.5,304.6 L455.2,297.8 L455.8,292.0 L456.5,287.1 L457.1,285.0 L457.8,284.3 L458.4,280.3 L459.0,285.3 L459.7,289.8 L460.3,294.9 L461.0,295.3 L461.6,297.3 L462.3,298.8 L462.9,302.1 L463.6,302.1 L464.2,304.6 L464.7,300.9 L465.2,300.7 L465.8,304.0 L466.5,309.4 L467.1,316.2 L467.8,315.4 L468.4,320.4 L469.1,320.1 L469.9,325.5 L470.6,329.8 L471.3,325.5 L472.0,322.0 L472.6,322.9 L473.3,318.4 L473.9,318.1 L474.6,316.7 L475.2,314.2 L475.9,310.4 L476.5,312.6 L477.2,317.1 L477.8,324.0 L478.4,326.5 L479.1,333.1 L479.7,335.6 L480.2,342.4 L480.7,345.3 L481.3,340.2 L482.0,340.4 L482.6,335.6 L483.4,332.4 L484.2,329.8 L485.0,327.8 L485.8,334.7 L486.5,343.3 L487.2,340.4 L487.9,335.7 L488.7,334.5 L489.4,333.6 L490.1,332.5 L490.9,335.8 L491.6,339.0 L492.3,336.6 L493.0,341.4 L493.8,337.5 L494.5,336.2 L495.2,339.5 L495.9,337.7 L496.6,335.6 L497.4,338.8 L498.1,334.6 L498.8,337.7 L499.4,338.0 L500.1,341.4 L500.7,349.3 L501.4,355.1 L502.0,360.8 L502.7,362.2 L503.3,367.7 L504.0,372.4 L504.6,377.8 L505.3,384.0 L506.1,388.9 L506.9,393.7 L507.5,386.1 L508.2,378.2 L509.0,371.9 L509.8,366.6 L510.6,371.7 L511.3,376.3 L512.0,372.0 L512.7,369.5 L513.3,371.1 L514.0,377.6 L514.6,378.2 L515.3,379.4 L515.9,380.2 L516.6,380.2 L517.2,379.1 L517.9,382.5 L518.5,384.0 L519.1,382.7 L519.8,376.9 L520.4,376.3 L521.1,375.3 L521.7,370.5 L522.4,368.5 L523.1,370.3 L523.8,370.8 L524.6,372.5 L525.3,373.4 L526.0,374.0 L526.8,370.3 L527.5,372.1 L528.2,368.5 L528.8,366.7 L529.5,365.8 L530.1,366.6 L530.6,357.0 L531.1,345.3 L531.7,345.0 L532.4,347.3 L533.0,349.1 L533.7,349.8 L534.3,349.6 L535.0,347.2 L535.6,345.8 L536.3,350.6 L536.9,351.1 L537.8,351.2 L538.6,345.7 L539.2,339.4 L539.9,329.5 L540.5,324.6 L541.2,320.5 L541.9,322.3 L542.6,325.9 L543.4,319.1 L544.1,313.2 L544.7,316.9 L545.3,324.1 L545.9,320.7 L546.5,317.8 L547.1,315.0 L548.0,307.8 L548.9,288.0 L549.5,296.8 L550.2,306.0 L551.1,303.3 L552.0,297.0 L552.7,304.8 L553.4,313.2 L554.0,312.2 L554.6,317.2 L555.2,316.8 L556.1,317.0 L557.0,320.5 L557.9,312.6 L558.8,306.0 L559.4,308.8 L560.0,311.5 L560.6,315.0 L561.5,316.2 L562.4,320.5 L563.0,318.9 L563.6,321.3 L564.2,316.8 L565.1,316.8 L566.0,318.6 L566.9,316.6 L567.8,315.0 L568.5,326.6 L569.3,334.9 L569.9,334.8 L570.5,333.6 L571.1,331.3 L572.0,330.8 L572.9,327.7 L573.5,327.1 L574.1,331.2 L574.7,334.9 L575.4,325.1 L576.1,315.0 L576.9,319.4 L577.7,322.3 L578.6,325.1 L579.5,324.1 L580.1,327.2 L580.8,328.5 L581.4,331.3 L582.0,338.6 L582.6,345.7 L583.4,340.9 L584.1,336.7 L585.0,338.9 L585.9,340.3 L586.6,345.8 L587.3,349.3 L588.0,344.3 L588.6,340.3 L589.5,340.0 L590.4,342.1 L591.0,338.4 L591.6,338.9 L592.2,334.9 L593.1,331.4 L594.0,324.1 L594.9,324.7 L595.8,322.3 L596.4,321.8 L597.0,319.9 L597.6,316.8 L598.4,313.2 L599.1,310.6 L599.9,306.0 L600.5,306.2 L601.1,309.3 L601.7,311.4 L602.6,314.8 L603.5,320.5 L604.4,323.4 L605.3,324.1 L606.0,334.9 L606.6,347.5 L607.5,350.0 L608.4,352.9 L609.0,349.9 L609.6,347.7 L610.2,342.1 L611.1,339.1 L612.0,338.5 L612.9,335.3 L613.8,334.9 L614.4,333.1 L615.0,327.2 L615.6,325.9 L616.5,322.9 L617.4,318.6 L618.0,317.1 L618.6,317.2 L619.2,316.8 L620.1,315.9 L621.0,320.5 L621.9,318.8 L622.8,315.0 L623.5,310.6 L624.1,307.8 L624.9,308.3 L625.6,314.5 L626.4,313.2 L627.2,314.5 L627.9,319.0 L628.7,314.0 L629.4,315.6 L630.2,315.4 L630.9,317.0 L631.6,317.8 L632.3,318.3 L633.0,313.9 L633.8,312.7 L634.5,310.1 L635.2,307.6 L635.8,302.3 L636.5,300.4 L637.1,298.0 L637.8,294.5 L638.4,292.7 L639.0,288.9 L639.7,290.1 L640.3,286.9 L641.0,290.5 L641.6,292.1 L642.3,294.6 L642.9,291.3 L643.6,287.7 L644.2,288.8 L644.9,292.8 L645.5,295.1 L646.2,298.5 L646.9,296.9 L647.7,300.4 L648.4,299.1 L649.1,302.4 L649.8,301.4 L650.5,300.7 L651.3,300.0 L652.0,298.5 L652.6,297.5 L653.3,296.2 L653.9,294.6 L654.5,289.7 L655.2,287.6 L655.8,284.9 L656.5,282.2 L657.1,280.7 L657.8,279.1 L658.4,276.9 L659.1,274.9 L659.7,271.4 L660.3,271.3 L661.0,262.3 L661.6,263.6 L662.3,261.3 L663.0,257.8 L663.6,258.1 L664.3,262.5 L664.9,259.7 L665.7,258.2 L666.5,253.9 L667.2,248.5 L668.0,248.1 L668.7,244.9 L669.4,240.4 L669.9,235.4 L670.4,232.0 L671.0,214.0 L671.6,224.0 L672.2,209.7 L672.9,226.0 L673.6,213.0 L674.3,229.0 L674.9,214.0 L675.8,231.3 L676.4,216.0 L677.0,224.0 L677.9,208.0 L678.5,193.5 L679.4,191.5 L680.3,186.5 L680.9,174.7 L681.5,178.4 L682.1,185.3 L683.0,184.0 L683.8,183.0 L684.4,180.0 L685.0,177.3 L685.6,174.7 L686.2,172.7 L686.8,172.4 L687.4,172.5 L688.0,178.2 L688.9,175.4 L689.7,171.2 L690.6,169.7 L691.5,165.3 L692.0,162.8 L692.6,160.6 L693.1,156.1 L693.6,154.7 L694.4,165.3 L695.0,162.8 L695.6,160.6 L696.2,157.0 L696.8,154.4 L697.4,152.4 L698.0,149.4 L698.5,146.5 L699.1,153.3 L699.7,155.9 L700.3,165.3 L701.0,168.9 L701.8,175.9 L702.5,176.8 L703.2,179.4 L703.8,175.3 L704.4,177.0 L705.0,178.4 L705.6,181.8 L706.5,186.5 L707.4,191.2 L708.2,188.9 L709.1,188.8 L709.7,186.8 L710.3,187.6 L710.9,188.4 L711.5,191.2 L712.0,196.2 L712.6,195.9 L713.2,199.7 L713.8,204.1 L714.4,197.5 L715.0,191.2 L715.6,189.8 L716.2,181.8 L716.8,179.3 L717.4,177.0 L718.0,170.3 L718.5,168.8 L719.1,167.1 L719.7,164.1 L720.3,161.5 L720.9,161.8 L721.5,163.1 L722.1,159.4 L722.7,154.6 L723.2,153.5 L723.7,150.9 L724.2,150.0 L725.0,159.4 L725.6,155.8 L726.2,157.0 L726.8,161.3 L727.4,165.3 L728.2,173.5 L729.1,165.3 L729.7,159.1 L730.3,155.9 L730.9,153.5 L731.5,151.2 L732.0,149.4 L732.6,148.8 L733.2,146.1 L733.8,145.3 L734.4,145.5 L735.0,142.9 L735.6,143.2 L736.2,140.6 L737.0,138.9 L737.9,137.0 L738.4,135.0 L738.9,135.8 L739.7,137.1 L740.5,141.6 L741.4,145.3 L742.2,148.2 L743.0,153.5 L743.9,151.6 L744.7,154.2 L745.5,158.2 L746.1,154.6 L746.7,153.3 L747.5,150.6 L748.3,150.0 L749.1,151.7 L750.0,156.6 L750.8,159.3 L751.6,164.9 L752.5,167.1 L753.3,169.9 L754.1,177.1 L755.0,179.9 L755.3,186.5 L756.0,181.5 L756.6,176.5 L757.5,169.9 L758.3,164.9 L759.1,165.0 L760.0,169.9 L760.8,171.9 L761.6,173.2 L762.5,170.7 L763.3,168.2 L764.1,170.5 L764.9,176.5 L765.8,173.2 L766.6,173.2 L767.5,169.0 L768.3,164.9 L769.1,163.9 L769.9,159.9 L770.8,164.2 L771.6,166.6 L772.4,168.6 L773.2,169.9 L774.0,170.3 L774.9,171.6 L775.8,174.5 L776.6,176.5 L777.2,179.8 L777.9,183.2 L778.5,192.3 L779.1,194.8 L779.9,194.8 L780.7,198.1 L781.5,198.4 L782.4,199.8 L783.2,200.9 L784.0,198.1 L784.9,204.8 L785.7,209.8 L786.5,223.1 L787.2,222.1 L787.8,224.1 L788.5,221.4 L789.2,223.0 L789.9,224.7 L790.7,224.1 L791.5,223.1 L792.4,220.0 L793.2,218.1 L794.0,213.5 L794.8,213.1 L795.6,210.8 L796.5,211.4 L797.4,213.1 L798.2,208.1 L798.9,207.8 L799.5,205.6 L800.0,209.4 L800.6,211.4 L801.5,215.3 L802.3,216.4 L803.1,218.9 L804.0,219.7 L804.5,218.8 L805.1,214.8 L805.8,218.6 L806.5,223.1 L807.3,223.6 L808.1,224.7 L809.0,225.4 L809.8,223.1 L810.6,223.4 L811.4,224.7 L812.2,224.4 L813.1,228.0 L814.0,225.2 L814.8,223.1 L815.6,218.9 L816.4,216.4 L817.1,221.5 L817.8,224.7 L818.3,227.8 L818.9,233.0 L819.5,233.9 L820.1,238.0 L820.8,235.9 L821.4,234.7 L822.2,236.2 L823.1,233.0 L823.9,232.1 L824.7,231.4 L825.5,233.7 L826.4,235.5 L827.2,235.9 L828.1,236.3 L828.9,236.7 L829.7,236.3 L830.5,234.4 L831.4,229.7 L832.2,226.8 L833.0,219.7 L833.9,215.6 L834.7,216.4 L835.5,216.8 L836.4,213.1 L837.0,215.3 L837.7,217.0 L838.3,219.7 L839.1,220.0 L840.0,213.1 L840.8,212.0 L841.6,211.4 L842.5,216.8 L843.3,216.4 L844.1,215.6 L845.0,210.4 L845.8,209.7 L846.6,208.0 L847.5,204.8 L848.3,206.7 L849.1,206.4 L850.0,204.6 L850.8,203.1 L851.6,198.4 L852.4,200.6 L853.2,202.2 L854.1,204.8 L855.0,206.2 L855.8,208.1 L856.6,205.6 L857.4,206.4 L858.2,210.8 L859.1,209.7 L859.9,210.2 L860.7,211.4 L861.5,210.0 L862.4,209.7 L863.2,211.0 L864.1,213.1 L864.9,214.0 L865.7,217.2 L866.5,210.6 L867.4,206.4 L868.2,206.0 L869.1,205.8 L869.9,204.8 L870.7,202.8 L871.5,202.3 L872.3,203.0 L873.2,201.9 L874.0,204.8 L874.8,206.1 L875.7,204.7 L876.5,206.4 L877.3,207.0 L878.2,205.6 L879.0,207.2 L879.6,211.0 L880.2,216.4 L880.9,216.2 L881.6,213.4 L882.3,214.7 L883.1,218.7 L884.0,215.2 L884.8,215.5 L885.6,214.6 L886.5,212.8 L887.3,213.1 L888.1,214.9 L889.0,214.0 L889.8,211.4 L890.6,212.7 L891.5,211.0 L892.3,213.9 L893.1,209.4 L894.0,206.4 L894.8,199.8 L895.6,199.6 L896.5,196.8 L897.3,196.4 L898.1,192.2 L899.0,191.5 L899.8,190.5 L900.6,193.1 L901.5,190.3 L902.3,189.8 L903.1,186.5 L903.9,183.2 L904.8,181.4 L905.6,181.5 L906.5,183.2 L907.3,184.8 L908.1,186.5 L908.9,179.8 L909.8,181.7 L910.6,178.2 L911.4,174.0 L912.2,177.0 L913.1,183.2 L913.9,185.8 L914.7,187.3 L915.5,184.5 L916.4,181.5 L917.2,178.8 L918.1,176.5 L918.9,174.8 L919.7,169.9 L920.5,166.9 L921.4,164.9 L922.0,160.3 L922.7,156.6 L923.3,151.9 L923.9,148.3 L924.7,145.6 L925.5,143.3 L926.2,149.9 L926.9,149.3 L927.5,144.9 L928.1,146.5 L928.8,143.7 L929.4,146.1 L930.0,147.9 L930.6,151.1 L931.2,152.4 L931.9,156.1 L932.7,159.9 L933.2,157.4 L933.7,152.4 L934.4,154.0 L935.0,154.9 L935.6,159.9 L936.2,162.3 L936.9,158.5 L937.5,154.9 L938.1,153.3 L938.7,157.4 L939.4,153.1 L940.0,147.4 L940.9,147.4 L941.8,146.8 L942.4,148.2 L943.1,146.0 L943.7,148.6 L944.3,150.0 L945.0,150.1 L945.6,152.4 L946.5,152.6 L947.4,154.9 L948.0,157.1 L948.7,158.8 L949.3,159.9 L950.0,162.3 L950.6,167.3 L951.2,161.0 L951.8,159.9 L952.5,153.0 L953.1,153.6 L953.7,151.5 L954.3,151.1 L954.9,154.7 L955.5,154.9 L956.2,157.3 L957.0,156.5 L957.7,162.3 L958.3,161.7 L958.9,163.6 L959.7,161.7 L960.5,158.6 L961.1,163.0 L961.8,162.3 L962.4,166.0 L963.0,166.1 L963.6,169.2 L964.3,171.1 L964.9,167.0 L965.5,162.3 L966.1,159.1 L966.8,158.4 L967.4,157.4 L968.0,158.1 L968.7,158.7 L969.3,161.1 L969.9,160.8 L970.5,159.7 L971.1,159.9 L971.8,158.5 L972.4,156.1 L973.0,157.4 L973.7,155.5 L974.3,153.6 L974.9,154.9 L975.5,154.9 L976.1,155.1 L976.7,156.1 L977.4,152.4 L977.7,144.9 L978.2,138.2 L978.8,136.0 L979.3,134.2 L979.9,132.7 L980.5,128.8 L981.0,128.8 L981.6,127.2 L982.2,123.7 L982.7,123.3 L983.2,124.1 L983.8,121.1 L984.3,119.7 L984.9,119.4 L985.8,118.9 L986.3,121.6 L986.9,127.2 L987.4,131.0 L988.0,127.2 L988.8,128.8 L989.6,125.5 L990.2,123.3 L990.7,128.3 L991.3,130.5 L991.9,133.8 L992.4,128.3 L993.0,121.1 L993.5,120.5 L994.3,122.7 L994.8,123.6 L995.2,123.3 L995.7,125.5 L996.3,128.8 L996.8,128.8 L997.2,128.9 L997.7,129.9 L998.2,132.1 L998.8,132.7" fill="none" stroke="#222" stroke-width="0.8" transform="translate(0.4,-1.1)"/>
  </g>
  <!-- red tops -->
  <g stroke="#cc5a84" stroke-width="2">
    <line x1="299.5" y1="547" x2="350.8" y2="547"/>
    <line x1="659.7" y1="207.8" x2="691.5" y2="207.8"/>
    <line x1="978" y1="118.2" x2="1012.4" y2="118.2"/>
  </g>
  <!-- red arcs -->
  <g fill="none" stroke="#a8404f" stroke-width="1.3">
    <path d="M419,246.8 C420.5,236 425,230.4 431.8,230.4 C439,230.4 445.2,235 445.3,243 L445.3,256"/>
    <path d="M726,137.8 C729.5,134.5 734,133.2 738.5,133.2 C745,133.2 751,135.2 752.8,140"/>
  </g>
  <!-- green arcs -->
  <g fill="none" stroke="#62a062" stroke-width="1.2">
    <path d="M307.2,570.6 C308,590 330,592 330.7,565"/>
    <path d="M658.7,234.6 C660,256 681,256 682,230.7"/>
    <path d="M984.4,134.4 C988,140 1006,142 1008.8,134.4"/>
  </g>
  <!-- arrows -->
  <g fill="none" stroke-width="1.4" stroke-linecap="round" stroke-linejoin="round">
    <path d="M338.5,559.6 L344.6,559.6 M338.5,559.6 L341.3,557 M338.5,559.6 L341.3,562.2" stroke="#a8445f"/>
    <path d="M684,217.2 L690.7,217.2 M684,217.2 L686.8,214.5 M684,217.2 L686.8,219.9" stroke="#963852"/>
    <path d="M1005.4,122.2 L1012.1,122.2 M1005.4,122.2 L1008.4,119.2 M1005.4,122.2 L1008.4,125.2" stroke="#a8445f"/>
    <path d="M652,224.9 L656.8,224.9 M656.8,224.9 L654.5,222.6 M656.8,224.9 L654.5,227.2" stroke="#4a78e0"/>
    <path d="M966.9,128.5 L971.9,128.5 M971.9,128.5 L969.7,126.3 M971.9,128.5 L969.7,130.8" stroke="#4a78e0"/>
    <path d="M211.5,665 L211.5,659.5 M211.5,659.5 L209.5,661.5 M211.5,659.5 L213.5,661.5" stroke="#963852" stroke-width="1.1"/>
    <path d="M518.5,396 L518.5,390.5 M518.5,390.5 L516.5,392.5 M518.5,390.5 L520.5,392.5" stroke="#963852" stroke-width="1.1"/>
    <path d="M830.2,249.5 L830.2,244 M830.2,244 L828.2,246 M830.2,244 L832.2,246" stroke="#963852" stroke-width="1.1"/>
  </g>
  <!-- dotted diagonals -->
  <g stroke="#555" stroke-width="0.8" stroke-dasharray="1 1.2">
    <line x1="308.5" y1="542" x2="325" y2="563"/>
    <line x1="678" y1="217" x2="695.5" y2="232.6"/>
    <line x1="971.6" y1="113.9" x2="1019.8" y2="131"/>
  </g>
  <!-- axes -->
  <line x1="1144.3" y1="0" x2="1144.3" y2="722" stroke="#555" stroke-width="1.2"/>
  <line x1="0" y1="704.3" x2="1200" y2="704.3" stroke="#444" stroke-width="1.2"/>
  <!-- title icon -->
  <circle cx="12" cy="10.7" r="6" fill="#3b63dc"/>
  <path d="M14.3,8.3 A3.2,3.2 0 1 0 14.3,13.1" fill="none" stroke="#fff" stroke-width="1.1"/>
  <!-- flag -->
  <path d="M252,7 L260,7 L257.5,10.7 L260,14.5 L252,14.5 Z" fill="#b565d4"/>
</svg>
<div id="title">Crypto Total Market Cap, $ · <span id="c3">3D · </span><span id="cc">CRYPTOCAP</span></div>
<div class="yl" style="top:34.4px">10.8 T</div>
<div class="yl" style="top:53.2px">8.4 T</div>
<div class="yl" style="top:71.2px">6.6 T</div>
<div class="yl" style="top:89.1px">5.2 T</div>
<div class="yl" style="top:108.7px">4 T</div>
<div class="yl" style="top:164.4px">1.9 T</div>
<div class="yl" style="top:182.0px">1.5 T</div>
<div class="yl" style="top:200.0px">1.18 T</div>
<div class="yl" style="top:217.0px">940 B</div>
<div class="yl" style="top:234.9px">740 B</div>
<div class="yl" style="top:253.1px">580 B</div>
<div class="yl" style="top:270.4px">460 B</div>
<div class="yl" style="top:288.8px">360 B</div>
<div class="yl" style="top:307.6px">280 B</div>
<div class="yl" style="top:325.6px">220 B</div>
<div class="yl" style="top:344.9px">170 B</div>
<div class="yl" style="top:362.1px">135 B</div>
<div class="yl" style="top:379.5px">107 B</div>
<div class="yl" style="top:398.5px">83 B</div>
<div class="yl" style="top:416.8px">65 B</div>
<div class="yl" style="top:434.9px">51 B</div>
<div class="yl" style="top:455.0px">39 B</div>
<div class="yl" style="top:472.1px">31 B</div>
<div class="yl" style="top:491.3px">24 B</div>
<div class="yl" style="top:508.8px">19 B</div>
<div class="yl" style="top:526.4px">15 B</div>
<div class="yl" style="top:544.4px">11.8 B</div>
<div class="yl" style="top:562.2px">9.3 B</div>
<div class="yl" style="top:580.3px">7.3 B</div>
<div class="yl" style="top:598.8px">5.7 B</div>
<div class="yl" style="top:616.5px">4.5 B</div>
<div class="yl" style="top:635.3px">3.5 B</div>
<div class="yl" style="top:653.3px">2.75 B</div>
<div class="yl" style="top:670.3px">2.19 B</div>
<div class="yl" style="top:127px;color:#2a2a2a">3.11 T</div>
<div class="yl" style="top:135px;font-size:7.4px;color:#222;letter-spacing:0">+44,872.48%</div>
<div class="yl" style="top:142.8px;color:#555;font-weight:normal;font-size:7.6px;word-spacing:0;letter-spacing:0">2d 13h</div>
<div class="abs" style="left:1150px;top:151.6px;height:2.2px;overflow:hidden"><div style="font-size:7px;line-height:9px;color:#333;font-weight:bold;margin-top:-2.2px">2.4 T</div></div>
<div class="yr" style="left:177.4px">2015</div>
<div class="yr" style="left:257.1px">2016</div>
<div class="yr" style="left:336.9px">2017</div>
<div class="yr" style="left:416.6px">2018</div>
<div class="yr" style="left:496.4px">2019</div>
<div class="yr" style="left:576.1px">2020</div>
<div class="yr" style="left:655.9px">2021</div>
<div class="yr" style="left:735.6px">2022</div>
<div class="yr" style="left:815.4px">2023</div>
<div class="yr" style="left:895.1px">2024</div>
<div class="yr" style="left:974.9px">2025</div>
<div class="yr" style="left:1054.7px">2026</div>


<div class="abs" style="left:1147px;top:3px;width:50.5px;height:16px;border:1px solid #eeeeee;border-radius:4px;box-sizing:border-box;"></div>
<div class="abs" style="left:1149.2px;top:6.6px;font-size:8.6px;line-height:11px;color:#333">USD</div>
<svg width="1200" height="722" style="pointer-events:none">
  <path d="M1190.8,10.8 L1192.3,12.3 L1193.8,10.8" fill="none" stroke="#222" stroke-width="1.2"/>
  <rect x="1157.8" y="686.8" width="12.4" height="13.6" rx="2.5" fill="#fff" stroke="#eee" stroke-width="0.8"/>
  <rect x="1173.4" y="686.6" width="12.9" height="14.2" rx="2.5" fill="#2d5ff0"/>
  <path d="M1167.5,712.7 L1169.8,708.5 L1174.6,708.5 L1176.9,712.7 L1174.6,716.9 L1169.8,716.9 Z" fill="none" stroke="#333" stroke-width="0.9"/>
  <circle cx="1172.2" cy="712.7" r="1.5" fill="none" stroke="#333" stroke-width="0.9"/>
  <rect x="0" y="721" width="1200" height="1" fill="#e6e6e6"/>
  <!-- TV logo -->
  <path d="M8.2,684.9 L15.7,684.9 L15.7,694.2 L11.9,694.2 L11.9,687.8 L8.2,687.8 Z" fill="#131722"/>
  <circle cx="19.4" cy="686.4" r="1.55" fill="#131722"/>
  <path d="M23.9,684.9 L27.4,684.9 L23.3,694.2 L19.7,694.2 Z" fill="#131722"/>
  <path d="M31,684.9 L53.6,684.9 L50.4,694.2 L27.3,694.2 Z" fill="#131722"/>
  <!-- dino -->
  <path d="M95.3,700.4 C97,697.5 99.5,693.3 103,693.3 C105,693.3 106.8,694 107.8,694.8 L107.8,690.3 C107.8,689.5 106,689.8 105.5,689.2 C104.8,688.2 105.5,686.3 107.5,686.3 C109.5,686.3 110.6,687.3 110.6,689 L110.6,696.8 C110.6,698 109.8,699 108.6,699.6 L108.3,702.3 L105.8,702.3 L105.8,700.6 L101.8,700.6 L101.6,702.3 L99.3,702.3 L99.1,700.4 Z" fill="none" stroke="#131722" stroke-width="1" stroke-linejoin="round"/>
</svg>
<div class="abs" style="left:1157.8px;top:688.6px;width:12.4px;text-align:center;font-size:9.4px;line-height:11px;color:#222">A</div>
<div class="abs" style="left:1173.6px;top:688.6px;width:12.9px;text-align:center;font-size:9.4px;line-height:11px;color:#fff">L</div>
<div class="abs" style="left:30.5px;top:685.6px;width:21px;text-align:center;font-size:6.6px;line-height:8px;color:#fff;font-weight:bold;letter-spacing:0.5px">PRO</div>
<div class="abs" style="left:120px;top:708px;font-size:7px;line-height:9px;color:#3a3a3a">Mar</div>
</body></html>
